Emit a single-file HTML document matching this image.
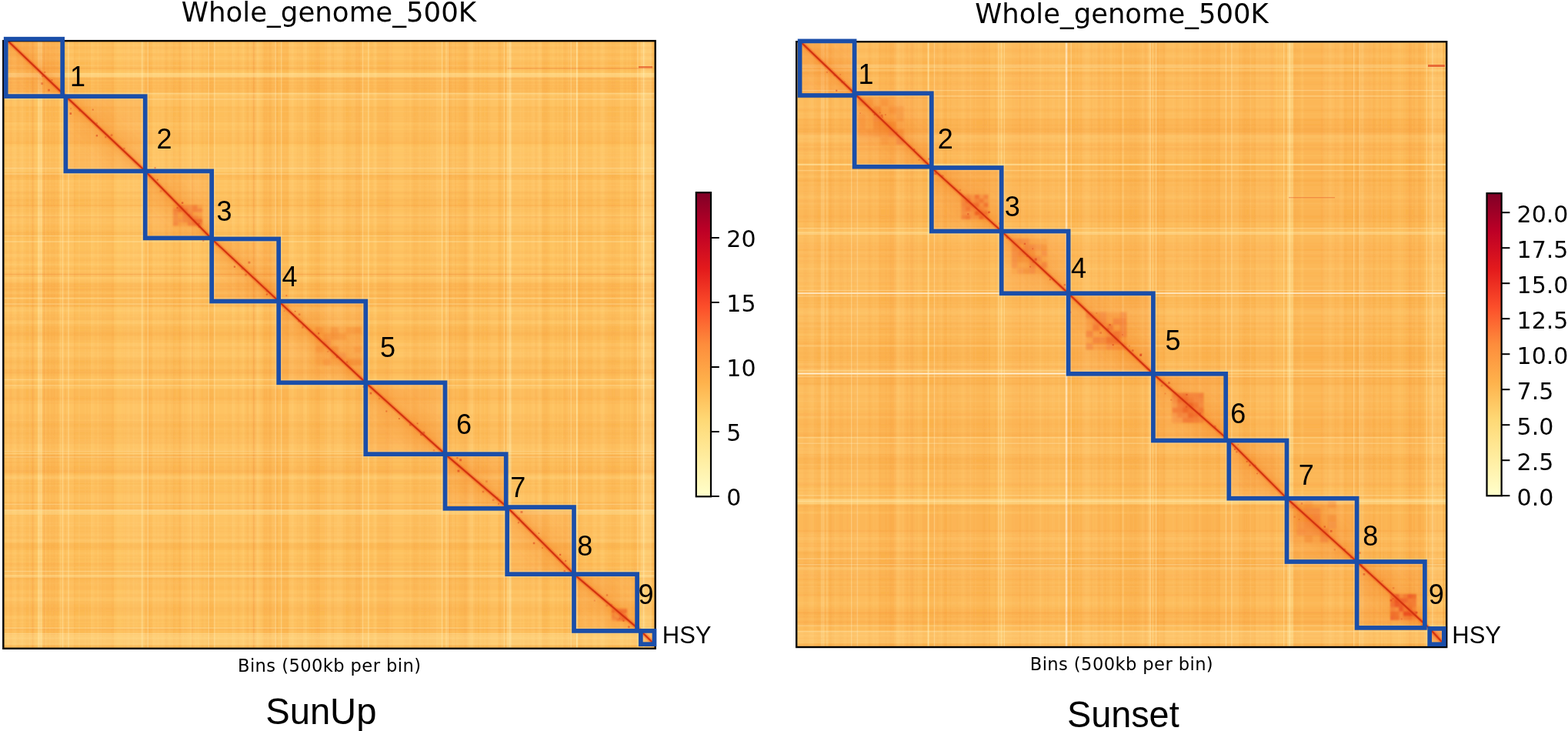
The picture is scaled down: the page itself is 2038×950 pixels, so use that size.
<!DOCTYPE html>
<html><head><meta charset="utf-8"><title>Whole genome Hi-C</title>
<style>
html,body{margin:0;padding:0;background:#fff;}
body{width:2038px;height:950px;overflow:hidden;position:relative;}
svg{position:absolute;left:0;top:0;display:block;}
.n{font-family:"Liberation Sans",Arial,sans-serif;font-size:36px;fill:#000;}
.h{font-family:"Liberation Sans",Arial,sans-serif;font-size:31px;fill:#000;}
.t{font-family:"DejaVu Sans",sans-serif;font-size:30px;fill:#000;}
.ti{font-family:"DejaVu Sans",sans-serif;font-size:37px;fill:#000;text-anchor:middle;}
.xl{font-family:"DejaVu Sans",sans-serif;font-size:22.6px;fill:#000;text-anchor:middle;}
.big{font-family:"Liberation Sans",Arial,sans-serif;font-size:49px;fill:#000;text-anchor:middle;}
</style></head>
<body>
<svg width="2038" height="950" viewBox="0 0 2038 950">
<defs><linearGradient id="ylorrd" x1="0" y1="1" x2="0" y2="0"><stop offset="0.000" stop-color="#ffffcc"/><stop offset="0.125" stop-color="#ffeda0"/><stop offset="0.250" stop-color="#fed976"/><stop offset="0.375" stop-color="#feb24c"/><stop offset="0.500" stop-color="#fd8d3c"/><stop offset="0.625" stop-color="#fc4e2a"/><stop offset="0.750" stop-color="#e31a1c"/><stop offset="0.875" stop-color="#bd0026"/><stop offset="1.000" stop-color="#800026"/></linearGradient><filter id="blur3" x="-50%" y="-50%" width="200%" height="200%"><feGaussianBlur stdDeviation="3"/></filter><filter id="soft" x="0" y="0" width="100%" height="100%"><feGaussianBlur stdDeviation="0.6"/></filter><filter id="blur1" x="-10%" y="-10%" width="120%" height="120%"><feGaussianBlur stdDeviation="1.3"/></filter><filter id="blur8" x="-20%" y="-20%" width="140%" height="140%"><feGaussianBlur stdDeviation="8"/></filter></defs>
<clipPath id="cL"><rect x="4.3" y="53.1" width="847.4" height="789.7"/></clipPath>
<clipPath id="kL"><rect x="7.7" y="50.7" width="73.5" height="74.4"/><rect x="85.4" y="125.2" width="103.3" height="97.2"/><rect x="188.7" y="222.4" width="86.5" height="87"/><rect x="275.2" y="310.5" width="87" height="81"/><rect x="362.2" y="391.5" width="113.1" height="105.8"/><rect x="475.3" y="497.3" width="103.2" height="92.9"/><rect x="578.5" y="590.2" width="79.2" height="70.6"/><rect x="659.2" y="659.1" width="86.8" height="87.1"/><rect x="746" y="746.2" width="82.1" height="73.7"/><rect x="832.8" y="819.9" width="17.7" height="17.3"/></clipPath>
<g clip-path="url(#cL)">
<rect x="4.3" y="53.1" width="847.4" height="789.7" fill="#febf5b"/>
<g filter="url(#soft)"><rect x="5.4" y="54.2" width="2" height="787.5" fill="#f08a30" fill-opacity="0.080"/><rect x="9.4" y="54.2" width="2" height="787.5" fill="#fff2b0" fill-opacity="0.046"/><rect x="11.4" y="54.2" width="2" height="787.5" fill="#f08a30" fill-opacity="0.033"/><rect x="13.4" y="54.2" width="2" height="787.5" fill="#f08a30" fill-opacity="0.082"/><rect x="17.5" y="54.2" width="2" height="787.5" fill="#fff2b0" fill-opacity="0.033"/><rect x="19.5" y="54.2" width="2" height="787.5" fill="#fff2b0" fill-opacity="0.044"/><rect x="21.5" y="54.2" width="2" height="787.5" fill="#f08a30" fill-opacity="0.071"/><rect x="23.5" y="54.2" width="2" height="787.5" fill="#f08a30" fill-opacity="0.080"/><rect x="27.5" y="54.2" width="2" height="787.5" fill="#fff2b0" fill-opacity="0.045"/><rect x="29.5" y="54.2" width="2" height="787.5" fill="#fff2b0" fill-opacity="0.087"/><rect x="31.6" y="54.2" width="2" height="787.5" fill="#fff2b0" fill-opacity="0.061"/><rect x="37.6" y="54.2" width="2" height="787.5" fill="#fff2b0" fill-opacity="0.116"/><rect x="41.6" y="54.2" width="2" height="787.5" fill="#f08a30" fill-opacity="0.062"/><rect x="43.6" y="54.2" width="2" height="787.5" fill="#f08a30" fill-opacity="0.073"/><rect x="55.7" y="54.2" width="2" height="787.5" fill="#fff2b0" fill-opacity="0.047"/><rect x="57.7" y="54.2" width="2" height="787.5" fill="#fff2b0" fill-opacity="0.061"/><rect x="61.7" y="54.2" width="2" height="787.5" fill="#f08a30" fill-opacity="0.090"/><rect x="65.8" y="54.2" width="2" height="787.5" fill="#f08a30" fill-opacity="0.074"/><rect x="67.8" y="54.2" width="2" height="787.5" fill="#f08a30" fill-opacity="0.045"/><rect x="69.8" y="54.2" width="2" height="787.5" fill="#f08a30" fill-opacity="0.086"/><rect x="73.8" y="54.2" width="2" height="787.5" fill="#f08a30" fill-opacity="0.042"/><rect x="75.8" y="54.2" width="2" height="787.5" fill="#fff2b0" fill-opacity="0.036"/><rect x="77.8" y="54.2" width="2" height="787.5" fill="#fff2b0" fill-opacity="0.158"/><rect x="79.9" y="54.2" width="2" height="787.5" fill="#fff2b0" fill-opacity="0.040"/><rect x="83.9" y="54.2" width="2" height="787.5" fill="#f08a30" fill-opacity="0.068"/><rect x="96" y="54.2" width="2" height="787.5" fill="#f08a30" fill-opacity="0.049"/><rect x="102" y="54.2" width="2" height="787.5" fill="#fff2b0" fill-opacity="0.075"/><rect x="110" y="54.2" width="2" height="787.5" fill="#fff2b0" fill-opacity="0.039"/><rect x="114.1" y="54.2" width="2" height="787.5" fill="#fff2b0" fill-opacity="0.040"/><rect x="118.1" y="54.2" width="2" height="787.5" fill="#fff2b0" fill-opacity="0.065"/><rect x="120.1" y="54.2" width="2" height="787.5" fill="#fff2b0" fill-opacity="0.044"/><rect x="124.1" y="54.2" width="2" height="787.5" fill="#f08a30" fill-opacity="0.033"/><rect x="126.1" y="54.2" width="2" height="787.5" fill="#fff2b0" fill-opacity="0.033"/><rect x="128.2" y="54.2" width="2" height="787.5" fill="#fff2b0" fill-opacity="0.047"/><rect x="130.2" y="54.2" width="2" height="787.5" fill="#fff2b0" fill-opacity="0.079"/><rect x="134.2" y="54.2" width="2" height="787.5" fill="#fff2b0" fill-opacity="0.028"/><rect x="136.2" y="54.2" width="2" height="787.5" fill="#fff2b0" fill-opacity="0.032"/><rect x="144.3" y="54.2" width="2" height="787.5" fill="#f08a30" fill-opacity="0.044"/><rect x="146.3" y="54.2" width="2" height="787.5" fill="#f08a30" fill-opacity="0.070"/><rect x="150.3" y="54.2" width="2" height="787.5" fill="#fff2b0" fill-opacity="0.039"/><rect x="152.3" y="54.2" width="2" height="787.5" fill="#fff2b0" fill-opacity="0.087"/><rect x="154.3" y="54.2" width="2" height="787.5" fill="#fff2b0" fill-opacity="0.072"/><rect x="156.3" y="54.2" width="2" height="787.5" fill="#fff2b0" fill-opacity="0.068"/><rect x="158.3" y="54.2" width="2" height="787.5" fill="#fff2b0" fill-opacity="0.054"/><rect x="160.4" y="54.2" width="2" height="787.5" fill="#fff2b0" fill-opacity="0.043"/><rect x="164.4" y="54.2" width="2" height="787.5" fill="#fff2b0" fill-opacity="0.056"/><rect x="166.4" y="54.2" width="2" height="787.5" fill="#fff2b0" fill-opacity="0.088"/><rect x="172.4" y="54.2" width="2" height="787.5" fill="#fff2b0" fill-opacity="0.088"/><rect x="174.4" y="54.2" width="2" height="787.5" fill="#fff2b0" fill-opacity="0.041"/><rect x="176.5" y="54.2" width="2" height="787.5" fill="#fff2b0" fill-opacity="0.057"/><rect x="178.5" y="54.2" width="2" height="787.5" fill="#fff2b0" fill-opacity="0.040"/><rect x="182.5" y="54.2" width="2" height="787.5" fill="#fff2b0" fill-opacity="0.121"/><rect x="184.5" y="54.2" width="2" height="787.5" fill="#fff2b0" fill-opacity="0.110"/><rect x="186.5" y="54.2" width="2" height="787.5" fill="#fff2b0" fill-opacity="0.034"/><rect x="188.5" y="54.2" width="2" height="787.5" fill="#fff2b0" fill-opacity="0.039"/><rect x="192.6" y="54.2" width="2" height="787.5" fill="#f08a30" fill-opacity="0.050"/><rect x="196.6" y="54.2" width="2" height="787.5" fill="#fff2b0" fill-opacity="0.028"/><rect x="198.6" y="54.2" width="2" height="787.5" fill="#fff2b0" fill-opacity="0.064"/><rect x="200.6" y="54.2" width="2" height="787.5" fill="#fff2b0" fill-opacity="0.045"/><rect x="204.6" y="54.2" width="2" height="787.5" fill="#fff2b0" fill-opacity="0.057"/><rect x="208.7" y="54.2" width="2" height="787.5" fill="#fff2b0" fill-opacity="0.041"/><rect x="210.7" y="54.2" width="2" height="787.5" fill="#fff2b0" fill-opacity="0.058"/><rect x="214.7" y="54.2" width="2" height="787.5" fill="#f08a30" fill-opacity="0.116"/><rect x="216.7" y="54.2" width="2" height="787.5" fill="#f08a30" fill-opacity="0.070"/><rect x="220.7" y="54.2" width="2" height="787.5" fill="#fff2b0" fill-opacity="0.043"/><rect x="222.7" y="54.2" width="2" height="787.5" fill="#fff2b0" fill-opacity="0.068"/><rect x="224.7" y="54.2" width="2" height="787.5" fill="#f08a30" fill-opacity="0.038"/><rect x="228.8" y="54.2" width="2" height="787.5" fill="#fff2b0" fill-opacity="0.029"/><rect x="232.8" y="54.2" width="2" height="787.5" fill="#f08a30" fill-opacity="0.126"/><rect x="234.8" y="54.2" width="2" height="787.5" fill="#fff2b0" fill-opacity="0.038"/><rect x="236.8" y="54.2" width="2" height="787.5" fill="#fff2b0" fill-opacity="0.128"/><rect x="238.8" y="54.2" width="2" height="787.5" fill="#fff2b0" fill-opacity="0.062"/><rect x="240.8" y="54.2" width="2" height="787.5" fill="#f08a30" fill-opacity="0.045"/><rect x="244.9" y="54.2" width="2" height="787.5" fill="#fff2b0" fill-opacity="0.032"/><rect x="246.9" y="54.2" width="2" height="787.5" fill="#fff2b0" fill-opacity="0.126"/><rect x="248.9" y="54.2" width="2" height="787.5" fill="#fff2b0" fill-opacity="0.056"/><rect x="252.9" y="54.2" width="2" height="787.5" fill="#fff2b0" fill-opacity="0.074"/><rect x="254.9" y="54.2" width="2" height="787.5" fill="#fff2b0" fill-opacity="0.031"/><rect x="256.9" y="54.2" width="2" height="787.5" fill="#fff2b0" fill-opacity="0.080"/><rect x="263" y="54.2" width="2" height="787.5" fill="#fff2b0" fill-opacity="0.044"/><rect x="265" y="54.2" width="2" height="787.5" fill="#fff2b0" fill-opacity="0.081"/><rect x="267" y="54.2" width="2" height="787.5" fill="#fff2b0" fill-opacity="0.048"/><rect x="271" y="54.2" width="2" height="787.5" fill="#f08a30" fill-opacity="0.108"/><rect x="273" y="54.2" width="2" height="787.5" fill="#f08a30" fill-opacity="0.070"/><rect x="275.1" y="54.2" width="2" height="787.5" fill="#f08a30" fill-opacity="0.050"/><rect x="283.1" y="54.2" width="2" height="787.5" fill="#fff2b0" fill-opacity="0.035"/><rect x="291.2" y="54.2" width="2" height="787.5" fill="#fff2b0" fill-opacity="0.030"/><rect x="293.2" y="54.2" width="2" height="787.5" fill="#fff2b0" fill-opacity="0.040"/><rect x="297.2" y="54.2" width="2" height="787.5" fill="#f08a30" fill-opacity="0.036"/><rect x="299.2" y="54.2" width="2" height="787.5" fill="#f08a30" fill-opacity="0.061"/><rect x="301.2" y="54.2" width="2" height="787.5" fill="#fff2b0" fill-opacity="0.077"/><rect x="303.2" y="54.2" width="2" height="787.5" fill="#fff2b0" fill-opacity="0.083"/><rect x="307.3" y="54.2" width="2" height="787.5" fill="#f08a30" fill-opacity="0.044"/><rect x="309.3" y="54.2" width="2" height="787.5" fill="#f08a30" fill-opacity="0.074"/><rect x="313.3" y="54.2" width="2" height="787.5" fill="#fff2b0" fill-opacity="0.034"/><rect x="315.3" y="54.2" width="2" height="787.5" fill="#fff2b0" fill-opacity="0.108"/><rect x="319.3" y="54.2" width="2" height="787.5" fill="#f08a30" fill-opacity="0.071"/><rect x="321.3" y="54.2" width="2" height="787.5" fill="#f08a30" fill-opacity="0.131"/><rect x="323.4" y="54.2" width="2" height="787.5" fill="#fff2b0" fill-opacity="0.044"/><rect x="327.4" y="54.2" width="2" height="787.5" fill="#f08a30" fill-opacity="0.087"/><rect x="331.4" y="54.2" width="2" height="787.5" fill="#f08a30" fill-opacity="0.047"/><rect x="333.4" y="54.2" width="2" height="787.5" fill="#fff2b0" fill-opacity="0.159"/><rect x="335.4" y="54.2" width="2" height="787.5" fill="#fff2b0" fill-opacity="0.094"/><rect x="337.4" y="54.2" width="2" height="787.5" fill="#fff2b0" fill-opacity="0.037"/><rect x="341.5" y="54.2" width="2" height="787.5" fill="#f08a30" fill-opacity="0.125"/><rect x="343.5" y="54.2" width="2" height="787.5" fill="#f08a30" fill-opacity="0.052"/><rect x="345.5" y="54.2" width="2" height="787.5" fill="#f08a30" fill-opacity="0.082"/><rect x="349.5" y="54.2" width="2" height="787.5" fill="#f08a30" fill-opacity="0.125"/><rect x="351.5" y="54.2" width="2" height="787.5" fill="#f08a30" fill-opacity="0.063"/><rect x="353.5" y="54.2" width="2" height="787.5" fill="#fff2b0" fill-opacity="0.065"/><rect x="355.6" y="54.2" width="2" height="787.5" fill="#fff2b0" fill-opacity="0.078"/><rect x="357.6" y="54.2" width="2" height="787.5" fill="#f08a30" fill-opacity="0.066"/><rect x="359.6" y="54.2" width="2" height="787.5" fill="#f08a30" fill-opacity="0.091"/><rect x="361.6" y="54.2" width="2" height="787.5" fill="#fff2b0" fill-opacity="0.035"/><rect x="363.6" y="54.2" width="2" height="787.5" fill="#fff2b0" fill-opacity="0.039"/><rect x="365.6" y="54.2" width="2" height="787.5" fill="#f08a30" fill-opacity="0.054"/><rect x="367.6" y="54.2" width="2" height="787.5" fill="#f08a30" fill-opacity="0.060"/><rect x="369.6" y="54.2" width="2" height="787.5" fill="#f08a30" fill-opacity="0.062"/><rect x="371.7" y="54.2" width="2" height="787.5" fill="#f08a30" fill-opacity="0.084"/><rect x="373.7" y="54.2" width="2" height="787.5" fill="#f08a30" fill-opacity="0.038"/><rect x="375.7" y="54.2" width="2" height="787.5" fill="#fff2b0" fill-opacity="0.059"/><rect x="377.7" y="54.2" width="2" height="787.5" fill="#fff2b0" fill-opacity="0.066"/><rect x="379.7" y="54.2" width="2" height="787.5" fill="#fff2b0" fill-opacity="0.103"/><rect x="385.7" y="54.2" width="2" height="787.5" fill="#f08a30" fill-opacity="0.059"/><rect x="387.8" y="54.2" width="2" height="787.5" fill="#f08a30" fill-opacity="0.035"/><rect x="389.8" y="54.2" width="2" height="787.5" fill="#f08a30" fill-opacity="0.098"/><rect x="391.8" y="54.2" width="2" height="787.5" fill="#f08a30" fill-opacity="0.108"/><rect x="393.8" y="54.2" width="2" height="787.5" fill="#fff2b0" fill-opacity="0.030"/><rect x="395.8" y="54.2" width="2" height="787.5" fill="#fff2b0" fill-opacity="0.084"/><rect x="397.8" y="54.2" width="2" height="787.5" fill="#fff2b0" fill-opacity="0.068"/><rect x="399.8" y="54.2" width="2" height="787.5" fill="#fff2b0" fill-opacity="0.074"/><rect x="403.9" y="54.2" width="2" height="787.5" fill="#f08a30" fill-opacity="0.037"/><rect x="407.9" y="54.2" width="2" height="787.5" fill="#f08a30" fill-opacity="0.034"/><rect x="409.9" y="54.2" width="2" height="787.5" fill="#f08a30" fill-opacity="0.088"/><rect x="411.9" y="54.2" width="2" height="787.5" fill="#f08a30" fill-opacity="0.127"/><rect x="413.9" y="54.2" width="2" height="787.5" fill="#f08a30" fill-opacity="0.105"/><rect x="422" y="54.2" width="2" height="787.5" fill="#fff2b0" fill-opacity="0.065"/><rect x="424" y="54.2" width="2" height="787.5" fill="#fff2b0" fill-opacity="0.029"/><rect x="426" y="54.2" width="2" height="787.5" fill="#fff2b0" fill-opacity="0.042"/><rect x="428" y="54.2" width="2" height="787.5" fill="#fff2b0" fill-opacity="0.055"/><rect x="430" y="54.2" width="2" height="787.5" fill="#f08a30" fill-opacity="0.056"/><rect x="432" y="54.2" width="2" height="787.5" fill="#f08a30" fill-opacity="0.113"/><rect x="438.1" y="54.2" width="2" height="787.5" fill="#fff2b0" fill-opacity="0.058"/><rect x="440.1" y="54.2" width="2" height="787.5" fill="#fff2b0" fill-opacity="0.039"/><rect x="442.1" y="54.2" width="2" height="787.5" fill="#fff2b0" fill-opacity="0.059"/><rect x="446.1" y="54.2" width="2" height="787.5" fill="#f08a30" fill-opacity="0.100"/><rect x="450.1" y="54.2" width="2" height="787.5" fill="#f08a30" fill-opacity="0.039"/><rect x="452.1" y="54.2" width="2" height="787.5" fill="#f08a30" fill-opacity="0.056"/><rect x="456.2" y="54.2" width="2" height="787.5" fill="#fff2b0" fill-opacity="0.041"/><rect x="458.2" y="54.2" width="2" height="787.5" fill="#fff2b0" fill-opacity="0.060"/><rect x="460.2" y="54.2" width="2" height="787.5" fill="#fff2b0" fill-opacity="0.040"/><rect x="462.2" y="54.2" width="2" height="787.5" fill="#f08a30" fill-opacity="0.089"/><rect x="464.2" y="54.2" width="2" height="787.5" fill="#f08a30" fill-opacity="0.083"/><rect x="466.2" y="54.2" width="2" height="787.5" fill="#f08a30" fill-opacity="0.143"/><rect x="472.3" y="54.2" width="2" height="787.5" fill="#f08a30" fill-opacity="0.033"/><rect x="478.3" y="54.2" width="2" height="787.5" fill="#fff2b0" fill-opacity="0.042"/><rect x="480.3" y="54.2" width="2" height="787.5" fill="#f08a30" fill-opacity="0.044"/><rect x="482.3" y="54.2" width="2" height="787.5" fill="#f08a30" fill-opacity="0.066"/><rect x="486.4" y="54.2" width="2" height="787.5" fill="#fff2b0" fill-opacity="0.086"/><rect x="488.4" y="54.2" width="2" height="787.5" fill="#fff2b0" fill-opacity="0.068"/><rect x="500.4" y="54.2" width="2" height="787.5" fill="#f08a30" fill-opacity="0.037"/><rect x="502.5" y="54.2" width="2" height="787.5" fill="#f08a30" fill-opacity="0.083"/><rect x="506.5" y="54.2" width="2" height="787.5" fill="#fff2b0" fill-opacity="0.077"/><rect x="508.5" y="54.2" width="2" height="787.5" fill="#fff2b0" fill-opacity="0.043"/><rect x="524.6" y="54.2" width="2" height="787.5" fill="#f08a30" fill-opacity="0.049"/><rect x="526.6" y="54.2" width="2" height="787.5" fill="#f08a30" fill-opacity="0.066"/><rect x="528.6" y="54.2" width="2" height="787.5" fill="#f08a30" fill-opacity="0.079"/><rect x="530.6" y="54.2" width="2" height="787.5" fill="#f08a30" fill-opacity="0.062"/><rect x="534.7" y="54.2" width="2" height="787.5" fill="#f08a30" fill-opacity="0.126"/><rect x="536.7" y="54.2" width="2" height="787.5" fill="#f08a30" fill-opacity="0.051"/><rect x="538.7" y="54.2" width="2" height="787.5" fill="#f08a30" fill-opacity="0.045"/><rect x="540.7" y="54.2" width="2" height="787.5" fill="#f08a30" fill-opacity="0.041"/><rect x="544.7" y="54.2" width="2" height="787.5" fill="#fff2b0" fill-opacity="0.055"/><rect x="550.8" y="54.2" width="2" height="787.5" fill="#f08a30" fill-opacity="0.038"/><rect x="554.8" y="54.2" width="2" height="787.5" fill="#fff2b0" fill-opacity="0.038"/><rect x="558.8" y="54.2" width="2" height="787.5" fill="#f08a30" fill-opacity="0.085"/><rect x="560.8" y="54.2" width="2" height="787.5" fill="#f08a30" fill-opacity="0.099"/><rect x="562.8" y="54.2" width="2" height="787.5" fill="#f08a30" fill-opacity="0.095"/><rect x="564.8" y="54.2" width="2" height="787.5" fill="#f08a30" fill-opacity="0.079"/><rect x="566.9" y="54.2" width="2" height="787.5" fill="#fff2b0" fill-opacity="0.041"/><rect x="572.9" y="54.2" width="2" height="787.5" fill="#fff2b0" fill-opacity="0.060"/><rect x="576.9" y="54.2" width="2" height="787.5" fill="#fff2b0" fill-opacity="0.037"/><rect x="578.9" y="54.2" width="2" height="787.5" fill="#fff2b0" fill-opacity="0.030"/><rect x="580.9" y="54.2" width="2" height="787.5" fill="#f08a30" fill-opacity="0.097"/><rect x="583" y="54.2" width="2" height="787.5" fill="#f08a30" fill-opacity="0.118"/><rect x="585" y="54.2" width="2" height="787.5" fill="#f08a30" fill-opacity="0.060"/><rect x="587" y="54.2" width="2" height="787.5" fill="#fff2b0" fill-opacity="0.047"/><rect x="589" y="54.2" width="2" height="787.5" fill="#fff2b0" fill-opacity="0.058"/><rect x="591" y="54.2" width="2" height="787.5" fill="#f08a30" fill-opacity="0.041"/><rect x="593" y="54.2" width="2" height="787.5" fill="#fff2b0" fill-opacity="0.033"/><rect x="597" y="54.2" width="2" height="787.5" fill="#f08a30" fill-opacity="0.034"/><rect x="599.1" y="54.2" width="2" height="787.5" fill="#f08a30" fill-opacity="0.040"/><rect x="601.1" y="54.2" width="2" height="787.5" fill="#f08a30" fill-opacity="0.047"/><rect x="603.1" y="54.2" width="2" height="787.5" fill="#f08a30" fill-opacity="0.119"/><rect x="605.1" y="54.2" width="2" height="787.5" fill="#f08a30" fill-opacity="0.094"/><rect x="607.1" y="54.2" width="2" height="787.5" fill="#f08a30" fill-opacity="0.076"/><rect x="609.1" y="54.2" width="2" height="787.5" fill="#fff2b0" fill-opacity="0.032"/><rect x="611.1" y="54.2" width="2" height="787.5" fill="#fff2b0" fill-opacity="0.131"/><rect x="613.1" y="54.2" width="2" height="787.5" fill="#fff2b0" fill-opacity="0.147"/><rect x="617.2" y="54.2" width="2" height="787.5" fill="#f08a30" fill-opacity="0.107"/><rect x="619.2" y="54.2" width="2" height="787.5" fill="#f08a30" fill-opacity="0.055"/><rect x="621.2" y="54.2" width="2" height="787.5" fill="#f08a30" fill-opacity="0.034"/><rect x="623.2" y="54.2" width="2" height="787.5" fill="#fff2b0" fill-opacity="0.090"/><rect x="625.2" y="54.2" width="2" height="787.5" fill="#fff2b0" fill-opacity="0.040"/><rect x="629.2" y="54.2" width="2" height="787.5" fill="#fff2b0" fill-opacity="0.042"/><rect x="633.3" y="54.2" width="2" height="787.5" fill="#f08a30" fill-opacity="0.092"/><rect x="635.3" y="54.2" width="2" height="787.5" fill="#f08a30" fill-opacity="0.053"/><rect x="647.3" y="54.2" width="2" height="787.5" fill="#f08a30" fill-opacity="0.042"/><rect x="649.4" y="54.2" width="2" height="787.5" fill="#f08a30" fill-opacity="0.040"/><rect x="651.4" y="54.2" width="2" height="787.5" fill="#fff2b0" fill-opacity="0.066"/><rect x="653.4" y="54.2" width="2" height="787.5" fill="#fff2b0" fill-opacity="0.037"/><rect x="657.4" y="54.2" width="2" height="787.5" fill="#f08a30" fill-opacity="0.087"/><rect x="663.4" y="54.2" width="2" height="787.5" fill="#f08a30" fill-opacity="0.050"/><rect x="665.5" y="54.2" width="2" height="787.5" fill="#fff2b0" fill-opacity="0.035"/><rect x="675.5" y="54.2" width="2" height="787.5" fill="#fff2b0" fill-opacity="0.055"/><rect x="679.5" y="54.2" width="2" height="787.5" fill="#fff2b0" fill-opacity="0.062"/><rect x="681.6" y="54.2" width="2" height="787.5" fill="#f08a30" fill-opacity="0.037"/><rect x="683.6" y="54.2" width="2" height="787.5" fill="#f08a30" fill-opacity="0.054"/><rect x="687.6" y="54.2" width="2" height="787.5" fill="#f08a30" fill-opacity="0.056"/><rect x="691.6" y="54.2" width="2" height="787.5" fill="#fff2b0" fill-opacity="0.051"/><rect x="693.6" y="54.2" width="2" height="787.5" fill="#fff2b0" fill-opacity="0.048"/><rect x="695.6" y="54.2" width="2" height="787.5" fill="#f08a30" fill-opacity="0.080"/><rect x="699.7" y="54.2" width="2" height="787.5" fill="#fff2b0" fill-opacity="0.106"/><rect x="701.7" y="54.2" width="2" height="787.5" fill="#fff2b0" fill-opacity="0.073"/><rect x="705.7" y="54.2" width="2" height="787.5" fill="#f08a30" fill-opacity="0.041"/><rect x="707.7" y="54.2" width="2" height="787.5" fill="#f08a30" fill-opacity="0.038"/><rect x="709.7" y="54.2" width="2" height="787.5" fill="#f08a30" fill-opacity="0.072"/><rect x="717.8" y="54.2" width="2" height="787.5" fill="#fff2b0" fill-opacity="0.052"/><rect x="721.8" y="54.2" width="2" height="787.5" fill="#f08a30" fill-opacity="0.073"/><rect x="725.8" y="54.2" width="2" height="787.5" fill="#f08a30" fill-opacity="0.053"/><rect x="727.8" y="54.2" width="2" height="787.5" fill="#f08a30" fill-opacity="0.040"/><rect x="731.9" y="54.2" width="2" height="787.5" fill="#f08a30" fill-opacity="0.033"/><rect x="733.9" y="54.2" width="2" height="787.5" fill="#f08a30" fill-opacity="0.064"/><rect x="737.9" y="54.2" width="2" height="787.5" fill="#fff2b0" fill-opacity="0.095"/><rect x="743.9" y="54.2" width="2" height="787.5" fill="#fff2b0" fill-opacity="0.059"/><rect x="746" y="54.2" width="2" height="787.5" fill="#fff2b0" fill-opacity="0.054"/><rect x="748" y="54.2" width="2" height="787.5" fill="#fff2b0" fill-opacity="0.052"/><rect x="750" y="54.2" width="2" height="787.5" fill="#fff2b0" fill-opacity="0.029"/><rect x="752" y="54.2" width="2" height="787.5" fill="#f08a30" fill-opacity="0.112"/><rect x="754" y="54.2" width="2" height="787.5" fill="#f08a30" fill-opacity="0.071"/><rect x="758" y="54.2" width="2" height="787.5" fill="#fff2b0" fill-opacity="0.038"/><rect x="760" y="54.2" width="2" height="787.5" fill="#fff2b0" fill-opacity="0.071"/><rect x="762.1" y="54.2" width="2" height="787.5" fill="#fff2b0" fill-opacity="0.033"/><rect x="772.1" y="54.2" width="2" height="787.5" fill="#fff2b0" fill-opacity="0.031"/><rect x="776.1" y="54.2" width="2" height="787.5" fill="#f08a30" fill-opacity="0.061"/><rect x="778.2" y="54.2" width="2" height="787.5" fill="#f08a30" fill-opacity="0.045"/><rect x="780.2" y="54.2" width="2" height="787.5" fill="#fff2b0" fill-opacity="0.056"/><rect x="782.2" y="54.2" width="2" height="787.5" fill="#fff2b0" fill-opacity="0.082"/><rect x="784.2" y="54.2" width="2" height="787.5" fill="#fff2b0" fill-opacity="0.069"/><rect x="786.2" y="54.2" width="2" height="787.5" fill="#fff2b0" fill-opacity="0.059"/><rect x="788.2" y="54.2" width="2" height="787.5" fill="#fff2b0" fill-opacity="0.048"/><rect x="794.3" y="54.2" width="2" height="787.5" fill="#f08a30" fill-opacity="0.054"/><rect x="796.3" y="54.2" width="2" height="787.5" fill="#f08a30" fill-opacity="0.033"/><rect x="798.3" y="54.2" width="2" height="787.5" fill="#f08a30" fill-opacity="0.035"/><rect x="806.3" y="54.2" width="2" height="787.5" fill="#fff2b0" fill-opacity="0.032"/><rect x="808.3" y="54.2" width="2" height="787.5" fill="#fff2b0" fill-opacity="0.060"/><rect x="810.4" y="54.2" width="2" height="787.5" fill="#f08a30" fill-opacity="0.040"/><rect x="812.4" y="54.2" width="2" height="787.5" fill="#f08a30" fill-opacity="0.053"/><rect x="816.4" y="54.2" width="2" height="787.5" fill="#f08a30" fill-opacity="0.047"/><rect x="822.4" y="54.2" width="2" height="787.5" fill="#f08a30" fill-opacity="0.035"/><rect x="824.4" y="54.2" width="2" height="787.5" fill="#f08a30" fill-opacity="0.096"/><rect x="832.5" y="54.2" width="2" height="787.5" fill="#fff2b0" fill-opacity="0.096"/><rect x="834.5" y="54.2" width="2" height="787.5" fill="#fff2b0" fill-opacity="0.090"/><rect x="836.5" y="54.2" width="2" height="787.5" fill="#fff2b0" fill-opacity="0.177"/><rect x="838.5" y="54.2" width="2" height="787.5" fill="#fff2b0" fill-opacity="0.051"/><rect x="844.6" y="54.2" width="2" height="787.5" fill="#fff2b0" fill-opacity="0.077"/><rect x="5.4" y="54.2" width="24.8" height="787.5" fill="#fff2b8" fill-opacity="0.043"/><rect x="30.2" y="54.2" width="11.4" height="787.5" fill="#f2872c" fill-opacity="0.053"/><rect x="41.6" y="54.2" width="9.3" height="787.5" fill="#fff2b8" fill-opacity="0.036"/><rect x="50.9" y="54.2" width="26.3" height="787.5" fill="#f2872c" fill-opacity="0.074"/><rect x="77.3" y="54.2" width="18.6" height="787.5" fill="#fff2b8" fill-opacity="0.053"/><rect x="95.9" y="54.2" width="22" height="787.5" fill="#f2872c" fill-opacity="0.045"/><rect x="117.9" y="54.2" width="11" height="787.5" fill="#fff2b8" fill-opacity="0.031"/><rect x="128.9" y="54.2" width="18.8" height="787.5" fill="#f2872c" fill-opacity="0.059"/><rect x="147.7" y="54.2" width="12.5" height="787.5" fill="#fff2b8" fill-opacity="0.036"/><rect x="160.2" y="54.2" width="27.8" height="787.5" fill="#fff2b8" fill-opacity="0.058"/><rect x="188" y="54.2" width="10.2" height="787.5" fill="#f2872c" fill-opacity="0.073"/><rect x="198.2" y="54.2" width="23.5" height="787.5" fill="#fff2b8" fill-opacity="0.040"/><rect x="221.7" y="54.2" width="18.8" height="787.5" fill="#f2872c" fill-opacity="0.054"/><rect x="240.5" y="54.2" width="9.3" height="787.5" fill="#fff2b8" fill-opacity="0.051"/><rect x="249.8" y="54.2" width="12.4" height="787.5" fill="#fff2b8" fill-opacity="0.044"/><rect x="262.2" y="54.2" width="16.7" height="787.5" fill="#f2872c" fill-opacity="0.045"/><rect x="278.9" y="54.2" width="18.7" height="787.5" fill="#fff2b8" fill-opacity="0.030"/><rect x="297.6" y="54.2" width="24.2" height="787.5" fill="#fff2b8" fill-opacity="0.051"/><rect x="321.9" y="54.2" width="21" height="787.5" fill="#fff2b8" fill-opacity="0.042"/><rect x="342.8" y="54.2" width="18.6" height="787.5" fill="#f2872c" fill-opacity="0.074"/><rect x="361.4" y="54.2" width="13.9" height="787.5" fill="#f2872c" fill-opacity="0.072"/><rect x="375.3" y="54.2" width="23.8" height="787.5" fill="#fff2b8" fill-opacity="0.054"/><rect x="399.1" y="54.2" width="26" height="787.5" fill="#f2872c" fill-opacity="0.070"/><rect x="425.1" y="54.2" width="23.6" height="787.5" fill="#fff2b8" fill-opacity="0.053"/><rect x="448.7" y="54.2" width="22.7" height="787.5" fill="#f2872c" fill-opacity="0.040"/><rect x="471.5" y="54.2" width="17.9" height="787.5" fill="#fff2b8" fill-opacity="0.030"/><rect x="489.4" y="54.2" width="21.1" height="787.5" fill="#f2872c" fill-opacity="0.061"/><rect x="510.5" y="54.2" width="26.9" height="787.5" fill="#fff2b8" fill-opacity="0.050"/><rect x="537.4" y="54.2" width="21.5" height="787.5" fill="#f2872c" fill-opacity="0.059"/><rect x="559" y="54.2" width="16.4" height="787.5" fill="#fff2b8" fill-opacity="0.060"/><rect x="575.4" y="54.2" width="22.3" height="787.5" fill="#f2872c" fill-opacity="0.066"/><rect x="597.7" y="54.2" width="9.4" height="787.5" fill="#f2872c" fill-opacity="0.061"/><rect x="607.1" y="54.2" width="13.9" height="787.5" fill="#fff2b8" fill-opacity="0.042"/><rect x="621" y="54.2" width="12.7" height="787.5" fill="#f2872c" fill-opacity="0.052"/><rect x="633.7" y="54.2" width="13.8" height="787.5" fill="#fff2b8" fill-opacity="0.057"/><rect x="647.5" y="54.2" width="18.6" height="787.5" fill="#f2872c" fill-opacity="0.074"/><rect x="666.1" y="54.2" width="27.9" height="787.5" fill="#fff2b8" fill-opacity="0.049"/><rect x="694.1" y="54.2" width="10.4" height="787.5" fill="#fff2b8" fill-opacity="0.048"/><rect x="704.5" y="54.2" width="9.9" height="787.5" fill="#f2872c" fill-opacity="0.072"/><rect x="714.4" y="54.2" width="18" height="787.5" fill="#fff2b8" fill-opacity="0.035"/><rect x="732.3" y="54.2" width="20.6" height="787.5" fill="#f2872c" fill-opacity="0.040"/><rect x="752.9" y="54.2" width="17" height="787.5" fill="#f2872c" fill-opacity="0.057"/><rect x="769.9" y="54.2" width="15.9" height="787.5" fill="#fff2b8" fill-opacity="0.039"/><rect x="785.9" y="54.2" width="19.7" height="787.5" fill="#f2872c" fill-opacity="0.048"/><rect x="805.5" y="54.2" width="14.6" height="787.5" fill="#fff2b8" fill-opacity="0.030"/><rect x="820.1" y="54.2" width="9.8" height="787.5" fill="#f2872c" fill-opacity="0.043"/><rect x="830" y="54.2" width="16.4" height="787.5" fill="#fff2b8" fill-opacity="0.057"/><rect x="846.4" y="54.2" width="4.2" height="787.5" fill="#f2872c" fill-opacity="0.075"/><rect x="49" y="54.2" width="6" height="787.5" fill="#fff0b0" fill-opacity="0.420"/><rect x="41.9" y="54.2" width="1.5" height="787.5" fill="#e8702a" fill-opacity="0.180"/><rect x="329.2" y="54.2" width="1.5" height="787.5" fill="#e8702a" fill-opacity="0.264"/><rect x="249.4" y="54.2" width="1.2" height="787.5" fill="#e8702a" fill-opacity="0.180"/><rect x="56.9" y="54.2" width="1.2" height="787.5" fill="#e8702a" fill-opacity="0.180"/><rect x="658.5" y="54.2" width="7" height="787.5" fill="#fff0b0" fill-opacity="0.360"/><rect x="749" y="54.2" width="2" height="787.5" fill="#fff0b0" fill-opacity="0.360"/><rect x="579" y="54.2" width="2" height="787.5" fill="#fff0b0" fill-opacity="0.300"/><rect x="832.5" y="54.2" width="15" height="787.5" fill="#fff0b0" fill-opacity="0.180"/><rect x="5.4" y="54.2" width="845.2" height="1.9" fill="#f08a30" fill-opacity="0.080"/><rect x="5.4" y="58" width="845.2" height="1.9" fill="#fff2b0" fill-opacity="0.046"/><rect x="5.4" y="59.8" width="845.2" height="1.9" fill="#f08a30" fill-opacity="0.033"/><rect x="5.4" y="61.7" width="845.2" height="1.9" fill="#f08a30" fill-opacity="0.082"/><rect x="5.4" y="65.5" width="845.2" height="1.9" fill="#fff2b0" fill-opacity="0.033"/><rect x="5.4" y="67.3" width="845.2" height="1.9" fill="#fff2b0" fill-opacity="0.044"/><rect x="5.4" y="69.2" width="845.2" height="1.9" fill="#f08a30" fill-opacity="0.071"/><rect x="5.4" y="71.1" width="845.2" height="1.9" fill="#f08a30" fill-opacity="0.080"/><rect x="5.4" y="74.8" width="845.2" height="1.9" fill="#fff2b0" fill-opacity="0.045"/><rect x="5.4" y="76.7" width="845.2" height="1.9" fill="#fff2b0" fill-opacity="0.087"/><rect x="5.4" y="78.6" width="845.2" height="1.9" fill="#fff2b0" fill-opacity="0.061"/><rect x="5.4" y="84.2" width="845.2" height="1.9" fill="#fff2b0" fill-opacity="0.116"/><rect x="5.4" y="87.9" width="845.2" height="1.9" fill="#f08a30" fill-opacity="0.062"/><rect x="5.4" y="89.8" width="845.2" height="1.9" fill="#f08a30" fill-opacity="0.073"/><rect x="5.4" y="101.1" width="845.2" height="1.9" fill="#fff2b0" fill-opacity="0.047"/><rect x="5.4" y="102.9" width="845.2" height="1.9" fill="#fff2b0" fill-opacity="0.061"/><rect x="5.4" y="106.7" width="845.2" height="1.9" fill="#f08a30" fill-opacity="0.090"/><rect x="5.4" y="110.4" width="845.2" height="1.9" fill="#f08a30" fill-opacity="0.074"/><rect x="5.4" y="112.3" width="845.2" height="1.9" fill="#f08a30" fill-opacity="0.045"/><rect x="5.4" y="114.2" width="845.2" height="1.9" fill="#f08a30" fill-opacity="0.086"/><rect x="5.4" y="117.9" width="845.2" height="1.9" fill="#f08a30" fill-opacity="0.042"/><rect x="5.4" y="119.8" width="845.2" height="1.9" fill="#fff2b0" fill-opacity="0.036"/><rect x="5.4" y="121.7" width="845.2" height="1.9" fill="#fff2b0" fill-opacity="0.158"/><rect x="5.4" y="123.6" width="845.2" height="1.9" fill="#fff2b0" fill-opacity="0.040"/><rect x="5.4" y="127.3" width="845.2" height="1.9" fill="#f08a30" fill-opacity="0.068"/><rect x="5.4" y="138.6" width="845.2" height="1.9" fill="#f08a30" fill-opacity="0.049"/><rect x="5.4" y="144.2" width="845.2" height="1.9" fill="#fff2b0" fill-opacity="0.075"/><rect x="5.4" y="151.7" width="845.2" height="1.9" fill="#fff2b0" fill-opacity="0.039"/><rect x="5.4" y="155.4" width="845.2" height="1.9" fill="#fff2b0" fill-opacity="0.040"/><rect x="5.4" y="159.2" width="845.2" height="1.9" fill="#fff2b0" fill-opacity="0.065"/><rect x="5.4" y="161.1" width="845.2" height="1.9" fill="#fff2b0" fill-opacity="0.044"/><rect x="5.4" y="164.8" width="845.2" height="1.9" fill="#f08a30" fill-opacity="0.033"/><rect x="5.4" y="166.7" width="845.2" height="1.9" fill="#fff2b0" fill-opacity="0.033"/><rect x="5.4" y="168.6" width="845.2" height="1.9" fill="#fff2b0" fill-opacity="0.047"/><rect x="5.4" y="170.4" width="845.2" height="1.9" fill="#fff2b0" fill-opacity="0.079"/><rect x="5.4" y="174.2" width="845.2" height="1.9" fill="#fff2b0" fill-opacity="0.028"/><rect x="5.4" y="176.1" width="845.2" height="1.9" fill="#fff2b0" fill-opacity="0.032"/><rect x="5.4" y="183.6" width="845.2" height="1.9" fill="#f08a30" fill-opacity="0.044"/><rect x="5.4" y="185.4" width="845.2" height="1.9" fill="#f08a30" fill-opacity="0.070"/><rect x="5.4" y="189.2" width="845.2" height="1.9" fill="#fff2b0" fill-opacity="0.039"/><rect x="5.4" y="191.1" width="845.2" height="1.9" fill="#fff2b0" fill-opacity="0.087"/><rect x="5.4" y="192.9" width="845.2" height="1.9" fill="#fff2b0" fill-opacity="0.072"/><rect x="5.4" y="194.8" width="845.2" height="1.9" fill="#fff2b0" fill-opacity="0.068"/><rect x="5.4" y="196.7" width="845.2" height="1.9" fill="#fff2b0" fill-opacity="0.054"/><rect x="5.4" y="198.6" width="845.2" height="1.9" fill="#fff2b0" fill-opacity="0.043"/><rect x="5.4" y="202.3" width="845.2" height="1.9" fill="#fff2b0" fill-opacity="0.056"/><rect x="5.4" y="204.2" width="845.2" height="1.9" fill="#fff2b0" fill-opacity="0.088"/><rect x="5.4" y="209.8" width="845.2" height="1.9" fill="#fff2b0" fill-opacity="0.088"/><rect x="5.4" y="211.7" width="845.2" height="1.9" fill="#fff2b0" fill-opacity="0.041"/><rect x="5.4" y="213.6" width="845.2" height="1.9" fill="#fff2b0" fill-opacity="0.057"/><rect x="5.4" y="215.4" width="845.2" height="1.9" fill="#fff2b0" fill-opacity="0.040"/><rect x="5.4" y="219.2" width="845.2" height="1.9" fill="#fff2b0" fill-opacity="0.121"/><rect x="5.4" y="221.1" width="845.2" height="1.9" fill="#fff2b0" fill-opacity="0.110"/><rect x="5.4" y="222.9" width="845.2" height="1.9" fill="#fff2b0" fill-opacity="0.034"/><rect x="5.4" y="224.8" width="845.2" height="1.9" fill="#fff2b0" fill-opacity="0.039"/><rect x="5.4" y="228.6" width="845.2" height="1.9" fill="#f08a30" fill-opacity="0.050"/><rect x="5.4" y="232.3" width="845.2" height="1.9" fill="#fff2b0" fill-opacity="0.028"/><rect x="5.4" y="234.2" width="845.2" height="1.9" fill="#fff2b0" fill-opacity="0.064"/><rect x="5.4" y="236.1" width="845.2" height="1.9" fill="#fff2b0" fill-opacity="0.045"/><rect x="5.4" y="239.8" width="845.2" height="1.9" fill="#fff2b0" fill-opacity="0.057"/><rect x="5.4" y="243.6" width="845.2" height="1.9" fill="#fff2b0" fill-opacity="0.041"/><rect x="5.4" y="245.4" width="845.2" height="1.9" fill="#fff2b0" fill-opacity="0.058"/><rect x="5.4" y="249.2" width="845.2" height="1.9" fill="#f08a30" fill-opacity="0.116"/><rect x="5.4" y="251.1" width="845.2" height="1.9" fill="#f08a30" fill-opacity="0.070"/><rect x="5.4" y="254.8" width="845.2" height="1.9" fill="#fff2b0" fill-opacity="0.043"/><rect x="5.4" y="256.7" width="845.2" height="1.9" fill="#fff2b0" fill-opacity="0.068"/><rect x="5.4" y="258.6" width="845.2" height="1.9" fill="#f08a30" fill-opacity="0.038"/><rect x="5.4" y="262.3" width="845.2" height="1.9" fill="#fff2b0" fill-opacity="0.029"/><rect x="5.4" y="266.1" width="845.2" height="1.9" fill="#f08a30" fill-opacity="0.126"/><rect x="5.4" y="267.9" width="845.2" height="1.9" fill="#fff2b0" fill-opacity="0.038"/><rect x="5.4" y="269.8" width="845.2" height="1.9" fill="#fff2b0" fill-opacity="0.128"/><rect x="5.4" y="271.7" width="845.2" height="1.9" fill="#fff2b0" fill-opacity="0.062"/><rect x="5.4" y="273.6" width="845.2" height="1.9" fill="#f08a30" fill-opacity="0.045"/><rect x="5.4" y="277.3" width="845.2" height="1.9" fill="#fff2b0" fill-opacity="0.032"/><rect x="5.4" y="279.2" width="845.2" height="1.9" fill="#fff2b0" fill-opacity="0.126"/><rect x="5.4" y="281.1" width="845.2" height="1.9" fill="#fff2b0" fill-opacity="0.056"/><rect x="5.4" y="284.8" width="845.2" height="1.9" fill="#fff2b0" fill-opacity="0.074"/><rect x="5.4" y="286.7" width="845.2" height="1.9" fill="#fff2b0" fill-opacity="0.031"/><rect x="5.4" y="288.6" width="845.2" height="1.9" fill="#fff2b0" fill-opacity="0.080"/><rect x="5.4" y="294.2" width="845.2" height="1.9" fill="#fff2b0" fill-opacity="0.044"/><rect x="5.4" y="296.1" width="845.2" height="1.9" fill="#fff2b0" fill-opacity="0.081"/><rect x="5.4" y="297.9" width="845.2" height="1.9" fill="#fff2b0" fill-opacity="0.048"/><rect x="5.4" y="301.7" width="845.2" height="1.9" fill="#f08a30" fill-opacity="0.108"/><rect x="5.4" y="303.6" width="845.2" height="1.9" fill="#f08a30" fill-opacity="0.070"/><rect x="5.4" y="305.4" width="845.2" height="1.9" fill="#f08a30" fill-opacity="0.050"/><rect x="5.4" y="312.9" width="845.2" height="1.9" fill="#fff2b0" fill-opacity="0.035"/><rect x="5.4" y="320.4" width="845.2" height="1.9" fill="#fff2b0" fill-opacity="0.030"/><rect x="5.4" y="322.3" width="845.2" height="1.9" fill="#fff2b0" fill-opacity="0.040"/><rect x="5.4" y="326.1" width="845.2" height="1.9" fill="#f08a30" fill-opacity="0.036"/><rect x="5.4" y="327.9" width="845.2" height="1.9" fill="#f08a30" fill-opacity="0.061"/><rect x="5.4" y="329.8" width="845.2" height="1.9" fill="#fff2b0" fill-opacity="0.077"/><rect x="5.4" y="331.7" width="845.2" height="1.9" fill="#fff2b0" fill-opacity="0.083"/><rect x="5.4" y="335.4" width="845.2" height="1.9" fill="#f08a30" fill-opacity="0.044"/><rect x="5.4" y="337.3" width="845.2" height="1.9" fill="#f08a30" fill-opacity="0.074"/><rect x="5.4" y="341.1" width="845.2" height="1.9" fill="#fff2b0" fill-opacity="0.034"/><rect x="5.4" y="342.9" width="845.2" height="1.9" fill="#fff2b0" fill-opacity="0.108"/><rect x="5.4" y="346.7" width="845.2" height="1.9" fill="#f08a30" fill-opacity="0.071"/><rect x="5.4" y="348.6" width="845.2" height="1.9" fill="#f08a30" fill-opacity="0.131"/><rect x="5.4" y="350.4" width="845.2" height="1.9" fill="#fff2b0" fill-opacity="0.044"/><rect x="5.4" y="354.2" width="845.2" height="1.9" fill="#f08a30" fill-opacity="0.087"/><rect x="5.4" y="357.9" width="845.2" height="1.9" fill="#f08a30" fill-opacity="0.047"/><rect x="5.4" y="359.8" width="845.2" height="1.9" fill="#fff2b0" fill-opacity="0.159"/><rect x="5.4" y="361.7" width="845.2" height="1.9" fill="#fff2b0" fill-opacity="0.094"/><rect x="5.4" y="363.6" width="845.2" height="1.9" fill="#fff2b0" fill-opacity="0.037"/><rect x="5.4" y="367.3" width="845.2" height="1.9" fill="#f08a30" fill-opacity="0.125"/><rect x="5.4" y="369.2" width="845.2" height="1.9" fill="#f08a30" fill-opacity="0.052"/><rect x="5.4" y="371.1" width="845.2" height="1.9" fill="#f08a30" fill-opacity="0.082"/><rect x="5.4" y="374.8" width="845.2" height="1.9" fill="#f08a30" fill-opacity="0.125"/><rect x="5.4" y="376.7" width="845.2" height="1.9" fill="#f08a30" fill-opacity="0.063"/><rect x="5.4" y="378.6" width="845.2" height="1.9" fill="#fff2b0" fill-opacity="0.065"/><rect x="5.4" y="380.4" width="845.2" height="1.9" fill="#fff2b0" fill-opacity="0.078"/><rect x="5.4" y="382.3" width="845.2" height="1.9" fill="#f08a30" fill-opacity="0.066"/><rect x="5.4" y="384.2" width="845.2" height="1.9" fill="#f08a30" fill-opacity="0.091"/><rect x="5.4" y="386.1" width="845.2" height="1.9" fill="#fff2b0" fill-opacity="0.035"/><rect x="5.4" y="387.9" width="845.2" height="1.9" fill="#fff2b0" fill-opacity="0.039"/><rect x="5.4" y="389.8" width="845.2" height="1.9" fill="#f08a30" fill-opacity="0.054"/><rect x="5.4" y="391.7" width="845.2" height="1.9" fill="#f08a30" fill-opacity="0.060"/><rect x="5.4" y="393.6" width="845.2" height="1.9" fill="#f08a30" fill-opacity="0.062"/><rect x="5.4" y="395.4" width="845.2" height="1.9" fill="#f08a30" fill-opacity="0.084"/><rect x="5.4" y="397.3" width="845.2" height="1.9" fill="#f08a30" fill-opacity="0.038"/><rect x="5.4" y="399.2" width="845.2" height="1.9" fill="#fff2b0" fill-opacity="0.059"/><rect x="5.4" y="401.1" width="845.2" height="1.9" fill="#fff2b0" fill-opacity="0.066"/><rect x="5.4" y="402.9" width="845.2" height="1.9" fill="#fff2b0" fill-opacity="0.103"/><rect x="5.4" y="408.6" width="845.2" height="1.9" fill="#f08a30" fill-opacity="0.059"/><rect x="5.4" y="410.4" width="845.2" height="1.9" fill="#f08a30" fill-opacity="0.035"/><rect x="5.4" y="412.3" width="845.2" height="1.9" fill="#f08a30" fill-opacity="0.098"/><rect x="5.4" y="414.2" width="845.2" height="1.9" fill="#f08a30" fill-opacity="0.108"/><rect x="5.4" y="416.1" width="845.2" height="1.9" fill="#fff2b0" fill-opacity="0.030"/><rect x="5.4" y="417.9" width="845.2" height="1.9" fill="#fff2b0" fill-opacity="0.084"/><rect x="5.4" y="419.8" width="845.2" height="1.9" fill="#fff2b0" fill-opacity="0.068"/><rect x="5.4" y="421.7" width="845.2" height="1.9" fill="#fff2b0" fill-opacity="0.074"/><rect x="5.4" y="425.4" width="845.2" height="1.9" fill="#f08a30" fill-opacity="0.037"/><rect x="5.4" y="429.2" width="845.2" height="1.9" fill="#f08a30" fill-opacity="0.034"/><rect x="5.4" y="431.1" width="845.2" height="1.9" fill="#f08a30" fill-opacity="0.088"/><rect x="5.4" y="432.9" width="845.2" height="1.9" fill="#f08a30" fill-opacity="0.127"/><rect x="5.4" y="434.8" width="845.2" height="1.9" fill="#f08a30" fill-opacity="0.105"/><rect x="5.4" y="442.3" width="845.2" height="1.9" fill="#fff2b0" fill-opacity="0.065"/><rect x="5.4" y="444.2" width="845.2" height="1.9" fill="#fff2b0" fill-opacity="0.029"/><rect x="5.4" y="446.1" width="845.2" height="1.9" fill="#fff2b0" fill-opacity="0.042"/><rect x="5.4" y="447.9" width="845.2" height="1.9" fill="#fff2b0" fill-opacity="0.055"/><rect x="5.4" y="449.8" width="845.2" height="1.9" fill="#f08a30" fill-opacity="0.056"/><rect x="5.4" y="451.7" width="845.2" height="1.9" fill="#f08a30" fill-opacity="0.113"/><rect x="5.4" y="457.3" width="845.2" height="1.9" fill="#fff2b0" fill-opacity="0.058"/><rect x="5.4" y="459.2" width="845.2" height="1.9" fill="#fff2b0" fill-opacity="0.039"/><rect x="5.4" y="461.1" width="845.2" height="1.9" fill="#fff2b0" fill-opacity="0.059"/><rect x="5.4" y="464.8" width="845.2" height="1.9" fill="#f08a30" fill-opacity="0.100"/><rect x="5.4" y="468.6" width="845.2" height="1.9" fill="#f08a30" fill-opacity="0.039"/><rect x="5.4" y="470.4" width="845.2" height="1.9" fill="#f08a30" fill-opacity="0.056"/><rect x="5.4" y="474.2" width="845.2" height="1.9" fill="#fff2b0" fill-opacity="0.041"/><rect x="5.4" y="476.1" width="845.2" height="1.9" fill="#fff2b0" fill-opacity="0.060"/><rect x="5.4" y="477.9" width="845.2" height="1.9" fill="#fff2b0" fill-opacity="0.040"/><rect x="5.4" y="479.8" width="845.2" height="1.9" fill="#f08a30" fill-opacity="0.089"/><rect x="5.4" y="481.7" width="845.2" height="1.9" fill="#f08a30" fill-opacity="0.083"/><rect x="5.4" y="483.6" width="845.2" height="1.9" fill="#f08a30" fill-opacity="0.143"/><rect x="5.4" y="489.2" width="845.2" height="1.9" fill="#f08a30" fill-opacity="0.033"/><rect x="5.4" y="494.8" width="845.2" height="1.9" fill="#fff2b0" fill-opacity="0.042"/><rect x="5.4" y="496.7" width="845.2" height="1.9" fill="#f08a30" fill-opacity="0.044"/><rect x="5.4" y="498.6" width="845.2" height="1.9" fill="#f08a30" fill-opacity="0.066"/><rect x="5.4" y="502.3" width="845.2" height="1.9" fill="#fff2b0" fill-opacity="0.086"/><rect x="5.4" y="504.2" width="845.2" height="1.9" fill="#fff2b0" fill-opacity="0.068"/><rect x="5.4" y="515.4" width="845.2" height="1.9" fill="#f08a30" fill-opacity="0.037"/><rect x="5.4" y="517.3" width="845.2" height="1.9" fill="#f08a30" fill-opacity="0.083"/><rect x="5.4" y="521.1" width="845.2" height="1.9" fill="#fff2b0" fill-opacity="0.077"/><rect x="5.4" y="522.9" width="845.2" height="1.9" fill="#fff2b0" fill-opacity="0.043"/><rect x="5.4" y="537.9" width="845.2" height="1.9" fill="#f08a30" fill-opacity="0.049"/><rect x="5.4" y="539.8" width="845.2" height="1.9" fill="#f08a30" fill-opacity="0.066"/><rect x="5.4" y="541.7" width="845.2" height="1.9" fill="#f08a30" fill-opacity="0.079"/><rect x="5.4" y="543.6" width="845.2" height="1.9" fill="#f08a30" fill-opacity="0.062"/><rect x="5.4" y="547.3" width="845.2" height="1.9" fill="#f08a30" fill-opacity="0.126"/><rect x="5.4" y="549.2" width="845.2" height="1.9" fill="#f08a30" fill-opacity="0.051"/><rect x="5.4" y="551.1" width="845.2" height="1.9" fill="#f08a30" fill-opacity="0.045"/><rect x="5.4" y="552.9" width="845.2" height="1.9" fill="#f08a30" fill-opacity="0.041"/><rect x="5.4" y="556.7" width="845.2" height="1.9" fill="#fff2b0" fill-opacity="0.055"/><rect x="5.4" y="562.3" width="845.2" height="1.9" fill="#f08a30" fill-opacity="0.038"/><rect x="5.4" y="566.1" width="845.2" height="1.9" fill="#fff2b0" fill-opacity="0.038"/><rect x="5.4" y="569.8" width="845.2" height="1.9" fill="#f08a30" fill-opacity="0.085"/><rect x="5.4" y="571.7" width="845.2" height="1.9" fill="#f08a30" fill-opacity="0.099"/><rect x="5.4" y="573.6" width="845.2" height="1.9" fill="#f08a30" fill-opacity="0.095"/><rect x="5.4" y="575.4" width="845.2" height="1.9" fill="#f08a30" fill-opacity="0.079"/><rect x="5.4" y="577.3" width="845.2" height="1.9" fill="#fff2b0" fill-opacity="0.041"/><rect x="5.4" y="582.9" width="845.2" height="1.9" fill="#fff2b0" fill-opacity="0.060"/><rect x="5.4" y="586.7" width="845.2" height="1.9" fill="#fff2b0" fill-opacity="0.037"/><rect x="5.4" y="588.6" width="845.2" height="1.9" fill="#fff2b0" fill-opacity="0.030"/><rect x="5.4" y="590.4" width="845.2" height="1.9" fill="#f08a30" fill-opacity="0.097"/><rect x="5.4" y="592.3" width="845.2" height="1.9" fill="#f08a30" fill-opacity="0.118"/><rect x="5.4" y="594.2" width="845.2" height="1.9" fill="#f08a30" fill-opacity="0.060"/><rect x="5.4" y="596.1" width="845.2" height="1.9" fill="#fff2b0" fill-opacity="0.047"/><rect x="5.4" y="597.9" width="845.2" height="1.9" fill="#fff2b0" fill-opacity="0.058"/><rect x="5.4" y="599.8" width="845.2" height="1.9" fill="#f08a30" fill-opacity="0.041"/><rect x="5.4" y="601.7" width="845.2" height="1.9" fill="#fff2b0" fill-opacity="0.033"/><rect x="5.4" y="605.4" width="845.2" height="1.9" fill="#f08a30" fill-opacity="0.034"/><rect x="5.4" y="607.3" width="845.2" height="1.9" fill="#f08a30" fill-opacity="0.040"/><rect x="5.4" y="609.2" width="845.2" height="1.9" fill="#f08a30" fill-opacity="0.047"/><rect x="5.4" y="611.1" width="845.2" height="1.9" fill="#f08a30" fill-opacity="0.119"/><rect x="5.4" y="612.9" width="845.2" height="1.9" fill="#f08a30" fill-opacity="0.094"/><rect x="5.4" y="614.8" width="845.2" height="1.9" fill="#f08a30" fill-opacity="0.076"/><rect x="5.4" y="616.7" width="845.2" height="1.9" fill="#fff2b0" fill-opacity="0.032"/><rect x="5.4" y="618.6" width="845.2" height="1.9" fill="#fff2b0" fill-opacity="0.131"/><rect x="5.4" y="620.4" width="845.2" height="1.9" fill="#fff2b0" fill-opacity="0.147"/><rect x="5.4" y="624.2" width="845.2" height="1.9" fill="#f08a30" fill-opacity="0.107"/><rect x="5.4" y="626.1" width="845.2" height="1.9" fill="#f08a30" fill-opacity="0.055"/><rect x="5.4" y="627.9" width="845.2" height="1.9" fill="#f08a30" fill-opacity="0.034"/><rect x="5.4" y="629.8" width="845.2" height="1.9" fill="#fff2b0" fill-opacity="0.090"/><rect x="5.4" y="631.7" width="845.2" height="1.9" fill="#fff2b0" fill-opacity="0.040"/><rect x="5.4" y="635.4" width="845.2" height="1.9" fill="#fff2b0" fill-opacity="0.042"/><rect x="5.4" y="639.2" width="845.2" height="1.9" fill="#f08a30" fill-opacity="0.092"/><rect x="5.4" y="641.1" width="845.2" height="1.9" fill="#f08a30" fill-opacity="0.053"/><rect x="5.4" y="652.3" width="845.2" height="1.9" fill="#f08a30" fill-opacity="0.042"/><rect x="5.4" y="654.2" width="845.2" height="1.9" fill="#f08a30" fill-opacity="0.040"/><rect x="5.4" y="656.1" width="845.2" height="1.9" fill="#fff2b0" fill-opacity="0.066"/><rect x="5.4" y="657.9" width="845.2" height="1.9" fill="#fff2b0" fill-opacity="0.037"/><rect x="5.4" y="661.7" width="845.2" height="1.9" fill="#f08a30" fill-opacity="0.087"/><rect x="5.4" y="667.3" width="845.2" height="1.9" fill="#f08a30" fill-opacity="0.050"/><rect x="5.4" y="669.2" width="845.2" height="1.9" fill="#fff2b0" fill-opacity="0.035"/><rect x="5.4" y="678.6" width="845.2" height="1.9" fill="#fff2b0" fill-opacity="0.055"/><rect x="5.4" y="682.3" width="845.2" height="1.9" fill="#fff2b0" fill-opacity="0.062"/><rect x="5.4" y="684.2" width="845.2" height="1.9" fill="#f08a30" fill-opacity="0.037"/><rect x="5.4" y="686.1" width="845.2" height="1.9" fill="#f08a30" fill-opacity="0.054"/><rect x="5.4" y="689.8" width="845.2" height="1.9" fill="#f08a30" fill-opacity="0.056"/><rect x="5.4" y="693.6" width="845.2" height="1.9" fill="#fff2b0" fill-opacity="0.051"/><rect x="5.4" y="695.4" width="845.2" height="1.9" fill="#fff2b0" fill-opacity="0.048"/><rect x="5.4" y="697.3" width="845.2" height="1.9" fill="#f08a30" fill-opacity="0.080"/><rect x="5.4" y="701.1" width="845.2" height="1.9" fill="#fff2b0" fill-opacity="0.106"/><rect x="5.4" y="702.9" width="845.2" height="1.9" fill="#fff2b0" fill-opacity="0.073"/><rect x="5.4" y="706.7" width="845.2" height="1.9" fill="#f08a30" fill-opacity="0.041"/><rect x="5.4" y="708.6" width="845.2" height="1.9" fill="#f08a30" fill-opacity="0.038"/><rect x="5.4" y="710.4" width="845.2" height="1.9" fill="#f08a30" fill-opacity="0.072"/><rect x="5.4" y="717.9" width="845.2" height="1.9" fill="#fff2b0" fill-opacity="0.052"/><rect x="5.4" y="721.7" width="845.2" height="1.9" fill="#f08a30" fill-opacity="0.073"/><rect x="5.4" y="725.4" width="845.2" height="1.9" fill="#f08a30" fill-opacity="0.053"/><rect x="5.4" y="727.3" width="845.2" height="1.9" fill="#f08a30" fill-opacity="0.040"/><rect x="5.4" y="731.1" width="845.2" height="1.9" fill="#f08a30" fill-opacity="0.033"/><rect x="5.4" y="732.9" width="845.2" height="1.9" fill="#f08a30" fill-opacity="0.064"/><rect x="5.4" y="736.7" width="845.2" height="1.9" fill="#fff2b0" fill-opacity="0.095"/><rect x="5.4" y="742.3" width="845.2" height="1.9" fill="#fff2b0" fill-opacity="0.059"/><rect x="5.4" y="744.2" width="845.2" height="1.9" fill="#fff2b0" fill-opacity="0.054"/><rect x="5.4" y="746.1" width="845.2" height="1.9" fill="#fff2b0" fill-opacity="0.052"/><rect x="5.4" y="747.9" width="845.2" height="1.9" fill="#fff2b0" fill-opacity="0.029"/><rect x="5.4" y="749.8" width="845.2" height="1.9" fill="#f08a30" fill-opacity="0.112"/><rect x="5.4" y="751.7" width="845.2" height="1.9" fill="#f08a30" fill-opacity="0.071"/><rect x="5.4" y="755.4" width="845.2" height="1.9" fill="#fff2b0" fill-opacity="0.038"/><rect x="5.4" y="757.3" width="845.2" height="1.9" fill="#fff2b0" fill-opacity="0.071"/><rect x="5.4" y="759.2" width="845.2" height="1.9" fill="#fff2b0" fill-opacity="0.033"/><rect x="5.4" y="768.6" width="845.2" height="1.9" fill="#fff2b0" fill-opacity="0.031"/><rect x="5.4" y="772.3" width="845.2" height="1.9" fill="#f08a30" fill-opacity="0.061"/><rect x="5.4" y="774.2" width="845.2" height="1.9" fill="#f08a30" fill-opacity="0.045"/><rect x="5.4" y="776.1" width="845.2" height="1.9" fill="#fff2b0" fill-opacity="0.056"/><rect x="5.4" y="777.9" width="845.2" height="1.9" fill="#fff2b0" fill-opacity="0.082"/><rect x="5.4" y="779.8" width="845.2" height="1.9" fill="#fff2b0" fill-opacity="0.069"/><rect x="5.4" y="781.7" width="845.2" height="1.9" fill="#fff2b0" fill-opacity="0.059"/><rect x="5.4" y="783.6" width="845.2" height="1.9" fill="#fff2b0" fill-opacity="0.048"/><rect x="5.4" y="789.2" width="845.2" height="1.9" fill="#f08a30" fill-opacity="0.054"/><rect x="5.4" y="791.1" width="845.2" height="1.9" fill="#f08a30" fill-opacity="0.033"/><rect x="5.4" y="792.9" width="845.2" height="1.9" fill="#f08a30" fill-opacity="0.035"/><rect x="5.4" y="800.4" width="845.2" height="1.9" fill="#fff2b0" fill-opacity="0.032"/><rect x="5.4" y="802.3" width="845.2" height="1.9" fill="#fff2b0" fill-opacity="0.060"/><rect x="5.4" y="804.2" width="845.2" height="1.9" fill="#f08a30" fill-opacity="0.040"/><rect x="5.4" y="806.1" width="845.2" height="1.9" fill="#f08a30" fill-opacity="0.053"/><rect x="5.4" y="809.8" width="845.2" height="1.9" fill="#f08a30" fill-opacity="0.047"/><rect x="5.4" y="815.4" width="845.2" height="1.9" fill="#f08a30" fill-opacity="0.035"/><rect x="5.4" y="817.3" width="845.2" height="1.9" fill="#f08a30" fill-opacity="0.096"/><rect x="5.4" y="824.8" width="845.2" height="1.9" fill="#fff2b0" fill-opacity="0.096"/><rect x="5.4" y="826.7" width="845.2" height="1.9" fill="#fff2b0" fill-opacity="0.090"/><rect x="5.4" y="828.6" width="845.2" height="1.9" fill="#fff2b0" fill-opacity="0.177"/><rect x="5.4" y="830.4" width="845.2" height="1.9" fill="#fff2b0" fill-opacity="0.051"/><rect x="5.4" y="836.1" width="845.2" height="1.9" fill="#fff2b0" fill-opacity="0.077"/><rect x="5.4" y="54.2" width="845.2" height="23.1" fill="#fff2b8" fill-opacity="0.043"/><rect x="5.4" y="77.3" width="845.2" height="10.6" fill="#f2872c" fill-opacity="0.053"/><rect x="5.4" y="87.9" width="845.2" height="8.7" fill="#fff2b8" fill-opacity="0.036"/><rect x="5.4" y="96.6" width="845.2" height="24.5" fill="#f2872c" fill-opacity="0.074"/><rect x="5.4" y="121.2" width="845.2" height="17.3" fill="#fff2b8" fill-opacity="0.053"/><rect x="5.4" y="138.5" width="845.2" height="20.5" fill="#f2872c" fill-opacity="0.045"/><rect x="5.4" y="159" width="845.2" height="10.3" fill="#fff2b8" fill-opacity="0.031"/><rect x="5.4" y="169.3" width="845.2" height="17.5" fill="#f2872c" fill-opacity="0.059"/><rect x="5.4" y="186.8" width="845.2" height="11.7" fill="#fff2b8" fill-opacity="0.036"/><rect x="5.4" y="198.4" width="845.2" height="25.9" fill="#fff2b8" fill-opacity="0.058"/><rect x="5.4" y="224.3" width="845.2" height="9.5" fill="#f2872c" fill-opacity="0.073"/><rect x="5.4" y="233.8" width="845.2" height="21.9" fill="#fff2b8" fill-opacity="0.040"/><rect x="5.4" y="255.8" width="845.2" height="17.5" fill="#f2872c" fill-opacity="0.054"/><rect x="5.4" y="273.3" width="845.2" height="8.6" fill="#fff2b8" fill-opacity="0.051"/><rect x="5.4" y="281.9" width="845.2" height="11.6" fill="#fff2b8" fill-opacity="0.044"/><rect x="5.4" y="293.5" width="845.2" height="15.6" fill="#f2872c" fill-opacity="0.045"/><rect x="5.4" y="309" width="845.2" height="17.5" fill="#fff2b8" fill-opacity="0.030"/><rect x="5.4" y="326.5" width="845.2" height="22.6" fill="#fff2b8" fill-opacity="0.051"/><rect x="5.4" y="349.1" width="845.2" height="19.5" fill="#fff2b8" fill-opacity="0.042"/><rect x="5.4" y="368.6" width="845.2" height="17.3" fill="#f2872c" fill-opacity="0.074"/><rect x="5.4" y="385.9" width="845.2" height="13" fill="#f2872c" fill-opacity="0.072"/><rect x="5.4" y="398.9" width="845.2" height="22.2" fill="#fff2b8" fill-opacity="0.054"/><rect x="5.4" y="421" width="845.2" height="24.3" fill="#f2872c" fill-opacity="0.070"/><rect x="5.4" y="445.3" width="845.2" height="22" fill="#fff2b8" fill-opacity="0.053"/><rect x="5.4" y="467.3" width="845.2" height="21.2" fill="#f2872c" fill-opacity="0.040"/><rect x="5.4" y="488.4" width="845.2" height="16.7" fill="#fff2b8" fill-opacity="0.030"/><rect x="5.4" y="505.1" width="845.2" height="19.7" fill="#f2872c" fill-opacity="0.061"/><rect x="5.4" y="524.8" width="845.2" height="25.1" fill="#fff2b8" fill-opacity="0.050"/><rect x="5.4" y="549.9" width="845.2" height="20.1" fill="#f2872c" fill-opacity="0.059"/><rect x="5.4" y="570" width="845.2" height="15.3" fill="#fff2b8" fill-opacity="0.060"/><rect x="5.4" y="585.3" width="845.2" height="20.8" fill="#f2872c" fill-opacity="0.066"/><rect x="5.4" y="606.1" width="845.2" height="8.8" fill="#f2872c" fill-opacity="0.061"/><rect x="5.4" y="614.9" width="845.2" height="12.9" fill="#fff2b8" fill-opacity="0.042"/><rect x="5.4" y="627.8" width="845.2" height="11.8" fill="#f2872c" fill-opacity="0.052"/><rect x="5.4" y="639.6" width="845.2" height="12.8" fill="#fff2b8" fill-opacity="0.057"/><rect x="5.4" y="652.5" width="845.2" height="17.4" fill="#f2872c" fill-opacity="0.074"/><rect x="5.4" y="669.8" width="845.2" height="26" fill="#fff2b8" fill-opacity="0.049"/><rect x="5.4" y="695.8" width="845.2" height="9.7" fill="#fff2b8" fill-opacity="0.048"/><rect x="5.4" y="705.6" width="845.2" height="9.2" fill="#f2872c" fill-opacity="0.072"/><rect x="5.4" y="714.8" width="845.2" height="16.7" fill="#fff2b8" fill-opacity="0.035"/><rect x="5.4" y="731.5" width="845.2" height="19.2" fill="#f2872c" fill-opacity="0.040"/><rect x="5.4" y="750.7" width="845.2" height="15.8" fill="#f2872c" fill-opacity="0.057"/><rect x="5.4" y="766.5" width="845.2" height="14.9" fill="#fff2b8" fill-opacity="0.039"/><rect x="5.4" y="781.4" width="845.2" height="18.3" fill="#f2872c" fill-opacity="0.048"/><rect x="5.4" y="799.7" width="845.2" height="13.6" fill="#fff2b8" fill-opacity="0.030"/><rect x="5.4" y="813.3" width="845.2" height="9.1" fill="#f2872c" fill-opacity="0.043"/><rect x="5.4" y="822.5" width="845.2" height="15.3" fill="#fff2b8" fill-opacity="0.057"/><rect x="5.4" y="837.8" width="845.2" height="3.9" fill="#f2872c" fill-opacity="0.075"/><rect x="5.4" y="94.8" width="845.2" height="5.6" fill="#fff0b0" fill-opacity="0.420"/><rect x="5.4" y="88.2" width="845.2" height="1.4" fill="#e8702a" fill-opacity="0.180"/><rect x="5.4" y="355.9" width="845.2" height="1.4" fill="#e8702a" fill-opacity="0.264"/><rect x="5.4" y="281.5" width="845.2" height="1.1" fill="#e8702a" fill-opacity="0.180"/><rect x="5.4" y="102.2" width="845.2" height="1.1" fill="#e8702a" fill-opacity="0.180"/><rect x="5.4" y="662.7" width="845.2" height="6.5" fill="#fff0b0" fill-opacity="0.360"/><rect x="5.4" y="747" width="845.2" height="1.9" fill="#fff0b0" fill-opacity="0.360"/><rect x="5.4" y="588.6" width="845.2" height="1.9" fill="#fff0b0" fill-opacity="0.300"/><rect x="5.4" y="824.8" width="845.2" height="14" fill="#fff0b0" fill-opacity="0.180"/></g>
<rect x="80.9" y="54.2" width="1.4" height="787.5" fill="#fff3c4" fill-opacity="0.33"/>
<rect x="5.4" y="120.7" width="845.2" height="1.4" fill="#fff3c4" fill-opacity="0.33"/>
<rect x="88.4" y="54.2" width="1.4" height="787.5" fill="#fff3c4" fill-opacity="0.33"/>
<rect x="5.4" y="128.2" width="845.2" height="1.4" fill="#fff3c4" fill-opacity="0.33"/>
<rect x="184.1" y="54.2" width="1.4" height="787.5" fill="#fff3c4" fill-opacity="0.33"/>
<rect x="5.4" y="217.8" width="845.2" height="1.4" fill="#fff3c4" fill-opacity="0.33"/>
<rect x="191.6" y="54.2" width="1.4" height="787.5" fill="#fff3c4" fill-opacity="0.33"/>
<rect x="5.4" y="225.3" width="845.2" height="1.4" fill="#fff3c4" fill-opacity="0.33"/>
<rect x="270.6" y="54.2" width="1.4" height="787.5" fill="#fff3c4" fill-opacity="0.33"/>
<rect x="5.4" y="305.9" width="845.2" height="1.4" fill="#fff3c4" fill-opacity="0.33"/>
<rect x="278.1" y="54.2" width="1.4" height="787.5" fill="#fff3c4" fill-opacity="0.33"/>
<rect x="5.4" y="313.4" width="845.2" height="1.4" fill="#fff3c4" fill-opacity="0.33"/>
<rect x="357.6" y="54.2" width="1.4" height="787.5" fill="#fff3c4" fill-opacity="0.33"/>
<rect x="5.4" y="386.9" width="845.2" height="1.4" fill="#fff3c4" fill-opacity="0.33"/>
<rect x="365.1" y="54.2" width="1.4" height="787.5" fill="#fff3c4" fill-opacity="0.33"/>
<rect x="5.4" y="394.4" width="845.2" height="1.4" fill="#fff3c4" fill-opacity="0.33"/>
<rect x="470.8" y="54.2" width="1.4" height="787.5" fill="#fff3c4" fill-opacity="0.33"/>
<rect x="5.4" y="492.8" width="845.2" height="1.4" fill="#fff3c4" fill-opacity="0.33"/>
<rect x="478.2" y="54.2" width="1.4" height="787.5" fill="#fff3c4" fill-opacity="0.33"/>
<rect x="5.4" y="500.2" width="845.2" height="1.4" fill="#fff3c4" fill-opacity="0.33"/>
<rect x="574" y="54.2" width="1.4" height="787.5" fill="#fff3c4" fill-opacity="0.33"/>
<rect x="5.4" y="585.7" width="845.2" height="1.4" fill="#fff3c4" fill-opacity="0.33"/>
<rect x="581.5" y="54.2" width="1.4" height="787.5" fill="#fff3c4" fill-opacity="0.33"/>
<rect x="5.4" y="593.2" width="845.2" height="1.4" fill="#fff3c4" fill-opacity="0.33"/>
<rect x="654.7" y="54.2" width="1.4" height="787.5" fill="#fff3c4" fill-opacity="0.33"/>
<rect x="5.4" y="654.6" width="845.2" height="1.4" fill="#fff3c4" fill-opacity="0.33"/>
<rect x="662.2" y="54.2" width="1.4" height="787.5" fill="#fff3c4" fill-opacity="0.33"/>
<rect x="5.4" y="662.1" width="845.2" height="1.4" fill="#fff3c4" fill-opacity="0.33"/>
<rect x="741.5" y="54.2" width="1.4" height="787.5" fill="#fff3c4" fill-opacity="0.33"/>
<rect x="5.4" y="741.7" width="845.2" height="1.4" fill="#fff3c4" fill-opacity="0.33"/>
<rect x="749" y="54.2" width="1.4" height="787.5" fill="#fff3c4" fill-opacity="0.33"/>
<rect x="5.4" y="749.2" width="845.2" height="1.4" fill="#fff3c4" fill-opacity="0.33"/>
<rect x="828.2" y="54.2" width="1.4" height="787.5" fill="#fff3c4" fill-opacity="0.33"/>
<rect x="5.4" y="815.4" width="845.2" height="1.4" fill="#fff3c4" fill-opacity="0.33"/>
<rect x="835.8" y="54.2" width="1.4" height="787.5" fill="#fff3c4" fill-opacity="0.33"/>
<rect x="5.4" y="822.9" width="845.2" height="1.4" fill="#fff3c4" fill-opacity="0.33"/>
<g clip-path="url(#kL)">
<rect x="7.7" y="50.7" width="73.5" height="74.4" fill="#f56e24" fill-opacity="0.10"/>
<rect x="85.4" y="125.2" width="103.3" height="97.2" fill="#f56e24" fill-opacity="0.10"/>
<rect x="188.7" y="222.4" width="86.5" height="87" fill="#f56e24" fill-opacity="0.10"/>
<rect x="275.2" y="310.5" width="87" height="81" fill="#f56e24" fill-opacity="0.10"/>
<rect x="362.2" y="391.5" width="113.1" height="105.8" fill="#f56e24" fill-opacity="0.10"/>
<rect x="475.3" y="497.3" width="103.2" height="92.9" fill="#f56e24" fill-opacity="0.10"/>
<rect x="578.5" y="590.2" width="79.2" height="70.6" fill="#f56e24" fill-opacity="0.10"/>
<rect x="659.2" y="659.1" width="86.8" height="87.1" fill="#f56e24" fill-opacity="0.10"/>
<rect x="746" y="746.2" width="82.1" height="73.7" fill="#f56e24" fill-opacity="0.10"/>
<rect x="832.8" y="819.9" width="17.7" height="17.3" fill="#f56e24" fill-opacity="0.10"/>
<path d="M7.7 50.7 L85.4 125.2 L188.7 222.4 L275.2 310.5 L362.2 391.5 L475.3 497.3 L578.5 590.2 L659.2 659.1 L746 746.2 L832.8 819.9 L850.5 837.2" stroke="#f0601f" stroke-opacity="0.10" stroke-width="44" fill="none" filter="url(#blur8)"/>
<path d="M7.7 50.7 L85.4 125.2 L188.7 222.4 L275.2 310.5 L362.2 391.5 L475.3 497.3 L578.5 590.2 L659.2 659.1 L746 746.2 L832.8 819.9 L850.5 837.2" stroke="#f0601f" stroke-opacity="0.14" stroke-width="14" fill="none" filter="url(#blur3)"/>
<g filter="url(#blur1)"><rect x="225" y="266.5" width="38" height="27" fill="#ee4a1c" fill-opacity="0.158"/><rect x="231.3" y="266.5" width="6.3" height="4.5" fill="#e8401a" fill-opacity="0.428"/><rect x="237.7" y="266.5" width="6.3" height="4.5" fill="#e8401a" fill-opacity="0.135"/><rect x="244" y="266.5" width="6.3" height="4.5" fill="#e8401a" fill-opacity="0.150"/><rect x="250.3" y="266.5" width="6.3" height="4.5" fill="#e8401a" fill-opacity="0.307"/><rect x="225" y="271" width="6.3" height="4.5" fill="#e8401a" fill-opacity="0.247"/><rect x="231.3" y="271" width="6.3" height="4.5" fill="#e8401a" fill-opacity="0.443"/><rect x="237.7" y="271" width="6.3" height="4.5" fill="#e8401a" fill-opacity="0.341"/><rect x="244" y="271" width="6.3" height="4.5" fill="#e8401a" fill-opacity="0.148"/><rect x="250.3" y="271" width="6.3" height="4.5" fill="#e8401a" fill-opacity="0.308"/><rect x="256.7" y="271" width="6.3" height="4.5" fill="#e8401a" fill-opacity="0.257"/><rect x="225" y="275.5" width="6.3" height="4.5" fill="#e8401a" fill-opacity="0.190"/><rect x="237.7" y="275.5" width="6.3" height="4.5" fill="#e8401a" fill-opacity="0.295"/><rect x="244" y="275.5" width="6.3" height="4.5" fill="#e8401a" fill-opacity="0.215"/><rect x="225" y="280" width="6.3" height="4.5" fill="#e8401a" fill-opacity="0.166"/><rect x="237.7" y="280" width="6.3" height="4.5" fill="#e8401a" fill-opacity="0.209"/><rect x="244" y="280" width="6.3" height="4.5" fill="#e8401a" fill-opacity="0.316"/><rect x="250.3" y="280" width="6.3" height="4.5" fill="#e8401a" fill-opacity="0.215"/><rect x="256.7" y="280" width="6.3" height="4.5" fill="#e8401a" fill-opacity="0.083"/><rect x="225" y="284.5" width="6.3" height="4.5" fill="#e8401a" fill-opacity="0.183"/><rect x="231.3" y="284.5" width="6.3" height="4.5" fill="#e8401a" fill-opacity="0.132"/><rect x="237.7" y="284.5" width="6.3" height="4.5" fill="#e8401a" fill-opacity="0.245"/><rect x="244" y="284.5" width="6.3" height="4.5" fill="#e8401a" fill-opacity="0.251"/><rect x="250.3" y="284.5" width="6.3" height="4.5" fill="#e8401a" fill-opacity="0.471"/><rect x="256.7" y="284.5" width="6.3" height="4.5" fill="#e8401a" fill-opacity="0.450"/><rect x="225" y="289" width="6.3" height="4.5" fill="#e8401a" fill-opacity="0.231"/><rect x="244" y="289" width="6.3" height="4.5" fill="#e8401a" fill-opacity="0.281"/><rect x="250.3" y="289" width="6.3" height="4.5" fill="#e8401a" fill-opacity="0.371"/><rect x="256.7" y="289" width="6.3" height="4.5" fill="#e8401a" fill-opacity="0.295"/><rect x="795" y="791" width="20" height="16" fill="#ee4a1c" fill-opacity="0.225"/><rect x="795" y="791" width="3.3" height="2.7" fill="#e8401a" fill-opacity="0.242"/><rect x="798.3" y="791" width="3.3" height="2.7" fill="#e8401a" fill-opacity="0.183"/><rect x="801.7" y="791" width="3.3" height="2.7" fill="#e8401a" fill-opacity="0.308"/><rect x="805" y="791" width="3.3" height="2.7" fill="#e8401a" fill-opacity="0.254"/><rect x="808.3" y="791" width="3.3" height="2.7" fill="#e8401a" fill-opacity="0.266"/><rect x="811.7" y="791" width="3.3" height="2.7" fill="#e8401a" fill-opacity="0.285"/><rect x="795" y="793.7" width="3.3" height="2.7" fill="#e8401a" fill-opacity="0.509"/><rect x="798.3" y="793.7" width="3.3" height="2.7" fill="#e8401a" fill-opacity="0.128"/><rect x="801.7" y="793.7" width="3.3" height="2.7" fill="#e8401a" fill-opacity="0.168"/><rect x="805" y="793.7" width="3.3" height="2.7" fill="#e8401a" fill-opacity="0.441"/><rect x="808.3" y="793.7" width="3.3" height="2.7" fill="#e8401a" fill-opacity="0.412"/><rect x="811.7" y="793.7" width="3.3" height="2.7" fill="#e8401a" fill-opacity="0.395"/><rect x="801.7" y="796.3" width="3.3" height="2.7" fill="#e8401a" fill-opacity="0.183"/><rect x="805" y="796.3" width="3.3" height="2.7" fill="#e8401a" fill-opacity="0.287"/><rect x="808.3" y="796.3" width="3.3" height="2.7" fill="#e8401a" fill-opacity="0.281"/><rect x="795" y="799" width="3.3" height="2.7" fill="#e8401a" fill-opacity="0.244"/><rect x="805" y="799" width="3.3" height="2.7" fill="#e8401a" fill-opacity="0.456"/><rect x="808.3" y="799" width="3.3" height="2.7" fill="#e8401a" fill-opacity="0.372"/><rect x="811.7" y="799" width="3.3" height="2.7" fill="#e8401a" fill-opacity="0.284"/><rect x="795" y="801.7" width="3.3" height="2.7" fill="#e8401a" fill-opacity="0.168"/><rect x="798.3" y="801.7" width="3.3" height="2.7" fill="#e8401a" fill-opacity="0.215"/><rect x="801.7" y="801.7" width="3.3" height="2.7" fill="#e8401a" fill-opacity="0.095"/><rect x="805" y="801.7" width="3.3" height="2.7" fill="#e8401a" fill-opacity="0.232"/><rect x="808.3" y="801.7" width="3.3" height="2.7" fill="#e8401a" fill-opacity="0.503"/><rect x="811.7" y="801.7" width="3.3" height="2.7" fill="#e8401a" fill-opacity="0.566"/><rect x="801.7" y="804.3" width="3.3" height="2.7" fill="#e8401a" fill-opacity="0.364"/><rect x="805" y="804.3" width="3.3" height="2.7" fill="#e8401a" fill-opacity="0.281"/><rect x="808.3" y="804.3" width="3.3" height="2.7" fill="#e8401a" fill-opacity="0.519"/><rect x="811.7" y="804.3" width="3.3" height="2.7" fill="#e8401a" fill-opacity="0.144"/><rect x="410" y="425" width="60" height="50" fill="#ee4a1c" fill-opacity="0.068"/><rect x="410" y="425" width="10" height="8.3" fill="#e8401a" fill-opacity="0.086"/><rect x="430" y="425" width="10" height="8.3" fill="#e8401a" fill-opacity="0.109"/><rect x="450" y="425" width="10" height="8.3" fill="#e8401a" fill-opacity="0.088"/><rect x="460" y="425" width="10" height="8.3" fill="#e8401a" fill-opacity="0.134"/><rect x="420" y="433.3" width="10" height="8.3" fill="#e8401a" fill-opacity="0.111"/><rect x="430" y="433.3" width="10" height="8.3" fill="#e8401a" fill-opacity="0.151"/><rect x="440" y="433.3" width="10" height="8.3" fill="#e8401a" fill-opacity="0.124"/><rect x="420" y="441.7" width="10" height="8.3" fill="#e8401a" fill-opacity="0.177"/><rect x="410" y="450" width="10" height="8.3" fill="#e8401a" fill-opacity="0.093"/><rect x="430" y="450" width="10" height="8.3" fill="#e8401a" fill-opacity="0.157"/><rect x="460" y="450" width="10" height="8.3" fill="#e8401a" fill-opacity="0.089"/><rect x="430" y="458.3" width="10" height="8.3" fill="#e8401a" fill-opacity="0.098"/><rect x="440" y="458.3" width="10" height="8.3" fill="#e8401a" fill-opacity="0.141"/><rect x="420" y="466.7" width="10" height="8.3" fill="#e8401a" fill-opacity="0.098"/><rect x="450" y="466.7" width="10" height="8.3" fill="#e8401a" fill-opacity="0.144"/><rect x="460" y="466.7" width="10" height="8.3" fill="#e8401a" fill-opacity="0.115"/><rect x="25" y="75" width="40" height="40" fill="#ee4a1c" fill-opacity="0.000"/></g>
</g>
<rect x="830" y="86" width="18" height="2.5" fill="#e0401a" fill-opacity="0.6"/>
<rect x="660" y="88" width="170" height="1.5" fill="#e0401a" fill-opacity="0.15"/>
<path d="M7.7 50.7 L85.4 125.2 L188.7 222.4 L275.2 310.5 L362.2 391.5 L475.3 497.3 L578.5 590.2 L659.2 659.1 L746 746.2 L832.8 819.9 L850.5 837.2" stroke="#f25a24" stroke-opacity="0.40" stroke-width="5.5" fill="none"/>
<g><rect x="19.6" y="48.3" width="2.8" height="2.8" fill="#d8381a" fill-opacity="0.28"/><rect x="57.5" y="93" width="1.7" height="1.7" fill="#d8381a" fill-opacity="0.51"/><rect x="54.2" y="97.6" width="2.6" height="2.6" fill="#d8381a" fill-opacity="0.43"/><rect x="66.4" y="103" width="2.1" height="2.1" fill="#d8381a" fill-opacity="0.37"/><rect x="75" y="124.4" width="2.3" height="2.3" fill="#d8381a" fill-opacity="0.50"/><rect x="53.2" y="107.2" width="2.9" height="2.9" fill="#d8381a" fill-opacity="0.39"/><rect x="62.2" y="115.8" width="2.7" height="2.7" fill="#d8381a" fill-opacity="0.54"/><rect x="63.1" y="123.9" width="2.9" height="2.9" fill="#d8381a" fill-opacity="0.47"/><rect x="136.2" y="177.2" width="2.1" height="2.1" fill="#d8381a" fill-opacity="0.40"/><rect x="90.5" y="146.3" width="2.6" height="2.6" fill="#d8381a" fill-opacity="0.60"/><rect x="124.8" y="159.1" width="2.1" height="2.1" fill="#d8381a" fill-opacity="0.35"/><rect x="187.7" y="215.9" width="1.6" height="1.6" fill="#d8381a" fill-opacity="0.36"/><rect x="91.2" y="140.3" width="1.8" height="1.8" fill="#d8381a" fill-opacity="0.27"/><rect x="124.7" y="175.1" width="2.4" height="2.4" fill="#d8381a" fill-opacity="0.57"/><rect x="90.7" y="125.5" width="1.8" height="1.8" fill="#d8381a" fill-opacity="0.33"/><rect x="160.3" y="191.8" width="2.4" height="2.4" fill="#d8381a" fill-opacity="0.33"/><rect x="102.6" y="142.4" width="2.6" height="2.6" fill="#d8381a" fill-opacity="0.36"/><rect x="143.7" y="174.3" width="2.7" height="2.7" fill="#d8381a" fill-opacity="0.42"/><rect x="119.7" y="141.6" width="2" height="2" fill="#d8381a" fill-opacity="0.44"/><rect x="263.2" y="311.8" width="2.2" height="2.2" fill="#d8381a" fill-opacity="0.33"/><rect x="200.5" y="217.1" width="2.1" height="2.1" fill="#d8381a" fill-opacity="0.43"/><rect x="229.5" y="269.2" width="1.9" height="1.9" fill="#d8381a" fill-opacity="0.60"/><rect x="244.5" y="278.4" width="2.2" height="2.2" fill="#d8381a" fill-opacity="0.38"/><rect x="257.1" y="289.7" width="2.6" height="2.6" fill="#d8381a" fill-opacity="0.46"/><rect x="203.8" y="232.7" width="1.9" height="1.9" fill="#d8381a" fill-opacity="0.55"/><rect x="235.8" y="262.4" width="2.5" height="2.5" fill="#d8381a" fill-opacity="0.60"/><rect x="207.6" y="247.1" width="2.7" height="2.7" fill="#d8381a" fill-opacity="0.25"/><rect x="257.8" y="293.1" width="2.8" height="2.8" fill="#d8381a" fill-opacity="0.54"/><rect x="280.6" y="317.3" width="1.6" height="1.6" fill="#d8381a" fill-opacity="0.42"/><rect x="322.4" y="339.7" width="2.9" height="2.9" fill="#d8381a" fill-opacity="0.46"/><rect x="345.8" y="381.6" width="2.1" height="2.1" fill="#d8381a" fill-opacity="0.57"/><rect x="290.1" y="308.7" width="2.7" height="2.7" fill="#d8381a" fill-opacity="0.32"/><rect x="318.2" y="355.8" width="2.7" height="2.7" fill="#d8381a" fill-opacity="0.36"/><rect x="301" y="335.3" width="1.6" height="1.6" fill="#d8381a" fill-opacity="0.36"/><rect x="313.6" y="348" width="2.5" height="2.5" fill="#d8381a" fill-opacity="0.29"/><rect x="303.8" y="345.6" width="2.2" height="2.2" fill="#d8381a" fill-opacity="0.59"/><rect x="345.9" y="377.1" width="2.1" height="2.1" fill="#d8381a" fill-opacity="0.50"/><rect x="387.2" y="416.1" width="2.3" height="2.3" fill="#d8381a" fill-opacity="0.41"/><rect x="371.4" y="383.3" width="1.8" height="1.8" fill="#d8381a" fill-opacity="0.47"/><rect x="393.5" y="421.6" width="2.1" height="2.1" fill="#d8381a" fill-opacity="0.44"/><rect x="392.1" y="424.2" width="2.5" height="2.5" fill="#d8381a" fill-opacity="0.34"/><rect x="387.8" y="407.4" width="2.6" height="2.6" fill="#d8381a" fill-opacity="0.37"/><rect x="460.7" y="497.4" width="2" height="2" fill="#d8381a" fill-opacity="0.54"/><rect x="368.7" y="403.3" width="1.7" height="1.7" fill="#d8381a" fill-opacity="0.28"/><rect x="437" y="462.9" width="2.1" height="2.1" fill="#d8381a" fill-opacity="0.54"/><rect x="425.4" y="456.2" width="1.6" height="1.6" fill="#d8381a" fill-opacity="0.33"/><rect x="382.8" y="403.9" width="1.6" height="1.6" fill="#d8381a" fill-opacity="0.57"/><rect x="413" y="432.2" width="2.3" height="2.3" fill="#d8381a" fill-opacity="0.48"/><rect x="450.1" y="469.6" width="2" height="2" fill="#d8381a" fill-opacity="0.39"/><rect x="471.4" y="501.7" width="2.1" height="2.1" fill="#d8381a" fill-opacity="0.49"/><rect x="577.2" y="585.7" width="2.4" height="2.4" fill="#d8381a" fill-opacity="0.26"/><rect x="501.3" y="533.5" width="2" height="2" fill="#d8381a" fill-opacity="0.48"/><rect x="480.6" y="509.7" width="2.7" height="2.7" fill="#d8381a" fill-opacity="0.54"/><rect x="541.7" y="549.5" width="1.7" height="1.7" fill="#d8381a" fill-opacity="0.52"/><rect x="562.9" y="584.1" width="2.3" height="2.3" fill="#d8381a" fill-opacity="0.30"/><rect x="546" y="563.3" width="3" height="3" fill="#d8381a" fill-opacity="0.43"/><rect x="549.4" y="560.8" width="2.9" height="2.9" fill="#d8381a" fill-opacity="0.47"/><rect x="492.1" y="517.4" width="1.6" height="1.6" fill="#d8381a" fill-opacity="0.34"/><rect x="531.9" y="550.7" width="2.9" height="2.9" fill="#d8381a" fill-opacity="0.38"/><rect x="518" y="543.3" width="1.7" height="1.7" fill="#d8381a" fill-opacity="0.59"/><rect x="593.2" y="594" width="2.3" height="2.3" fill="#d8381a" fill-opacity="0.45"/><rect x="594.5" y="610.6" width="2.9" height="2.9" fill="#d8381a" fill-opacity="0.60"/><rect x="639.8" y="648.4" width="2.7" height="2.7" fill="#d8381a" fill-opacity="0.35"/><rect x="647.1" y="654" width="1.9" height="1.9" fill="#d8381a" fill-opacity="0.45"/><rect x="646" y="645.8" width="1.6" height="1.6" fill="#d8381a" fill-opacity="0.26"/><rect x="597.1" y="596.3" width="3" height="3" fill="#d8381a" fill-opacity="0.58"/><rect x="626.7" y="637.7" width="2.6" height="2.6" fill="#d8381a" fill-opacity="0.38"/><rect x="631" y="624.4" width="2.7" height="2.7" fill="#d8381a" fill-opacity="0.26"/><rect x="672.8" y="678.2" width="2.1" height="2.1" fill="#d8381a" fill-opacity="0.45"/><rect x="673.7" y="672.5" width="2.3" height="2.3" fill="#d8381a" fill-opacity="0.34"/><rect x="704.2" y="711.3" width="1.6" height="1.6" fill="#d8381a" fill-opacity="0.48"/><rect x="676.5" y="664" width="2.9" height="2.9" fill="#d8381a" fill-opacity="0.46"/><rect x="692.8" y="704.7" width="2.5" height="2.5" fill="#d8381a" fill-opacity="0.52"/><rect x="727" y="719.8" width="2.2" height="2.2" fill="#d8381a" fill-opacity="0.60"/><rect x="734" y="727.9" width="2.2" height="2.2" fill="#d8381a" fill-opacity="0.45"/><rect x="732.6" y="740.9" width="2.3" height="2.3" fill="#d8381a" fill-opacity="0.43"/><rect x="699.6" y="692.3" width="1.6" height="1.6" fill="#d8381a" fill-opacity="0.50"/><rect x="816.1" y="813.5" width="2.6" height="2.6" fill="#d8381a" fill-opacity="0.46"/><rect x="804.7" y="802.8" width="1.6" height="1.6" fill="#d8381a" fill-opacity="0.29"/><rect x="787.9" y="772.3" width="2.3" height="2.3" fill="#d8381a" fill-opacity="0.39"/><rect x="747.3" y="751" width="1.9" height="1.9" fill="#d8381a" fill-opacity="0.36"/><rect x="771.8" y="779.6" width="1.9" height="1.9" fill="#d8381a" fill-opacity="0.27"/><rect x="826.7" y="805.5" width="2.8" height="2.8" fill="#d8381a" fill-opacity="0.40"/><rect x="809.6" y="806" width="1.8" height="1.8" fill="#d8381a" fill-opacity="0.51"/><rect x="793.1" y="784.9" width="2.7" height="2.7" fill="#d8381a" fill-opacity="0.29"/><rect x="787.4" y="785.5" width="2.9" height="2.9" fill="#d8381a" fill-opacity="0.25"/></g>
<path d="M7.7 50.7 L85.4 125.2 L188.7 222.4 L275.2 310.5 L362.2 391.5 L475.3 497.3 L578.5 590.2 L659.2 659.1 L746 746.2 L832.8 819.9 L850.5 837.2" stroke="#d3340f" stroke-width="2.3" fill="none"/>
</g>
<rect x="4.3" y="53.1" width="847.4" height="789.7" fill="none" stroke="#000" stroke-width="2.4"/>
<rect x="7.7" y="50.7" width="73.5" height="74.4" fill="none" stroke="#1a4ea9" stroke-width="5.7"/>
<rect x="85.4" y="125.2" width="103.3" height="97.2" fill="none" stroke="#1a4ea9" stroke-width="5.7"/>
<rect x="188.7" y="222.4" width="86.5" height="87" fill="none" stroke="#1a4ea9" stroke-width="5.7"/>
<rect x="275.2" y="310.5" width="87" height="81" fill="none" stroke="#1a4ea9" stroke-width="5.7"/>
<rect x="362.2" y="391.5" width="113.1" height="105.8" fill="none" stroke="#1a4ea9" stroke-width="5.7"/>
<rect x="475.3" y="497.3" width="103.2" height="92.9" fill="none" stroke="#1a4ea9" stroke-width="5.7"/>
<rect x="578.5" y="590.2" width="79.2" height="70.6" fill="none" stroke="#1a4ea9" stroke-width="5.7"/>
<rect x="659.2" y="659.1" width="86.8" height="87.1" fill="none" stroke="#1a4ea9" stroke-width="5.7"/>
<rect x="746" y="746.2" width="82.1" height="73.7" fill="none" stroke="#1a4ea9" stroke-width="5.7"/>
<rect x="832.8" y="819.9" width="17.7" height="17.3" fill="none" stroke="#1a4ea9" stroke-width="5.7"/>
<clipPath id="cR"><rect x="1035.2" y="54.2" width="845" height="786.8"/></clipPath>
<clipPath id="kR"><rect x="1039.6" y="53.4" width="71" height="70.6"/><rect x="1110.6" y="121.3" width="100.2" height="95.4"/><rect x="1210.8" y="218" width="90.9" height="82.5"/><rect x="1301.7" y="300.5" width="86.9" height="80.8"/><rect x="1388.6" y="381.3" width="110.3" height="104.5"/><rect x="1498.9" y="485.8" width="94.3" height="86.7"/><rect x="1597.3" y="572.5" width="75.2" height="75.2"/><rect x="1672.5" y="647.7" width="91.1" height="82.3"/><rect x="1763.6" y="730" width="88.3" height="85.9"/><rect x="1858.2" y="816.9" width="18.6" height="20.4"/></clipPath>
<g clip-path="url(#cR)">
<rect x="1035.2" y="54.2" width="845" height="786.8" fill="#fdb855"/>
<g filter="url(#soft)"><rect x="1036.3" y="55.3" width="2" height="784.6" fill="#fff2b0" fill-opacity="0.113"/><rect x="1044.3" y="55.3" width="2" height="784.6" fill="#f08a30" fill-opacity="0.060"/><rect x="1046.3" y="55.3" width="2" height="784.6" fill="#f08a30" fill-opacity="0.050"/><rect x="1048.3" y="55.3" width="2" height="784.6" fill="#f08a30" fill-opacity="0.038"/><rect x="1052.4" y="55.3" width="2" height="784.6" fill="#fff2b0" fill-opacity="0.028"/><rect x="1054.4" y="55.3" width="2" height="784.6" fill="#fff2b0" fill-opacity="0.054"/><rect x="1056.4" y="55.3" width="2" height="784.6" fill="#fff2b0" fill-opacity="0.031"/><rect x="1058.4" y="55.3" width="2" height="784.6" fill="#fff2b0" fill-opacity="0.057"/><rect x="1060.4" y="55.3" width="2" height="784.6" fill="#fff2b0" fill-opacity="0.031"/><rect x="1066.4" y="55.3" width="2" height="784.6" fill="#f08a30" fill-opacity="0.080"/><rect x="1068.4" y="55.3" width="2" height="784.6" fill="#f08a30" fill-opacity="0.106"/><rect x="1078.4" y="55.3" width="2" height="784.6" fill="#f08a30" fill-opacity="0.080"/><rect x="1080.4" y="55.3" width="2" height="784.6" fill="#f08a30" fill-opacity="0.073"/><rect x="1082.5" y="55.3" width="2" height="784.6" fill="#f08a30" fill-opacity="0.064"/><rect x="1084.5" y="55.3" width="2" height="784.6" fill="#fff2b0" fill-opacity="0.031"/><rect x="1090.5" y="55.3" width="2" height="784.6" fill="#f08a30" fill-opacity="0.070"/><rect x="1092.5" y="55.3" width="2" height="784.6" fill="#f08a30" fill-opacity="0.094"/><rect x="1094.5" y="55.3" width="2" height="784.6" fill="#f08a30" fill-opacity="0.055"/><rect x="1100.5" y="55.3" width="2" height="784.6" fill="#f08a30" fill-opacity="0.081"/><rect x="1104.5" y="55.3" width="2" height="784.6" fill="#f08a30" fill-opacity="0.056"/><rect x="1106.5" y="55.3" width="2" height="784.6" fill="#f08a30" fill-opacity="0.049"/><rect x="1108.5" y="55.3" width="2" height="784.6" fill="#f08a30" fill-opacity="0.036"/><rect x="1114.6" y="55.3" width="2" height="784.6" fill="#fff2b0" fill-opacity="0.044"/><rect x="1124.6" y="55.3" width="2" height="784.6" fill="#fff2b0" fill-opacity="0.042"/><rect x="1128.6" y="55.3" width="2" height="784.6" fill="#f08a30" fill-opacity="0.102"/><rect x="1130.6" y="55.3" width="2" height="784.6" fill="#f08a30" fill-opacity="0.072"/><rect x="1134.6" y="55.3" width="2" height="784.6" fill="#fff2b0" fill-opacity="0.033"/><rect x="1138.6" y="55.3" width="2" height="784.6" fill="#fff2b0" fill-opacity="0.039"/><rect x="1142.7" y="55.3" width="2" height="784.6" fill="#f08a30" fill-opacity="0.068"/><rect x="1150.7" y="55.3" width="2" height="784.6" fill="#f08a30" fill-opacity="0.079"/><rect x="1154.7" y="55.3" width="2" height="784.6" fill="#f08a30" fill-opacity="0.059"/><rect x="1156.7" y="55.3" width="2" height="784.6" fill="#f08a30" fill-opacity="0.137"/><rect x="1158.7" y="55.3" width="2" height="784.6" fill="#f08a30" fill-opacity="0.086"/><rect x="1160.7" y="55.3" width="2" height="784.6" fill="#f08a30" fill-opacity="0.138"/><rect x="1162.7" y="55.3" width="2" height="784.6" fill="#f08a30" fill-opacity="0.083"/><rect x="1164.7" y="55.3" width="2" height="784.6" fill="#fff2b0" fill-opacity="0.074"/><rect x="1166.7" y="55.3" width="2" height="784.6" fill="#fff2b0" fill-opacity="0.135"/><rect x="1168.7" y="55.3" width="2" height="784.6" fill="#fff2b0" fill-opacity="0.074"/><rect x="1170.7" y="55.3" width="2" height="784.6" fill="#fff2b0" fill-opacity="0.045"/><rect x="1172.8" y="55.3" width="2" height="784.6" fill="#fff2b0" fill-opacity="0.091"/><rect x="1176.8" y="55.3" width="2" height="784.6" fill="#f08a30" fill-opacity="0.086"/><rect x="1178.8" y="55.3" width="2" height="784.6" fill="#f08a30" fill-opacity="0.144"/><rect x="1182.8" y="55.3" width="2" height="784.6" fill="#f08a30" fill-opacity="0.155"/><rect x="1184.8" y="55.3" width="2" height="784.6" fill="#f08a30" fill-opacity="0.201"/><rect x="1186.8" y="55.3" width="2" height="784.6" fill="#f08a30" fill-opacity="0.076"/><rect x="1190.8" y="55.3" width="2" height="784.6" fill="#f08a30" fill-opacity="0.041"/><rect x="1192.8" y="55.3" width="2" height="784.6" fill="#fff2b0" fill-opacity="0.034"/><rect x="1204.9" y="55.3" width="2" height="784.6" fill="#fff2b0" fill-opacity="0.097"/><rect x="1214.9" y="55.3" width="2" height="784.6" fill="#f08a30" fill-opacity="0.035"/><rect x="1216.9" y="55.3" width="2" height="784.6" fill="#f08a30" fill-opacity="0.107"/><rect x="1218.9" y="55.3" width="2" height="784.6" fill="#f08a30" fill-opacity="0.050"/><rect x="1222.9" y="55.3" width="2" height="784.6" fill="#fff2b0" fill-opacity="0.058"/><rect x="1224.9" y="55.3" width="2" height="784.6" fill="#fff2b0" fill-opacity="0.046"/><rect x="1226.9" y="55.3" width="2" height="784.6" fill="#f08a30" fill-opacity="0.039"/><rect x="1228.9" y="55.3" width="2" height="784.6" fill="#f08a30" fill-opacity="0.052"/><rect x="1230.9" y="55.3" width="2" height="784.6" fill="#fff2b0" fill-opacity="0.080"/><rect x="1233" y="55.3" width="2" height="784.6" fill="#fff2b0" fill-opacity="0.037"/><rect x="1235" y="55.3" width="2" height="784.6" fill="#f08a30" fill-opacity="0.106"/><rect x="1237" y="55.3" width="2" height="784.6" fill="#f08a30" fill-opacity="0.058"/><rect x="1239" y="55.3" width="2" height="784.6" fill="#f08a30" fill-opacity="0.067"/><rect x="1241" y="55.3" width="2" height="784.6" fill="#f08a30" fill-opacity="0.070"/><rect x="1243" y="55.3" width="2" height="784.6" fill="#f08a30" fill-opacity="0.114"/><rect x="1245" y="55.3" width="2" height="784.6" fill="#f08a30" fill-opacity="0.055"/><rect x="1247" y="55.3" width="2" height="784.6" fill="#f08a30" fill-opacity="0.041"/><rect x="1251" y="55.3" width="2" height="784.6" fill="#fff2b0" fill-opacity="0.045"/><rect x="1255" y="55.3" width="2" height="784.6" fill="#f08a30" fill-opacity="0.091"/><rect x="1257" y="55.3" width="2" height="784.6" fill="#f08a30" fill-opacity="0.123"/><rect x="1259" y="55.3" width="2" height="784.6" fill="#f08a30" fill-opacity="0.041"/><rect x="1261" y="55.3" width="2" height="784.6" fill="#fff2b0" fill-opacity="0.055"/><rect x="1263.1" y="55.3" width="2" height="784.6" fill="#fff2b0" fill-opacity="0.047"/><rect x="1267.1" y="55.3" width="2" height="784.6" fill="#fff2b0" fill-opacity="0.050"/><rect x="1277.1" y="55.3" width="2" height="784.6" fill="#f08a30" fill-opacity="0.073"/><rect x="1279.1" y="55.3" width="2" height="784.6" fill="#f08a30" fill-opacity="0.039"/><rect x="1283.1" y="55.3" width="2" height="784.6" fill="#fff2b0" fill-opacity="0.051"/><rect x="1285.1" y="55.3" width="2" height="784.6" fill="#f08a30" fill-opacity="0.043"/><rect x="1293.2" y="55.3" width="2" height="784.6" fill="#f08a30" fill-opacity="0.058"/><rect x="1295.2" y="55.3" width="2" height="784.6" fill="#fff2b0" fill-opacity="0.058"/><rect x="1297.2" y="55.3" width="2" height="784.6" fill="#fff2b0" fill-opacity="0.088"/><rect x="1299.2" y="55.3" width="2" height="784.6" fill="#fff2b0" fill-opacity="0.091"/><rect x="1301.2" y="55.3" width="2" height="784.6" fill="#fff2b0" fill-opacity="0.051"/><rect x="1303.2" y="55.3" width="2" height="784.6" fill="#fff2b0" fill-opacity="0.078"/><rect x="1305.2" y="55.3" width="2" height="784.6" fill="#fff2b0" fill-opacity="0.048"/><rect x="1307.2" y="55.3" width="2" height="784.6" fill="#fff2b0" fill-opacity="0.047"/><rect x="1315.2" y="55.3" width="2" height="784.6" fill="#f08a30" fill-opacity="0.072"/><rect x="1317.2" y="55.3" width="2" height="784.6" fill="#f08a30" fill-opacity="0.054"/><rect x="1319.2" y="55.3" width="2" height="784.6" fill="#f08a30" fill-opacity="0.085"/><rect x="1321.2" y="55.3" width="2" height="784.6" fill="#f08a30" fill-opacity="0.084"/><rect x="1323.3" y="55.3" width="2" height="784.6" fill="#f08a30" fill-opacity="0.045"/><rect x="1327.3" y="55.3" width="2" height="784.6" fill="#fff2b0" fill-opacity="0.108"/><rect x="1329.3" y="55.3" width="2" height="784.6" fill="#fff2b0" fill-opacity="0.114"/><rect x="1331.3" y="55.3" width="2" height="784.6" fill="#fff2b0" fill-opacity="0.075"/><rect x="1333.3" y="55.3" width="2" height="784.6" fill="#fff2b0" fill-opacity="0.038"/><rect x="1335.3" y="55.3" width="2" height="784.6" fill="#f08a30" fill-opacity="0.038"/><rect x="1339.3" y="55.3" width="2" height="784.6" fill="#f08a30" fill-opacity="0.089"/><rect x="1341.3" y="55.3" width="2" height="784.6" fill="#f08a30" fill-opacity="0.061"/><rect x="1343.3" y="55.3" width="2" height="784.6" fill="#f08a30" fill-opacity="0.042"/><rect x="1351.3" y="55.3" width="2" height="784.6" fill="#fff2b0" fill-opacity="0.100"/><rect x="1357.4" y="55.3" width="2" height="784.6" fill="#f08a30" fill-opacity="0.070"/><rect x="1361.4" y="55.3" width="2" height="784.6" fill="#f08a30" fill-opacity="0.058"/><rect x="1367.4" y="55.3" width="2" height="784.6" fill="#fff2b0" fill-opacity="0.044"/><rect x="1369.4" y="55.3" width="2" height="784.6" fill="#fff2b0" fill-opacity="0.040"/><rect x="1375.4" y="55.3" width="2" height="784.6" fill="#fff2b0" fill-opacity="0.085"/><rect x="1385.5" y="55.3" width="2" height="784.6" fill="#f08a30" fill-opacity="0.060"/><rect x="1397.5" y="55.3" width="2" height="784.6" fill="#fff2b0" fill-opacity="0.059"/><rect x="1401.5" y="55.3" width="2" height="784.6" fill="#fff2b0" fill-opacity="0.086"/><rect x="1403.5" y="55.3" width="2" height="784.6" fill="#fff2b0" fill-opacity="0.039"/><rect x="1407.5" y="55.3" width="2" height="784.6" fill="#fff2b0" fill-opacity="0.054"/><rect x="1409.5" y="55.3" width="2" height="784.6" fill="#fff2b0" fill-opacity="0.079"/><rect x="1411.5" y="55.3" width="2" height="784.6" fill="#fff2b0" fill-opacity="0.097"/><rect x="1413.6" y="55.3" width="2" height="784.6" fill="#fff2b0" fill-opacity="0.090"/><rect x="1415.6" y="55.3" width="2" height="784.6" fill="#fff2b0" fill-opacity="0.043"/><rect x="1417.6" y="55.3" width="2" height="784.6" fill="#f08a30" fill-opacity="0.046"/><rect x="1419.6" y="55.3" width="2" height="784.6" fill="#fff2b0" fill-opacity="0.030"/><rect x="1423.6" y="55.3" width="2" height="784.6" fill="#fff2b0" fill-opacity="0.030"/><rect x="1425.6" y="55.3" width="2" height="784.6" fill="#fff2b0" fill-opacity="0.056"/><rect x="1429.6" y="55.3" width="2" height="784.6" fill="#fff2b0" fill-opacity="0.079"/><rect x="1431.6" y="55.3" width="2" height="784.6" fill="#fff2b0" fill-opacity="0.132"/><rect x="1433.6" y="55.3" width="2" height="784.6" fill="#fff2b0" fill-opacity="0.046"/><rect x="1437.6" y="55.3" width="2" height="784.6" fill="#fff2b0" fill-opacity="0.063"/><rect x="1439.6" y="55.3" width="2" height="784.6" fill="#fff2b0" fill-opacity="0.032"/><rect x="1441.6" y="55.3" width="2" height="784.6" fill="#fff2b0" fill-opacity="0.063"/><rect x="1443.7" y="55.3" width="2" height="784.6" fill="#fff2b0" fill-opacity="0.054"/><rect x="1445.7" y="55.3" width="2" height="784.6" fill="#f08a30" fill-opacity="0.069"/><rect x="1449.7" y="55.3" width="2" height="784.6" fill="#f08a30" fill-opacity="0.093"/><rect x="1451.7" y="55.3" width="2" height="784.6" fill="#f08a30" fill-opacity="0.053"/><rect x="1455.7" y="55.3" width="2" height="784.6" fill="#f08a30" fill-opacity="0.071"/><rect x="1457.7" y="55.3" width="2" height="784.6" fill="#f08a30" fill-opacity="0.063"/><rect x="1467.7" y="55.3" width="2" height="784.6" fill="#f08a30" fill-opacity="0.035"/><rect x="1469.7" y="55.3" width="2" height="784.6" fill="#f08a30" fill-opacity="0.046"/><rect x="1473.8" y="55.3" width="2" height="784.6" fill="#f08a30" fill-opacity="0.057"/><rect x="1475.8" y="55.3" width="2" height="784.6" fill="#f08a30" fill-opacity="0.051"/><rect x="1479.8" y="55.3" width="2" height="784.6" fill="#f08a30" fill-opacity="0.050"/><rect x="1481.8" y="55.3" width="2" height="784.6" fill="#f08a30" fill-opacity="0.050"/><rect x="1483.8" y="55.3" width="2" height="784.6" fill="#fff2b0" fill-opacity="0.042"/><rect x="1487.8" y="55.3" width="2" height="784.6" fill="#f08a30" fill-opacity="0.140"/><rect x="1489.8" y="55.3" width="2" height="784.6" fill="#f08a30" fill-opacity="0.049"/><rect x="1491.8" y="55.3" width="2" height="784.6" fill="#fff2b0" fill-opacity="0.112"/><rect x="1493.8" y="55.3" width="2" height="784.6" fill="#fff2b0" fill-opacity="0.150"/><rect x="1497.8" y="55.3" width="2" height="784.6" fill="#fff2b0" fill-opacity="0.036"/><rect x="1499.8" y="55.3" width="2" height="784.6" fill="#fff2b0" fill-opacity="0.043"/><rect x="1503.9" y="55.3" width="2" height="784.6" fill="#f08a30" fill-opacity="0.090"/><rect x="1505.9" y="55.3" width="2" height="784.6" fill="#fff2b0" fill-opacity="0.030"/><rect x="1511.9" y="55.3" width="2" height="784.6" fill="#f08a30" fill-opacity="0.106"/><rect x="1513.9" y="55.3" width="2" height="784.6" fill="#f08a30" fill-opacity="0.060"/><rect x="1523.9" y="55.3" width="2" height="784.6" fill="#fff2b0" fill-opacity="0.047"/><rect x="1527.9" y="55.3" width="2" height="784.6" fill="#f08a30" fill-opacity="0.069"/><rect x="1529.9" y="55.3" width="2" height="784.6" fill="#f08a30" fill-opacity="0.046"/><rect x="1536" y="55.3" width="2" height="784.6" fill="#fff2b0" fill-opacity="0.053"/><rect x="1544" y="55.3" width="2" height="784.6" fill="#f08a30" fill-opacity="0.045"/><rect x="1546" y="55.3" width="2" height="784.6" fill="#fff2b0" fill-opacity="0.043"/><rect x="1550" y="55.3" width="2" height="784.6" fill="#f08a30" fill-opacity="0.055"/><rect x="1552" y="55.3" width="2" height="784.6" fill="#f08a30" fill-opacity="0.072"/><rect x="1554" y="55.3" width="2" height="784.6" fill="#f08a30" fill-opacity="0.125"/><rect x="1556" y="55.3" width="2" height="784.6" fill="#f08a30" fill-opacity="0.083"/><rect x="1558" y="55.3" width="2" height="784.6" fill="#fff2b0" fill-opacity="0.053"/><rect x="1568.1" y="55.3" width="2" height="784.6" fill="#f08a30" fill-opacity="0.044"/><rect x="1574.1" y="55.3" width="2" height="784.6" fill="#fff2b0" fill-opacity="0.050"/><rect x="1576.1" y="55.3" width="2" height="784.6" fill="#fff2b0" fill-opacity="0.036"/><rect x="1578.1" y="55.3" width="2" height="784.6" fill="#fff2b0" fill-opacity="0.076"/><rect x="1582.1" y="55.3" width="2" height="784.6" fill="#f08a30" fill-opacity="0.042"/><rect x="1584.1" y="55.3" width="2" height="784.6" fill="#f08a30" fill-opacity="0.087"/><rect x="1594.2" y="55.3" width="2" height="784.6" fill="#f08a30" fill-opacity="0.068"/><rect x="1596.2" y="55.3" width="2" height="784.6" fill="#f08a30" fill-opacity="0.054"/><rect x="1598.2" y="55.3" width="2" height="784.6" fill="#f08a30" fill-opacity="0.037"/><rect x="1602.2" y="55.3" width="2" height="784.6" fill="#fff2b0" fill-opacity="0.052"/><rect x="1604.2" y="55.3" width="2" height="784.6" fill="#fff2b0" fill-opacity="0.041"/><rect x="1606.2" y="55.3" width="2" height="784.6" fill="#fff2b0" fill-opacity="0.057"/><rect x="1608.2" y="55.3" width="2" height="784.6" fill="#fff2b0" fill-opacity="0.057"/><rect x="1612.2" y="55.3" width="2" height="784.6" fill="#fff2b0" fill-opacity="0.056"/><rect x="1616.2" y="55.3" width="2" height="784.6" fill="#f08a30" fill-opacity="0.085"/><rect x="1618.2" y="55.3" width="2" height="784.6" fill="#f08a30" fill-opacity="0.055"/><rect x="1620.2" y="55.3" width="2" height="784.6" fill="#f08a30" fill-opacity="0.035"/><rect x="1622.2" y="55.3" width="2" height="784.6" fill="#f08a30" fill-opacity="0.064"/><rect x="1624.3" y="55.3" width="2" height="784.6" fill="#fff2b0" fill-opacity="0.090"/><rect x="1630.3" y="55.3" width="2" height="784.6" fill="#f08a30" fill-opacity="0.061"/><rect x="1636.3" y="55.3" width="2" height="784.6" fill="#f08a30" fill-opacity="0.041"/><rect x="1644.3" y="55.3" width="2" height="784.6" fill="#f08a30" fill-opacity="0.062"/><rect x="1650.3" y="55.3" width="2" height="784.6" fill="#f08a30" fill-opacity="0.083"/><rect x="1652.3" y="55.3" width="2" height="784.6" fill="#f08a30" fill-opacity="0.142"/><rect x="1654.4" y="55.3" width="2" height="784.6" fill="#f08a30" fill-opacity="0.046"/><rect x="1658.4" y="55.3" width="2" height="784.6" fill="#fff2b0" fill-opacity="0.093"/><rect x="1662.4" y="55.3" width="2" height="784.6" fill="#fff2b0" fill-opacity="0.067"/><rect x="1664.4" y="55.3" width="2" height="784.6" fill="#fff2b0" fill-opacity="0.075"/><rect x="1666.4" y="55.3" width="2" height="784.6" fill="#fff2b0" fill-opacity="0.031"/><rect x="1672.4" y="55.3" width="2" height="784.6" fill="#f08a30" fill-opacity="0.065"/><rect x="1674.4" y="55.3" width="2" height="784.6" fill="#fff2b0" fill-opacity="0.045"/><rect x="1678.4" y="55.3" width="2" height="784.6" fill="#f08a30" fill-opacity="0.050"/><rect x="1680.4" y="55.3" width="2" height="784.6" fill="#f08a30" fill-opacity="0.047"/><rect x="1682.4" y="55.3" width="2" height="784.6" fill="#f08a30" fill-opacity="0.177"/><rect x="1684.5" y="55.3" width="2" height="784.6" fill="#f08a30" fill-opacity="0.127"/><rect x="1686.5" y="55.3" width="2" height="784.6" fill="#f08a30" fill-opacity="0.107"/><rect x="1688.5" y="55.3" width="2" height="784.6" fill="#f08a30" fill-opacity="0.101"/><rect x="1692.5" y="55.3" width="2" height="784.6" fill="#fff2b0" fill-opacity="0.078"/><rect x="1716.6" y="55.3" width="2" height="784.6" fill="#f08a30" fill-opacity="0.096"/><rect x="1718.6" y="55.3" width="2" height="784.6" fill="#f08a30" fill-opacity="0.093"/><rect x="1720.6" y="55.3" width="2" height="784.6" fill="#f08a30" fill-opacity="0.040"/><rect x="1724.6" y="55.3" width="2" height="784.6" fill="#f08a30" fill-opacity="0.058"/><rect x="1726.6" y="55.3" width="2" height="784.6" fill="#fff2b0" fill-opacity="0.054"/><rect x="1728.6" y="55.3" width="2" height="784.6" fill="#fff2b0" fill-opacity="0.068"/><rect x="1734.6" y="55.3" width="2" height="784.6" fill="#f08a30" fill-opacity="0.112"/><rect x="1736.6" y="55.3" width="2" height="784.6" fill="#f08a30" fill-opacity="0.056"/><rect x="1738.6" y="55.3" width="2" height="784.6" fill="#f08a30" fill-opacity="0.085"/><rect x="1740.6" y="55.3" width="2" height="784.6" fill="#fff2b0" fill-opacity="0.038"/><rect x="1742.6" y="55.3" width="2" height="784.6" fill="#fff2b0" fill-opacity="0.051"/><rect x="1746.7" y="55.3" width="2" height="784.6" fill="#f08a30" fill-opacity="0.047"/><rect x="1748.7" y="55.3" width="2" height="784.6" fill="#f08a30" fill-opacity="0.072"/><rect x="1756.7" y="55.3" width="2" height="784.6" fill="#f08a30" fill-opacity="0.084"/><rect x="1762.7" y="55.3" width="2" height="784.6" fill="#f08a30" fill-opacity="0.145"/><rect x="1764.7" y="55.3" width="2" height="784.6" fill="#f08a30" fill-opacity="0.116"/><rect x="1766.7" y="55.3" width="2" height="784.6" fill="#f08a30" fill-opacity="0.070"/><rect x="1768.7" y="55.3" width="2" height="784.6" fill="#f08a30" fill-opacity="0.071"/><rect x="1770.7" y="55.3" width="2" height="784.6" fill="#f08a30" fill-opacity="0.113"/><rect x="1772.7" y="55.3" width="2" height="784.6" fill="#f08a30" fill-opacity="0.041"/><rect x="1774.8" y="55.3" width="2" height="784.6" fill="#f08a30" fill-opacity="0.073"/><rect x="1776.8" y="55.3" width="2" height="784.6" fill="#f08a30" fill-opacity="0.048"/><rect x="1778.8" y="55.3" width="2" height="784.6" fill="#f08a30" fill-opacity="0.127"/><rect x="1780.8" y="55.3" width="2" height="784.6" fill="#f08a30" fill-opacity="0.089"/><rect x="1784.8" y="55.3" width="2" height="784.6" fill="#f08a30" fill-opacity="0.097"/><rect x="1788.8" y="55.3" width="2" height="784.6" fill="#fff2b0" fill-opacity="0.069"/><rect x="1790.8" y="55.3" width="2" height="784.6" fill="#fff2b0" fill-opacity="0.033"/><rect x="1792.8" y="55.3" width="2" height="784.6" fill="#f08a30" fill-opacity="0.047"/><rect x="1794.8" y="55.3" width="2" height="784.6" fill="#fff2b0" fill-opacity="0.079"/><rect x="1798.8" y="55.3" width="2" height="784.6" fill="#fff2b0" fill-opacity="0.041"/><rect x="1800.8" y="55.3" width="2" height="784.6" fill="#fff2b0" fill-opacity="0.045"/><rect x="1806.9" y="55.3" width="2" height="784.6" fill="#f08a30" fill-opacity="0.156"/><rect x="1808.9" y="55.3" width="2" height="784.6" fill="#f08a30" fill-opacity="0.035"/><rect x="1816.9" y="55.3" width="2" height="784.6" fill="#fff2b0" fill-opacity="0.054"/><rect x="1818.9" y="55.3" width="2" height="784.6" fill="#fff2b0" fill-opacity="0.042"/><rect x="1822.9" y="55.3" width="2" height="784.6" fill="#fff2b0" fill-opacity="0.036"/><rect x="1824.9" y="55.3" width="2" height="784.6" fill="#fff2b0" fill-opacity="0.057"/><rect x="1830.9" y="55.3" width="2" height="784.6" fill="#f08a30" fill-opacity="0.162"/><rect x="1832.9" y="55.3" width="2" height="784.6" fill="#f08a30" fill-opacity="0.123"/><rect x="1837" y="55.3" width="2" height="784.6" fill="#f08a30" fill-opacity="0.079"/><rect x="1839" y="55.3" width="2" height="784.6" fill="#fff2b0" fill-opacity="0.029"/><rect x="1841" y="55.3" width="2" height="784.6" fill="#fff2b0" fill-opacity="0.046"/><rect x="1843" y="55.3" width="2" height="784.6" fill="#f08a30" fill-opacity="0.065"/><rect x="1845" y="55.3" width="2" height="784.6" fill="#f08a30" fill-opacity="0.090"/><rect x="1851" y="55.3" width="2" height="784.6" fill="#fff2b0" fill-opacity="0.031"/><rect x="1857" y="55.3" width="2" height="784.6" fill="#f08a30" fill-opacity="0.062"/><rect x="1861" y="55.3" width="2" height="784.6" fill="#f08a30" fill-opacity="0.038"/><rect x="1863" y="55.3" width="2" height="784.6" fill="#fff2b0" fill-opacity="0.039"/><rect x="1867.1" y="55.3" width="2" height="784.6" fill="#f08a30" fill-opacity="0.090"/><rect x="1871.1" y="55.3" width="2" height="784.6" fill="#f08a30" fill-opacity="0.056"/><rect x="1875.1" y="55.3" width="2" height="784.6" fill="#f08a30" fill-opacity="0.042"/><rect x="1877.1" y="55.3" width="2" height="784.6" fill="#fff2b0" fill-opacity="0.054"/><rect x="1036.3" y="55.3" width="12.3" height="784.6" fill="#fff2b8" fill-opacity="0.056"/><rect x="1048.6" y="55.3" width="9.5" height="784.6" fill="#fff2b8" fill-opacity="0.056"/><rect x="1058.1" y="55.3" width="22.2" height="784.6" fill="#f2872c" fill-opacity="0.041"/><rect x="1080.2" y="55.3" width="23.7" height="784.6" fill="#fff2b8" fill-opacity="0.049"/><rect x="1103.9" y="55.3" width="27" height="784.6" fill="#fff2b8" fill-opacity="0.049"/><rect x="1130.9" y="55.3" width="11.7" height="784.6" fill="#fff2b8" fill-opacity="0.039"/><rect x="1142.6" y="55.3" width="18.9" height="784.6" fill="#f2872c" fill-opacity="0.073"/><rect x="1161.5" y="55.3" width="20.8" height="784.6" fill="#fff2b8" fill-opacity="0.049"/><rect x="1182.3" y="55.3" width="16.6" height="784.6" fill="#fff2b8" fill-opacity="0.052"/><rect x="1199" y="55.3" width="16.6" height="784.6" fill="#f2872c" fill-opacity="0.050"/><rect x="1215.6" y="55.3" width="9.2" height="784.6" fill="#fff2b8" fill-opacity="0.040"/><rect x="1224.8" y="55.3" width="10.5" height="784.6" fill="#f2872c" fill-opacity="0.056"/><rect x="1235.4" y="55.3" width="26.6" height="784.6" fill="#fff2b8" fill-opacity="0.053"/><rect x="1261.9" y="55.3" width="25.1" height="784.6" fill="#f2872c" fill-opacity="0.048"/><rect x="1287" y="55.3" width="20.6" height="784.6" fill="#fff2b8" fill-opacity="0.037"/><rect x="1307.6" y="55.3" width="17.1" height="784.6" fill="#fff2b8" fill-opacity="0.057"/><rect x="1324.7" y="55.3" width="10.8" height="784.6" fill="#f2872c" fill-opacity="0.061"/><rect x="1335.5" y="55.3" width="13.9" height="784.6" fill="#fff2b8" fill-opacity="0.058"/><rect x="1349.3" y="55.3" width="22.1" height="784.6" fill="#fff2b8" fill-opacity="0.059"/><rect x="1371.4" y="55.3" width="11.8" height="784.6" fill="#fff2b8" fill-opacity="0.052"/><rect x="1383.2" y="55.3" width="22.9" height="784.6" fill="#f2872c" fill-opacity="0.050"/><rect x="1406.1" y="55.3" width="20.2" height="784.6" fill="#fff2b8" fill-opacity="0.055"/><rect x="1426.3" y="55.3" width="16.1" height="784.6" fill="#f2872c" fill-opacity="0.049"/><rect x="1442.4" y="55.3" width="11.2" height="784.6" fill="#fff2b8" fill-opacity="0.032"/><rect x="1453.6" y="55.3" width="11.2" height="784.6" fill="#f2872c" fill-opacity="0.054"/><rect x="1464.8" y="55.3" width="15.7" height="784.6" fill="#f2872c" fill-opacity="0.041"/><rect x="1480.6" y="55.3" width="15.3" height="784.6" fill="#fff2b8" fill-opacity="0.047"/><rect x="1495.9" y="55.3" width="17.7" height="784.6" fill="#f2872c" fill-opacity="0.065"/><rect x="1513.6" y="55.3" width="25.2" height="784.6" fill="#fff2b8" fill-opacity="0.053"/><rect x="1538.8" y="55.3" width="23.2" height="784.6" fill="#fff2b8" fill-opacity="0.038"/><rect x="1561.9" y="55.3" width="23.7" height="784.6" fill="#f2872c" fill-opacity="0.067"/><rect x="1585.6" y="55.3" width="25" height="784.6" fill="#fff2b8" fill-opacity="0.055"/><rect x="1610.6" y="55.3" width="21.2" height="784.6" fill="#f2872c" fill-opacity="0.039"/><rect x="1631.8" y="55.3" width="22.8" height="784.6" fill="#fff2b8" fill-opacity="0.057"/><rect x="1654.6" y="55.3" width="17.3" height="784.6" fill="#fff2b8" fill-opacity="0.037"/><rect x="1672" y="55.3" width="21.5" height="784.6" fill="#fff2b8" fill-opacity="0.036"/><rect x="1693.4" y="55.3" width="25.7" height="784.6" fill="#f2872c" fill-opacity="0.059"/><rect x="1719.1" y="55.3" width="27.8" height="784.6" fill="#fff2b8" fill-opacity="0.048"/><rect x="1746.9" y="55.3" width="24.3" height="784.6" fill="#f2872c" fill-opacity="0.047"/><rect x="1771.3" y="55.3" width="12.3" height="784.6" fill="#fff2b8" fill-opacity="0.048"/><rect x="1783.5" y="55.3" width="24" height="784.6" fill="#f2872c" fill-opacity="0.042"/><rect x="1807.5" y="55.3" width="16.4" height="784.6" fill="#fff2b8" fill-opacity="0.030"/><rect x="1823.9" y="55.3" width="27.3" height="784.6" fill="#f2872c" fill-opacity="0.070"/><rect x="1851.2" y="55.3" width="24.8" height="784.6" fill="#fff2b8" fill-opacity="0.037"/><rect x="1876" y="55.3" width="3.1" height="784.6" fill="#f2872c" fill-opacity="0.049"/><rect x="1385.3" y="55.3" width="2" height="784.6" fill="#fff8e6" fill-opacity="0.720"/><rect x="1497.4" y="55.3" width="2" height="784.6" fill="#fff0b0" fill-opacity="0.300"/><rect x="1300.6" y="55.3" width="2" height="784.6" fill="#fff0b0" fill-opacity="0.420"/><rect x="1205.5" y="55.3" width="2" height="784.6" fill="#fff0b0" fill-opacity="0.360"/><rect x="1673" y="55.3" width="8" height="784.6" fill="#fff0b0" fill-opacity="0.360"/><rect x="1073.5" y="55.3" width="3" height="784.6" fill="#fff0b0" fill-opacity="0.240"/><rect x="1113" y="55.3" width="1.5" height="784.6" fill="#e8702a" fill-opacity="0.120"/><rect x="1458" y="55.3" width="3" height="784.6" fill="#fff0b0" fill-opacity="0.240"/><rect x="1768.5" y="55.3" width="4" height="784.6" fill="#fff0b0" fill-opacity="0.240"/><rect x="1857" y="55.3" width="18" height="784.6" fill="#fff0b0" fill-opacity="0.180"/><rect x="1066.7" y="55.3" width="5" height="784.6" fill="#fff0b0" fill-opacity="0.300"/><rect x="1036.3" y="55.3" width="842.8" height="1.9" fill="#fff2b0" fill-opacity="0.113"/><rect x="1036.3" y="62.8" width="842.8" height="1.9" fill="#f08a30" fill-opacity="0.060"/><rect x="1036.3" y="64.6" width="842.8" height="1.9" fill="#f08a30" fill-opacity="0.050"/><rect x="1036.3" y="66.5" width="842.8" height="1.9" fill="#f08a30" fill-opacity="0.038"/><rect x="1036.3" y="70.2" width="842.8" height="1.9" fill="#fff2b0" fill-opacity="0.028"/><rect x="1036.3" y="72.1" width="842.8" height="1.9" fill="#fff2b0" fill-opacity="0.054"/><rect x="1036.3" y="74" width="842.8" height="1.9" fill="#fff2b0" fill-opacity="0.031"/><rect x="1036.3" y="75.8" width="842.8" height="1.9" fill="#fff2b0" fill-opacity="0.057"/><rect x="1036.3" y="77.7" width="842.8" height="1.9" fill="#fff2b0" fill-opacity="0.031"/><rect x="1036.3" y="83.3" width="842.8" height="1.9" fill="#f08a30" fill-opacity="0.080"/><rect x="1036.3" y="85.2" width="842.8" height="1.9" fill="#f08a30" fill-opacity="0.106"/><rect x="1036.3" y="94.5" width="842.8" height="1.9" fill="#f08a30" fill-opacity="0.080"/><rect x="1036.3" y="96.4" width="842.8" height="1.9" fill="#f08a30" fill-opacity="0.073"/><rect x="1036.3" y="98.3" width="842.8" height="1.9" fill="#f08a30" fill-opacity="0.064"/><rect x="1036.3" y="100.1" width="842.8" height="1.9" fill="#fff2b0" fill-opacity="0.031"/><rect x="1036.3" y="105.7" width="842.8" height="1.9" fill="#f08a30" fill-opacity="0.070"/><rect x="1036.3" y="107.6" width="842.8" height="1.9" fill="#f08a30" fill-opacity="0.094"/><rect x="1036.3" y="109.5" width="842.8" height="1.9" fill="#f08a30" fill-opacity="0.055"/><rect x="1036.3" y="115.1" width="842.8" height="1.9" fill="#f08a30" fill-opacity="0.081"/><rect x="1036.3" y="118.8" width="842.8" height="1.9" fill="#f08a30" fill-opacity="0.056"/><rect x="1036.3" y="120.7" width="842.8" height="1.9" fill="#f08a30" fill-opacity="0.049"/><rect x="1036.3" y="122.6" width="842.8" height="1.9" fill="#f08a30" fill-opacity="0.036"/><rect x="1036.3" y="128.2" width="842.8" height="1.9" fill="#fff2b0" fill-opacity="0.044"/><rect x="1036.3" y="137.5" width="842.8" height="1.9" fill="#fff2b0" fill-opacity="0.042"/><rect x="1036.3" y="141.2" width="842.8" height="1.9" fill="#f08a30" fill-opacity="0.102"/><rect x="1036.3" y="143.1" width="842.8" height="1.9" fill="#f08a30" fill-opacity="0.072"/><rect x="1036.3" y="146.8" width="842.8" height="1.9" fill="#fff2b0" fill-opacity="0.033"/><rect x="1036.3" y="150.6" width="842.8" height="1.9" fill="#fff2b0" fill-opacity="0.039"/><rect x="1036.3" y="154.3" width="842.8" height="1.9" fill="#f08a30" fill-opacity="0.068"/><rect x="1036.3" y="161.8" width="842.8" height="1.9" fill="#f08a30" fill-opacity="0.079"/><rect x="1036.3" y="165.5" width="842.8" height="1.9" fill="#f08a30" fill-opacity="0.059"/><rect x="1036.3" y="167.4" width="842.8" height="1.9" fill="#f08a30" fill-opacity="0.137"/><rect x="1036.3" y="169.3" width="842.8" height="1.9" fill="#f08a30" fill-opacity="0.086"/><rect x="1036.3" y="171.1" width="842.8" height="1.9" fill="#f08a30" fill-opacity="0.138"/><rect x="1036.3" y="173" width="842.8" height="1.9" fill="#f08a30" fill-opacity="0.083"/><rect x="1036.3" y="174.9" width="842.8" height="1.9" fill="#fff2b0" fill-opacity="0.074"/><rect x="1036.3" y="176.7" width="842.8" height="1.9" fill="#fff2b0" fill-opacity="0.135"/><rect x="1036.3" y="178.6" width="842.8" height="1.9" fill="#fff2b0" fill-opacity="0.074"/><rect x="1036.3" y="180.5" width="842.8" height="1.9" fill="#fff2b0" fill-opacity="0.045"/><rect x="1036.3" y="182.3" width="842.8" height="1.9" fill="#fff2b0" fill-opacity="0.091"/><rect x="1036.3" y="186.1" width="842.8" height="1.9" fill="#f08a30" fill-opacity="0.086"/><rect x="1036.3" y="187.9" width="842.8" height="1.9" fill="#f08a30" fill-opacity="0.144"/><rect x="1036.3" y="191.7" width="842.8" height="1.9" fill="#f08a30" fill-opacity="0.155"/><rect x="1036.3" y="193.5" width="842.8" height="1.9" fill="#f08a30" fill-opacity="0.201"/><rect x="1036.3" y="195.4" width="842.8" height="1.9" fill="#f08a30" fill-opacity="0.076"/><rect x="1036.3" y="199.1" width="842.8" height="1.9" fill="#f08a30" fill-opacity="0.041"/><rect x="1036.3" y="201" width="842.8" height="1.9" fill="#fff2b0" fill-opacity="0.034"/><rect x="1036.3" y="212.2" width="842.8" height="1.9" fill="#fff2b0" fill-opacity="0.097"/><rect x="1036.3" y="221.6" width="842.8" height="1.9" fill="#f08a30" fill-opacity="0.035"/><rect x="1036.3" y="223.4" width="842.8" height="1.9" fill="#f08a30" fill-opacity="0.107"/><rect x="1036.3" y="225.3" width="842.8" height="1.9" fill="#f08a30" fill-opacity="0.050"/><rect x="1036.3" y="229" width="842.8" height="1.9" fill="#fff2b0" fill-opacity="0.058"/><rect x="1036.3" y="230.9" width="842.8" height="1.9" fill="#fff2b0" fill-opacity="0.046"/><rect x="1036.3" y="232.8" width="842.8" height="1.9" fill="#f08a30" fill-opacity="0.039"/><rect x="1036.3" y="234.6" width="842.8" height="1.9" fill="#f08a30" fill-opacity="0.052"/><rect x="1036.3" y="236.5" width="842.8" height="1.9" fill="#fff2b0" fill-opacity="0.080"/><rect x="1036.3" y="238.4" width="842.8" height="1.9" fill="#fff2b0" fill-opacity="0.037"/><rect x="1036.3" y="240.2" width="842.8" height="1.9" fill="#f08a30" fill-opacity="0.106"/><rect x="1036.3" y="242.1" width="842.8" height="1.9" fill="#f08a30" fill-opacity="0.058"/><rect x="1036.3" y="244" width="842.8" height="1.9" fill="#f08a30" fill-opacity="0.067"/><rect x="1036.3" y="245.8" width="842.8" height="1.9" fill="#f08a30" fill-opacity="0.070"/><rect x="1036.3" y="247.7" width="842.8" height="1.9" fill="#f08a30" fill-opacity="0.114"/><rect x="1036.3" y="249.6" width="842.8" height="1.9" fill="#f08a30" fill-opacity="0.055"/><rect x="1036.3" y="251.5" width="842.8" height="1.9" fill="#f08a30" fill-opacity="0.041"/><rect x="1036.3" y="255.2" width="842.8" height="1.9" fill="#fff2b0" fill-opacity="0.045"/><rect x="1036.3" y="258.9" width="842.8" height="1.9" fill="#f08a30" fill-opacity="0.091"/><rect x="1036.3" y="260.8" width="842.8" height="1.9" fill="#f08a30" fill-opacity="0.123"/><rect x="1036.3" y="262.7" width="842.8" height="1.9" fill="#f08a30" fill-opacity="0.041"/><rect x="1036.3" y="264.5" width="842.8" height="1.9" fill="#fff2b0" fill-opacity="0.055"/><rect x="1036.3" y="266.4" width="842.8" height="1.9" fill="#fff2b0" fill-opacity="0.047"/><rect x="1036.3" y="270.1" width="842.8" height="1.9" fill="#fff2b0" fill-opacity="0.050"/><rect x="1036.3" y="279.5" width="842.8" height="1.9" fill="#f08a30" fill-opacity="0.073"/><rect x="1036.3" y="281.3" width="842.8" height="1.9" fill="#f08a30" fill-opacity="0.039"/><rect x="1036.3" y="285.1" width="842.8" height="1.9" fill="#fff2b0" fill-opacity="0.051"/><rect x="1036.3" y="286.9" width="842.8" height="1.9" fill="#f08a30" fill-opacity="0.043"/><rect x="1036.3" y="294.4" width="842.8" height="1.9" fill="#f08a30" fill-opacity="0.058"/><rect x="1036.3" y="296.3" width="842.8" height="1.9" fill="#fff2b0" fill-opacity="0.058"/><rect x="1036.3" y="298.2" width="842.8" height="1.9" fill="#fff2b0" fill-opacity="0.088"/><rect x="1036.3" y="300" width="842.8" height="1.9" fill="#fff2b0" fill-opacity="0.091"/><rect x="1036.3" y="301.9" width="842.8" height="1.9" fill="#fff2b0" fill-opacity="0.051"/><rect x="1036.3" y="303.8" width="842.8" height="1.9" fill="#fff2b0" fill-opacity="0.078"/><rect x="1036.3" y="305.6" width="842.8" height="1.9" fill="#fff2b0" fill-opacity="0.048"/><rect x="1036.3" y="307.5" width="842.8" height="1.9" fill="#fff2b0" fill-opacity="0.047"/><rect x="1036.3" y="315" width="842.8" height="1.9" fill="#f08a30" fill-opacity="0.072"/><rect x="1036.3" y="316.8" width="842.8" height="1.9" fill="#f08a30" fill-opacity="0.054"/><rect x="1036.3" y="318.7" width="842.8" height="1.9" fill="#f08a30" fill-opacity="0.085"/><rect x="1036.3" y="320.6" width="842.8" height="1.9" fill="#f08a30" fill-opacity="0.084"/><rect x="1036.3" y="322.4" width="842.8" height="1.9" fill="#f08a30" fill-opacity="0.045"/><rect x="1036.3" y="326.2" width="842.8" height="1.9" fill="#fff2b0" fill-opacity="0.108"/><rect x="1036.3" y="328" width="842.8" height="1.9" fill="#fff2b0" fill-opacity="0.114"/><rect x="1036.3" y="329.9" width="842.8" height="1.9" fill="#fff2b0" fill-opacity="0.075"/><rect x="1036.3" y="331.8" width="842.8" height="1.9" fill="#fff2b0" fill-opacity="0.038"/><rect x="1036.3" y="333.6" width="842.8" height="1.9" fill="#f08a30" fill-opacity="0.038"/><rect x="1036.3" y="337.4" width="842.8" height="1.9" fill="#f08a30" fill-opacity="0.089"/><rect x="1036.3" y="339.3" width="842.8" height="1.9" fill="#f08a30" fill-opacity="0.061"/><rect x="1036.3" y="341.1" width="842.8" height="1.9" fill="#f08a30" fill-opacity="0.042"/><rect x="1036.3" y="348.6" width="842.8" height="1.9" fill="#fff2b0" fill-opacity="0.100"/><rect x="1036.3" y="354.2" width="842.8" height="1.9" fill="#f08a30" fill-opacity="0.070"/><rect x="1036.3" y="357.9" width="842.8" height="1.9" fill="#f08a30" fill-opacity="0.058"/><rect x="1036.3" y="363.5" width="842.8" height="1.9" fill="#fff2b0" fill-opacity="0.044"/><rect x="1036.3" y="365.4" width="842.8" height="1.9" fill="#fff2b0" fill-opacity="0.040"/><rect x="1036.3" y="371" width="842.8" height="1.9" fill="#fff2b0" fill-opacity="0.085"/><rect x="1036.3" y="380.3" width="842.8" height="1.9" fill="#f08a30" fill-opacity="0.060"/><rect x="1036.3" y="391.6" width="842.8" height="1.9" fill="#fff2b0" fill-opacity="0.059"/><rect x="1036.3" y="395.3" width="842.8" height="1.9" fill="#fff2b0" fill-opacity="0.086"/><rect x="1036.3" y="397.2" width="842.8" height="1.9" fill="#fff2b0" fill-opacity="0.039"/><rect x="1036.3" y="400.9" width="842.8" height="1.9" fill="#fff2b0" fill-opacity="0.054"/><rect x="1036.3" y="402.8" width="842.8" height="1.9" fill="#fff2b0" fill-opacity="0.079"/><rect x="1036.3" y="404.6" width="842.8" height="1.9" fill="#fff2b0" fill-opacity="0.097"/><rect x="1036.3" y="406.5" width="842.8" height="1.9" fill="#fff2b0" fill-opacity="0.090"/><rect x="1036.3" y="408.4" width="842.8" height="1.9" fill="#fff2b0" fill-opacity="0.043"/><rect x="1036.3" y="410.2" width="842.8" height="1.9" fill="#f08a30" fill-opacity="0.046"/><rect x="1036.3" y="412.1" width="842.8" height="1.9" fill="#fff2b0" fill-opacity="0.030"/><rect x="1036.3" y="415.8" width="842.8" height="1.9" fill="#fff2b0" fill-opacity="0.030"/><rect x="1036.3" y="417.7" width="842.8" height="1.9" fill="#fff2b0" fill-opacity="0.056"/><rect x="1036.3" y="421.4" width="842.8" height="1.9" fill="#fff2b0" fill-opacity="0.079"/><rect x="1036.3" y="423.3" width="842.8" height="1.9" fill="#fff2b0" fill-opacity="0.132"/><rect x="1036.3" y="425.2" width="842.8" height="1.9" fill="#fff2b0" fill-opacity="0.046"/><rect x="1036.3" y="428.9" width="842.8" height="1.9" fill="#fff2b0" fill-opacity="0.063"/><rect x="1036.3" y="430.8" width="842.8" height="1.9" fill="#fff2b0" fill-opacity="0.032"/><rect x="1036.3" y="432.7" width="842.8" height="1.9" fill="#fff2b0" fill-opacity="0.063"/><rect x="1036.3" y="434.5" width="842.8" height="1.9" fill="#fff2b0" fill-opacity="0.054"/><rect x="1036.3" y="436.4" width="842.8" height="1.9" fill="#f08a30" fill-opacity="0.069"/><rect x="1036.3" y="440.1" width="842.8" height="1.9" fill="#f08a30" fill-opacity="0.093"/><rect x="1036.3" y="442" width="842.8" height="1.9" fill="#f08a30" fill-opacity="0.053"/><rect x="1036.3" y="445.7" width="842.8" height="1.9" fill="#f08a30" fill-opacity="0.071"/><rect x="1036.3" y="447.6" width="842.8" height="1.9" fill="#f08a30" fill-opacity="0.063"/><rect x="1036.3" y="456.9" width="842.8" height="1.9" fill="#f08a30" fill-opacity="0.035"/><rect x="1036.3" y="458.8" width="842.8" height="1.9" fill="#f08a30" fill-opacity="0.046"/><rect x="1036.3" y="462.5" width="842.8" height="1.9" fill="#f08a30" fill-opacity="0.057"/><rect x="1036.3" y="464.4" width="842.8" height="1.9" fill="#f08a30" fill-opacity="0.051"/><rect x="1036.3" y="468.1" width="842.8" height="1.9" fill="#f08a30" fill-opacity="0.050"/><rect x="1036.3" y="470" width="842.8" height="1.9" fill="#f08a30" fill-opacity="0.050"/><rect x="1036.3" y="471.9" width="842.8" height="1.9" fill="#fff2b0" fill-opacity="0.042"/><rect x="1036.3" y="475.6" width="842.8" height="1.9" fill="#f08a30" fill-opacity="0.140"/><rect x="1036.3" y="477.5" width="842.8" height="1.9" fill="#f08a30" fill-opacity="0.049"/><rect x="1036.3" y="479.4" width="842.8" height="1.9" fill="#fff2b0" fill-opacity="0.112"/><rect x="1036.3" y="481.2" width="842.8" height="1.9" fill="#fff2b0" fill-opacity="0.150"/><rect x="1036.3" y="485" width="842.8" height="1.9" fill="#fff2b0" fill-opacity="0.036"/><rect x="1036.3" y="486.8" width="842.8" height="1.9" fill="#fff2b0" fill-opacity="0.043"/><rect x="1036.3" y="490.6" width="842.8" height="1.9" fill="#f08a30" fill-opacity="0.090"/><rect x="1036.3" y="492.4" width="842.8" height="1.9" fill="#fff2b0" fill-opacity="0.030"/><rect x="1036.3" y="498" width="842.8" height="1.9" fill="#f08a30" fill-opacity="0.106"/><rect x="1036.3" y="499.9" width="842.8" height="1.9" fill="#f08a30" fill-opacity="0.060"/><rect x="1036.3" y="509.2" width="842.8" height="1.9" fill="#fff2b0" fill-opacity="0.047"/><rect x="1036.3" y="513" width="842.8" height="1.9" fill="#f08a30" fill-opacity="0.069"/><rect x="1036.3" y="514.9" width="842.8" height="1.9" fill="#f08a30" fill-opacity="0.046"/><rect x="1036.3" y="520.5" width="842.8" height="1.9" fill="#fff2b0" fill-opacity="0.053"/><rect x="1036.3" y="527.9" width="842.8" height="1.9" fill="#f08a30" fill-opacity="0.045"/><rect x="1036.3" y="529.8" width="842.8" height="1.9" fill="#fff2b0" fill-opacity="0.043"/><rect x="1036.3" y="533.5" width="842.8" height="1.9" fill="#f08a30" fill-opacity="0.055"/><rect x="1036.3" y="535.4" width="842.8" height="1.9" fill="#f08a30" fill-opacity="0.072"/><rect x="1036.3" y="537.3" width="842.8" height="1.9" fill="#f08a30" fill-opacity="0.125"/><rect x="1036.3" y="539.1" width="842.8" height="1.9" fill="#f08a30" fill-opacity="0.083"/><rect x="1036.3" y="541" width="842.8" height="1.9" fill="#fff2b0" fill-opacity="0.053"/><rect x="1036.3" y="550.3" width="842.8" height="1.9" fill="#f08a30" fill-opacity="0.044"/><rect x="1036.3" y="555.9" width="842.8" height="1.9" fill="#fff2b0" fill-opacity="0.050"/><rect x="1036.3" y="557.8" width="842.8" height="1.9" fill="#fff2b0" fill-opacity="0.036"/><rect x="1036.3" y="559.7" width="842.8" height="1.9" fill="#fff2b0" fill-opacity="0.076"/><rect x="1036.3" y="563.4" width="842.8" height="1.9" fill="#f08a30" fill-opacity="0.042"/><rect x="1036.3" y="565.3" width="842.8" height="1.9" fill="#f08a30" fill-opacity="0.087"/><rect x="1036.3" y="574.6" width="842.8" height="1.9" fill="#f08a30" fill-opacity="0.068"/><rect x="1036.3" y="576.5" width="842.8" height="1.9" fill="#f08a30" fill-opacity="0.054"/><rect x="1036.3" y="578.4" width="842.8" height="1.9" fill="#f08a30" fill-opacity="0.037"/><rect x="1036.3" y="582.1" width="842.8" height="1.9" fill="#fff2b0" fill-opacity="0.052"/><rect x="1036.3" y="584" width="842.8" height="1.9" fill="#fff2b0" fill-opacity="0.041"/><rect x="1036.3" y="585.8" width="842.8" height="1.9" fill="#fff2b0" fill-opacity="0.057"/><rect x="1036.3" y="587.7" width="842.8" height="1.9" fill="#fff2b0" fill-opacity="0.057"/><rect x="1036.3" y="591.4" width="842.8" height="1.9" fill="#fff2b0" fill-opacity="0.056"/><rect x="1036.3" y="595.2" width="842.8" height="1.9" fill="#f08a30" fill-opacity="0.085"/><rect x="1036.3" y="597" width="842.8" height="1.9" fill="#f08a30" fill-opacity="0.055"/><rect x="1036.3" y="598.9" width="842.8" height="1.9" fill="#f08a30" fill-opacity="0.035"/><rect x="1036.3" y="600.8" width="842.8" height="1.9" fill="#f08a30" fill-opacity="0.064"/><rect x="1036.3" y="602.7" width="842.8" height="1.9" fill="#fff2b0" fill-opacity="0.090"/><rect x="1036.3" y="608.3" width="842.8" height="1.9" fill="#f08a30" fill-opacity="0.061"/><rect x="1036.3" y="613.9" width="842.8" height="1.9" fill="#f08a30" fill-opacity="0.041"/><rect x="1036.3" y="621.3" width="842.8" height="1.9" fill="#f08a30" fill-opacity="0.062"/><rect x="1036.3" y="626.9" width="842.8" height="1.9" fill="#f08a30" fill-opacity="0.083"/><rect x="1036.3" y="628.8" width="842.8" height="1.9" fill="#f08a30" fill-opacity="0.142"/><rect x="1036.3" y="630.7" width="842.8" height="1.9" fill="#f08a30" fill-opacity="0.046"/><rect x="1036.3" y="634.4" width="842.8" height="1.9" fill="#fff2b0" fill-opacity="0.093"/><rect x="1036.3" y="638.1" width="842.8" height="1.9" fill="#fff2b0" fill-opacity="0.067"/><rect x="1036.3" y="640" width="842.8" height="1.9" fill="#fff2b0" fill-opacity="0.075"/><rect x="1036.3" y="641.9" width="842.8" height="1.9" fill="#fff2b0" fill-opacity="0.031"/><rect x="1036.3" y="647.5" width="842.8" height="1.9" fill="#f08a30" fill-opacity="0.065"/><rect x="1036.3" y="649.4" width="842.8" height="1.9" fill="#fff2b0" fill-opacity="0.045"/><rect x="1036.3" y="653.1" width="842.8" height="1.9" fill="#f08a30" fill-opacity="0.050"/><rect x="1036.3" y="655" width="842.8" height="1.9" fill="#f08a30" fill-opacity="0.047"/><rect x="1036.3" y="656.8" width="842.8" height="1.9" fill="#f08a30" fill-opacity="0.177"/><rect x="1036.3" y="658.7" width="842.8" height="1.9" fill="#f08a30" fill-opacity="0.127"/><rect x="1036.3" y="660.6" width="842.8" height="1.9" fill="#f08a30" fill-opacity="0.107"/><rect x="1036.3" y="662.4" width="842.8" height="1.9" fill="#f08a30" fill-opacity="0.101"/><rect x="1036.3" y="666.2" width="842.8" height="1.9" fill="#fff2b0" fill-opacity="0.078"/><rect x="1036.3" y="688.6" width="842.8" height="1.9" fill="#f08a30" fill-opacity="0.096"/><rect x="1036.3" y="690.5" width="842.8" height="1.9" fill="#f08a30" fill-opacity="0.093"/><rect x="1036.3" y="692.3" width="842.8" height="1.9" fill="#f08a30" fill-opacity="0.040"/><rect x="1036.3" y="696.1" width="842.8" height="1.9" fill="#f08a30" fill-opacity="0.058"/><rect x="1036.3" y="697.9" width="842.8" height="1.9" fill="#fff2b0" fill-opacity="0.054"/><rect x="1036.3" y="699.8" width="842.8" height="1.9" fill="#fff2b0" fill-opacity="0.068"/><rect x="1036.3" y="705.4" width="842.8" height="1.9" fill="#f08a30" fill-opacity="0.112"/><rect x="1036.3" y="707.3" width="842.8" height="1.9" fill="#f08a30" fill-opacity="0.056"/><rect x="1036.3" y="709.1" width="842.8" height="1.9" fill="#f08a30" fill-opacity="0.085"/><rect x="1036.3" y="711" width="842.8" height="1.9" fill="#fff2b0" fill-opacity="0.038"/><rect x="1036.3" y="712.9" width="842.8" height="1.9" fill="#fff2b0" fill-opacity="0.051"/><rect x="1036.3" y="716.6" width="842.8" height="1.9" fill="#f08a30" fill-opacity="0.047"/><rect x="1036.3" y="718.5" width="842.8" height="1.9" fill="#f08a30" fill-opacity="0.072"/><rect x="1036.3" y="725.9" width="842.8" height="1.9" fill="#f08a30" fill-opacity="0.084"/><rect x="1036.3" y="731.6" width="842.8" height="1.9" fill="#f08a30" fill-opacity="0.145"/><rect x="1036.3" y="733.4" width="842.8" height="1.9" fill="#f08a30" fill-opacity="0.116"/><rect x="1036.3" y="735.3" width="842.8" height="1.9" fill="#f08a30" fill-opacity="0.070"/><rect x="1036.3" y="737.2" width="842.8" height="1.9" fill="#f08a30" fill-opacity="0.071"/><rect x="1036.3" y="739" width="842.8" height="1.9" fill="#f08a30" fill-opacity="0.113"/><rect x="1036.3" y="740.9" width="842.8" height="1.9" fill="#f08a30" fill-opacity="0.041"/><rect x="1036.3" y="742.8" width="842.8" height="1.9" fill="#f08a30" fill-opacity="0.073"/><rect x="1036.3" y="744.6" width="842.8" height="1.9" fill="#f08a30" fill-opacity="0.048"/><rect x="1036.3" y="746.5" width="842.8" height="1.9" fill="#f08a30" fill-opacity="0.127"/><rect x="1036.3" y="748.4" width="842.8" height="1.9" fill="#f08a30" fill-opacity="0.089"/><rect x="1036.3" y="752.1" width="842.8" height="1.9" fill="#f08a30" fill-opacity="0.097"/><rect x="1036.3" y="755.8" width="842.8" height="1.9" fill="#fff2b0" fill-opacity="0.069"/><rect x="1036.3" y="757.7" width="842.8" height="1.9" fill="#fff2b0" fill-opacity="0.033"/><rect x="1036.3" y="759.6" width="842.8" height="1.9" fill="#f08a30" fill-opacity="0.047"/><rect x="1036.3" y="761.4" width="842.8" height="1.9" fill="#fff2b0" fill-opacity="0.079"/><rect x="1036.3" y="765.2" width="842.8" height="1.9" fill="#fff2b0" fill-opacity="0.041"/><rect x="1036.3" y="767" width="842.8" height="1.9" fill="#fff2b0" fill-opacity="0.045"/><rect x="1036.3" y="772.6" width="842.8" height="1.9" fill="#f08a30" fill-opacity="0.156"/><rect x="1036.3" y="774.5" width="842.8" height="1.9" fill="#f08a30" fill-opacity="0.035"/><rect x="1036.3" y="782" width="842.8" height="1.9" fill="#fff2b0" fill-opacity="0.054"/><rect x="1036.3" y="783.9" width="842.8" height="1.9" fill="#fff2b0" fill-opacity="0.042"/><rect x="1036.3" y="787.6" width="842.8" height="1.9" fill="#fff2b0" fill-opacity="0.036"/><rect x="1036.3" y="789.5" width="842.8" height="1.9" fill="#fff2b0" fill-opacity="0.057"/><rect x="1036.3" y="795.1" width="842.8" height="1.9" fill="#f08a30" fill-opacity="0.162"/><rect x="1036.3" y="796.9" width="842.8" height="1.9" fill="#f08a30" fill-opacity="0.123"/><rect x="1036.3" y="800.7" width="842.8" height="1.9" fill="#f08a30" fill-opacity="0.079"/><rect x="1036.3" y="802.5" width="842.8" height="1.9" fill="#fff2b0" fill-opacity="0.029"/><rect x="1036.3" y="804.4" width="842.8" height="1.9" fill="#fff2b0" fill-opacity="0.046"/><rect x="1036.3" y="806.3" width="842.8" height="1.9" fill="#f08a30" fill-opacity="0.065"/><rect x="1036.3" y="808.1" width="842.8" height="1.9" fill="#f08a30" fill-opacity="0.090"/><rect x="1036.3" y="813.7" width="842.8" height="1.9" fill="#fff2b0" fill-opacity="0.031"/><rect x="1036.3" y="819.4" width="842.8" height="1.9" fill="#f08a30" fill-opacity="0.062"/><rect x="1036.3" y="823.1" width="842.8" height="1.9" fill="#f08a30" fill-opacity="0.038"/><rect x="1036.3" y="825" width="842.8" height="1.9" fill="#fff2b0" fill-opacity="0.039"/><rect x="1036.3" y="828.7" width="842.8" height="1.9" fill="#f08a30" fill-opacity="0.090"/><rect x="1036.3" y="832.4" width="842.8" height="1.9" fill="#f08a30" fill-opacity="0.056"/><rect x="1036.3" y="836.2" width="842.8" height="1.9" fill="#f08a30" fill-opacity="0.042"/><rect x="1036.3" y="838" width="842.8" height="1.9" fill="#fff2b0" fill-opacity="0.054"/><rect x="1036.3" y="55.3" width="842.8" height="11.5" fill="#fff2b8" fill-opacity="0.056"/><rect x="1036.3" y="66.8" width="842.8" height="8.8" fill="#fff2b8" fill-opacity="0.056"/><rect x="1036.3" y="75.6" width="842.8" height="20.6" fill="#f2872c" fill-opacity="0.041"/><rect x="1036.3" y="96.2" width="842.8" height="22" fill="#fff2b8" fill-opacity="0.049"/><rect x="1036.3" y="118.2" width="842.8" height="25.1" fill="#fff2b8" fill-opacity="0.049"/><rect x="1036.3" y="143.4" width="842.8" height="10.9" fill="#fff2b8" fill-opacity="0.039"/><rect x="1036.3" y="154.3" width="842.8" height="17.6" fill="#f2872c" fill-opacity="0.073"/><rect x="1036.3" y="171.9" width="842.8" height="19.4" fill="#fff2b8" fill-opacity="0.049"/><rect x="1036.3" y="191.3" width="842.8" height="15.5" fill="#fff2b8" fill-opacity="0.052"/><rect x="1036.3" y="206.7" width="842.8" height="15.5" fill="#f2872c" fill-opacity="0.050"/><rect x="1036.3" y="222.2" width="842.8" height="8.6" fill="#fff2b8" fill-opacity="0.040"/><rect x="1036.3" y="230.8" width="842.8" height="9.8" fill="#f2872c" fill-opacity="0.056"/><rect x="1036.3" y="240.6" width="842.8" height="24.8" fill="#fff2b8" fill-opacity="0.053"/><rect x="1036.3" y="265.4" width="842.8" height="23.4" fill="#f2872c" fill-opacity="0.048"/><rect x="1036.3" y="288.7" width="842.8" height="19.2" fill="#fff2b8" fill-opacity="0.037"/><rect x="1036.3" y="307.9" width="842.8" height="15.9" fill="#fff2b8" fill-opacity="0.057"/><rect x="1036.3" y="323.8" width="842.8" height="10" fill="#f2872c" fill-opacity="0.061"/><rect x="1036.3" y="333.8" width="842.8" height="12.9" fill="#fff2b8" fill-opacity="0.058"/><rect x="1036.3" y="346.7" width="842.8" height="20.5" fill="#fff2b8" fill-opacity="0.059"/><rect x="1036.3" y="367.3" width="842.8" height="11" fill="#fff2b8" fill-opacity="0.052"/><rect x="1036.3" y="378.3" width="842.8" height="21.3" fill="#f2872c" fill-opacity="0.050"/><rect x="1036.3" y="399.6" width="842.8" height="18.8" fill="#fff2b8" fill-opacity="0.055"/><rect x="1036.3" y="418.4" width="842.8" height="15" fill="#f2872c" fill-opacity="0.049"/><rect x="1036.3" y="433.4" width="842.8" height="10.4" fill="#fff2b8" fill-opacity="0.032"/><rect x="1036.3" y="443.8" width="842.8" height="10.4" fill="#f2872c" fill-opacity="0.054"/><rect x="1036.3" y="454.3" width="842.8" height="14.7" fill="#f2872c" fill-opacity="0.041"/><rect x="1036.3" y="468.9" width="842.8" height="14.3" fill="#fff2b8" fill-opacity="0.047"/><rect x="1036.3" y="483.2" width="842.8" height="16.4" fill="#f2872c" fill-opacity="0.065"/><rect x="1036.3" y="499.6" width="842.8" height="23.4" fill="#fff2b8" fill-opacity="0.053"/><rect x="1036.3" y="523.1" width="842.8" height="21.6" fill="#fff2b8" fill-opacity="0.038"/><rect x="1036.3" y="544.6" width="842.8" height="22" fill="#f2872c" fill-opacity="0.067"/><rect x="1036.3" y="566.7" width="842.8" height="23.3" fill="#fff2b8" fill-opacity="0.055"/><rect x="1036.3" y="590" width="842.8" height="19.7" fill="#f2872c" fill-opacity="0.039"/><rect x="1036.3" y="609.7" width="842.8" height="21.2" fill="#fff2b8" fill-opacity="0.057"/><rect x="1036.3" y="630.9" width="842.8" height="16.1" fill="#fff2b8" fill-opacity="0.037"/><rect x="1036.3" y="647.1" width="842.8" height="20" fill="#fff2b8" fill-opacity="0.036"/><rect x="1036.3" y="667.1" width="842.8" height="23.9" fill="#f2872c" fill-opacity="0.059"/><rect x="1036.3" y="691" width="842.8" height="25.9" fill="#fff2b8" fill-opacity="0.048"/><rect x="1036.3" y="716.9" width="842.8" height="22.6" fill="#f2872c" fill-opacity="0.047"/><rect x="1036.3" y="739.5" width="842.8" height="11.4" fill="#fff2b8" fill-opacity="0.048"/><rect x="1036.3" y="750.9" width="842.8" height="22.4" fill="#f2872c" fill-opacity="0.042"/><rect x="1036.3" y="773.3" width="842.8" height="15.2" fill="#fff2b8" fill-opacity="0.030"/><rect x="1036.3" y="788.5" width="842.8" height="25.4" fill="#f2872c" fill-opacity="0.070"/><rect x="1036.3" y="813.9" width="842.8" height="23.1" fill="#fff2b8" fill-opacity="0.037"/><rect x="1036.3" y="837" width="842.8" height="2.9" fill="#f2872c" fill-opacity="0.049"/><rect x="1036.3" y="380.2" width="842.8" height="1.9" fill="#fff8e6" fill-opacity="0.720"/><rect x="1036.3" y="484.6" width="842.8" height="1.9" fill="#fff0b0" fill-opacity="0.300"/><rect x="1036.3" y="301.3" width="842.8" height="1.9" fill="#fff0b0" fill-opacity="0.420"/><rect x="1036.3" y="212.8" width="842.8" height="1.9" fill="#fff0b0" fill-opacity="0.360"/><rect x="1036.3" y="648" width="842.8" height="7.4" fill="#fff0b0" fill-opacity="0.360"/><rect x="1036.3" y="89.9" width="842.8" height="2.8" fill="#fff0b0" fill-opacity="0.240"/><rect x="1036.3" y="126.7" width="842.8" height="1.4" fill="#e8702a" fill-opacity="0.120"/><rect x="1036.3" y="447.9" width="842.8" height="2.8" fill="#fff0b0" fill-opacity="0.240"/><rect x="1036.3" y="736.9" width="842.8" height="3.7" fill="#fff0b0" fill-opacity="0.240"/><rect x="1036.3" y="819.3" width="842.8" height="16.8" fill="#fff0b0" fill-opacity="0.180"/><rect x="1036.3" y="83.6" width="842.8" height="4.7" fill="#fff0b0" fill-opacity="0.300"/></g>
<rect x="1037" y="484.6" width="350" height="1.8" fill="#fff8ea" fill-opacity="0.8"/>
<rect x="1106" y="55.3" width="1.4" height="784.6" fill="#fff3c4" fill-opacity="0.33"/>
<rect x="1036.3" y="116.8" width="842.8" height="1.4" fill="#fff3c4" fill-opacity="0.33"/>
<rect x="1113.5" y="55.3" width="1.4" height="784.6" fill="#fff3c4" fill-opacity="0.33"/>
<rect x="1036.3" y="124.2" width="842.8" height="1.4" fill="#fff3c4" fill-opacity="0.33"/>
<rect x="1206.2" y="55.3" width="1.4" height="784.6" fill="#fff3c4" fill-opacity="0.33"/>
<rect x="1036.3" y="213.4" width="842.8" height="1.4" fill="#fff3c4" fill-opacity="0.33"/>
<rect x="1213.8" y="55.3" width="1.4" height="784.6" fill="#fff3c4" fill-opacity="0.33"/>
<rect x="1036.3" y="220.9" width="842.8" height="1.4" fill="#fff3c4" fill-opacity="0.33"/>
<rect x="1297.2" y="55.3" width="1.4" height="784.6" fill="#fff3c4" fill-opacity="0.33"/>
<rect x="1036.3" y="295.9" width="842.8" height="1.4" fill="#fff3c4" fill-opacity="0.33"/>
<rect x="1304.7" y="55.3" width="1.4" height="784.6" fill="#fff3c4" fill-opacity="0.33"/>
<rect x="1036.3" y="303.4" width="842.8" height="1.4" fill="#fff3c4" fill-opacity="0.33"/>
<rect x="1384" y="55.3" width="1.4" height="784.6" fill="#fff3c4" fill-opacity="0.33"/>
<rect x="1036.3" y="376.8" width="842.8" height="1.4" fill="#fff3c4" fill-opacity="0.33"/>
<rect x="1391.5" y="55.3" width="1.4" height="784.6" fill="#fff3c4" fill-opacity="0.33"/>
<rect x="1036.3" y="384.2" width="842.8" height="1.4" fill="#fff3c4" fill-opacity="0.33"/>
<rect x="1494.4" y="55.3" width="1.4" height="784.6" fill="#fff3c4" fill-opacity="0.33"/>
<rect x="1036.3" y="481.2" width="842.8" height="1.4" fill="#fff3c4" fill-opacity="0.33"/>
<rect x="1501.9" y="55.3" width="1.4" height="784.6" fill="#fff3c4" fill-opacity="0.33"/>
<rect x="1036.3" y="488.8" width="842.8" height="1.4" fill="#fff3c4" fill-opacity="0.33"/>
<rect x="1592.8" y="55.3" width="1.4" height="784.6" fill="#fff3c4" fill-opacity="0.33"/>
<rect x="1036.3" y="568" width="842.8" height="1.4" fill="#fff3c4" fill-opacity="0.33"/>
<rect x="1600.2" y="55.3" width="1.4" height="784.6" fill="#fff3c4" fill-opacity="0.33"/>
<rect x="1036.3" y="575.5" width="842.8" height="1.4" fill="#fff3c4" fill-opacity="0.33"/>
<rect x="1668" y="55.3" width="1.4" height="784.6" fill="#fff3c4" fill-opacity="0.33"/>
<rect x="1036.3" y="643.2" width="842.8" height="1.4" fill="#fff3c4" fill-opacity="0.33"/>
<rect x="1675.5" y="55.3" width="1.4" height="784.6" fill="#fff3c4" fill-opacity="0.33"/>
<rect x="1036.3" y="650.7" width="842.8" height="1.4" fill="#fff3c4" fill-opacity="0.33"/>
<rect x="1759" y="55.3" width="1.4" height="784.6" fill="#fff3c4" fill-opacity="0.33"/>
<rect x="1036.3" y="725.5" width="842.8" height="1.4" fill="#fff3c4" fill-opacity="0.33"/>
<rect x="1766.5" y="55.3" width="1.4" height="784.6" fill="#fff3c4" fill-opacity="0.33"/>
<rect x="1036.3" y="733" width="842.8" height="1.4" fill="#fff3c4" fill-opacity="0.33"/>
<rect x="1853.7" y="55.3" width="1.4" height="784.6" fill="#fff3c4" fill-opacity="0.33"/>
<rect x="1036.3" y="812.4" width="842.8" height="1.4" fill="#fff3c4" fill-opacity="0.33"/>
<rect x="1861.2" y="55.3" width="1.4" height="784.6" fill="#fff3c4" fill-opacity="0.33"/>
<rect x="1036.3" y="819.9" width="842.8" height="1.4" fill="#fff3c4" fill-opacity="0.33"/>
<g clip-path="url(#kR)">
<rect x="1039.6" y="53.4" width="71" height="70.6" fill="#f56e24" fill-opacity="0.10"/>
<rect x="1110.6" y="121.3" width="100.2" height="95.4" fill="#f56e24" fill-opacity="0.10"/>
<rect x="1210.8" y="218" width="90.9" height="82.5" fill="#f56e24" fill-opacity="0.10"/>
<rect x="1301.7" y="300.5" width="86.9" height="80.8" fill="#f56e24" fill-opacity="0.10"/>
<rect x="1388.6" y="381.3" width="110.3" height="104.5" fill="#f56e24" fill-opacity="0.10"/>
<rect x="1498.9" y="485.8" width="94.3" height="86.7" fill="#f56e24" fill-opacity="0.10"/>
<rect x="1597.3" y="572.5" width="75.2" height="75.2" fill="#f56e24" fill-opacity="0.10"/>
<rect x="1672.5" y="647.7" width="91.1" height="82.3" fill="#f56e24" fill-opacity="0.10"/>
<rect x="1763.6" y="730" width="88.3" height="85.9" fill="#f56e24" fill-opacity="0.10"/>
<rect x="1858.2" y="816.9" width="18.6" height="20.4" fill="#f56e24" fill-opacity="0.10"/>
<path d="M1039.6 53.4 L1110.6 121.3 L1210.8 218 L1301.7 300.5 L1388.6 381.3 L1498.9 485.8 L1597.3 572.5 L1672.5 647.7 L1763.6 730 L1858.2 816.9 L1876.8 837.3" stroke="#f0601f" stroke-opacity="0.10" stroke-width="44" fill="none" filter="url(#blur8)"/>
<path d="M1039.6 53.4 L1110.6 121.3 L1210.8 218 L1301.7 300.5 L1388.6 381.3 L1498.9 485.8 L1597.3 572.5 L1672.5 647.7 L1763.6 730 L1858.2 816.9 L1876.8 837.3" stroke="#f0601f" stroke-opacity="0.14" stroke-width="14" fill="none" filter="url(#blur3)"/>
<g filter="url(#blur1)"><rect x="1249.5" y="253" width="35" height="32" fill="#ee4a1c" fill-opacity="0.203"/><rect x="1255.3" y="253" width="5.8" height="5.3" fill="#e8401a" fill-opacity="0.107"/><rect x="1267" y="253" width="5.8" height="5.3" fill="#e8401a" fill-opacity="0.369"/><rect x="1278.7" y="253" width="5.8" height="5.3" fill="#e8401a" fill-opacity="0.219"/><rect x="1249.5" y="258.3" width="5.8" height="5.3" fill="#e8401a" fill-opacity="0.129"/><rect x="1255.3" y="258.3" width="5.8" height="5.3" fill="#e8401a" fill-opacity="0.438"/><rect x="1267" y="258.3" width="5.8" height="5.3" fill="#e8401a" fill-opacity="0.150"/><rect x="1272.8" y="258.3" width="5.8" height="5.3" fill="#e8401a" fill-opacity="0.299"/><rect x="1249.5" y="263.7" width="5.8" height="5.3" fill="#e8401a" fill-opacity="0.167"/><rect x="1255.3" y="263.7" width="5.8" height="5.3" fill="#e8401a" fill-opacity="0.198"/><rect x="1261.2" y="263.7" width="5.8" height="5.3" fill="#e8401a" fill-opacity="0.294"/><rect x="1267" y="263.7" width="5.8" height="5.3" fill="#e8401a" fill-opacity="0.382"/><rect x="1278.7" y="263.7" width="5.8" height="5.3" fill="#e8401a" fill-opacity="0.351"/><rect x="1249.5" y="269" width="5.8" height="5.3" fill="#e8401a" fill-opacity="0.109"/><rect x="1255.3" y="269" width="5.8" height="5.3" fill="#e8401a" fill-opacity="0.313"/><rect x="1261.2" y="269" width="5.8" height="5.3" fill="#e8401a" fill-opacity="0.081"/><rect x="1272.8" y="269" width="5.8" height="5.3" fill="#e8401a" fill-opacity="0.118"/><rect x="1249.5" y="274.3" width="5.8" height="5.3" fill="#e8401a" fill-opacity="0.100"/><rect x="1267" y="274.3" width="5.8" height="5.3" fill="#e8401a" fill-opacity="0.518"/><rect x="1272.8" y="274.3" width="5.8" height="5.3" fill="#e8401a" fill-opacity="0.321"/><rect x="1278.7" y="274.3" width="5.8" height="5.3" fill="#e8401a" fill-opacity="0.302"/><rect x="1249.5" y="279.7" width="5.8" height="5.3" fill="#e8401a" fill-opacity="0.206"/><rect x="1255.3" y="279.7" width="5.8" height="5.3" fill="#e8401a" fill-opacity="0.328"/><rect x="1272.8" y="279.7" width="5.8" height="5.3" fill="#e8401a" fill-opacity="0.405"/><rect x="1315" y="310" width="46" height="46" fill="#ee4a1c" fill-opacity="0.090"/><rect x="1315" y="310" width="7.7" height="7.7" fill="#e8401a" fill-opacity="0.137"/><rect x="1322.7" y="310" width="7.7" height="7.7" fill="#e8401a" fill-opacity="0.169"/><rect x="1330.3" y="310" width="7.7" height="7.7" fill="#e8401a" fill-opacity="0.153"/><rect x="1315" y="317.7" width="7.7" height="7.7" fill="#e8401a" fill-opacity="0.157"/><rect x="1330.3" y="317.7" width="7.7" height="7.7" fill="#e8401a" fill-opacity="0.204"/><rect x="1338" y="317.7" width="7.7" height="7.7" fill="#e8401a" fill-opacity="0.172"/><rect x="1345.7" y="317.7" width="7.7" height="7.7" fill="#e8401a" fill-opacity="0.099"/><rect x="1353.3" y="317.7" width="7.7" height="7.7" fill="#e8401a" fill-opacity="0.120"/><rect x="1315" y="325.3" width="7.7" height="7.7" fill="#e8401a" fill-opacity="0.150"/><rect x="1322.7" y="325.3" width="7.7" height="7.7" fill="#e8401a" fill-opacity="0.228"/><rect x="1330.3" y="325.3" width="7.7" height="7.7" fill="#e8401a" fill-opacity="0.221"/><rect x="1338" y="325.3" width="7.7" height="7.7" fill="#e8401a" fill-opacity="0.132"/><rect x="1353.3" y="325.3" width="7.7" height="7.7" fill="#e8401a" fill-opacity="0.143"/><rect x="1315" y="333" width="7.7" height="7.7" fill="#e8401a" fill-opacity="0.152"/><rect x="1322.7" y="333" width="7.7" height="7.7" fill="#e8401a" fill-opacity="0.126"/><rect x="1330.3" y="333" width="7.7" height="7.7" fill="#e8401a" fill-opacity="0.085"/><rect x="1338" y="333" width="7.7" height="7.7" fill="#e8401a" fill-opacity="0.263"/><rect x="1345.7" y="333" width="7.7" height="7.7" fill="#e8401a" fill-opacity="0.168"/><rect x="1315" y="340.7" width="7.7" height="7.7" fill="#e8401a" fill-opacity="0.142"/><rect x="1338" y="340.7" width="7.7" height="7.7" fill="#e8401a" fill-opacity="0.244"/><rect x="1353.3" y="340.7" width="7.7" height="7.7" fill="#e8401a" fill-opacity="0.235"/><rect x="1322.7" y="348.3" width="7.7" height="7.7" fill="#e8401a" fill-opacity="0.103"/><rect x="1330.3" y="348.3" width="7.7" height="7.7" fill="#e8401a" fill-opacity="0.124"/><rect x="1338" y="348.3" width="7.7" height="7.7" fill="#e8401a" fill-opacity="0.162"/><rect x="1411.5" y="405.5" width="53" height="49" fill="#ee4a1c" fill-opacity="0.135"/><rect x="1411.5" y="405.5" width="8.8" height="8.2" fill="#e8401a" fill-opacity="0.207"/><rect x="1420.3" y="405.5" width="8.8" height="8.2" fill="#e8401a" fill-opacity="0.091"/><rect x="1429.2" y="405.5" width="8.8" height="8.2" fill="#e8401a" fill-opacity="0.115"/><rect x="1455.7" y="405.5" width="8.8" height="8.2" fill="#e8401a" fill-opacity="0.153"/><rect x="1420.3" y="413.7" width="8.8" height="8.2" fill="#e8401a" fill-opacity="0.108"/><rect x="1429.2" y="413.7" width="8.8" height="8.2" fill="#e8401a" fill-opacity="0.157"/><rect x="1446.8" y="413.7" width="8.8" height="8.2" fill="#e8401a" fill-opacity="0.218"/><rect x="1455.7" y="413.7" width="8.8" height="8.2" fill="#e8401a" fill-opacity="0.243"/><rect x="1420.3" y="421.8" width="8.8" height="8.2" fill="#e8401a" fill-opacity="0.327"/><rect x="1438" y="421.8" width="8.8" height="8.2" fill="#e8401a" fill-opacity="0.295"/><rect x="1455.7" y="421.8" width="8.8" height="8.2" fill="#e8401a" fill-opacity="0.201"/><rect x="1411.5" y="430" width="8.8" height="8.2" fill="#e8401a" fill-opacity="0.252"/><rect x="1438" y="430" width="8.8" height="8.2" fill="#e8401a" fill-opacity="0.138"/><rect x="1446.8" y="430" width="8.8" height="8.2" fill="#e8401a" fill-opacity="0.348"/><rect x="1455.7" y="430" width="8.8" height="8.2" fill="#e8401a" fill-opacity="0.211"/><rect x="1420.3" y="438.2" width="8.8" height="8.2" fill="#e8401a" fill-opacity="0.243"/><rect x="1429.2" y="438.2" width="8.8" height="8.2" fill="#e8401a" fill-opacity="0.200"/><rect x="1438" y="438.2" width="8.8" height="8.2" fill="#e8401a" fill-opacity="0.388"/><rect x="1446.8" y="438.2" width="8.8" height="8.2" fill="#e8401a" fill-opacity="0.394"/><rect x="1411.5" y="446.3" width="8.8" height="8.2" fill="#e8401a" fill-opacity="0.196"/><rect x="1438" y="446.3" width="8.8" height="8.2" fill="#e8401a" fill-opacity="0.145"/><rect x="1446.8" y="446.3" width="8.8" height="8.2" fill="#e8401a" fill-opacity="0.094"/><rect x="1455.7" y="446.3" width="8.8" height="8.2" fill="#e8401a" fill-opacity="0.088"/><rect x="1523.5" y="510.5" width="41" height="39" fill="#ee4a1c" fill-opacity="0.180"/><rect x="1523.5" y="510.5" width="6.8" height="6.5" fill="#e8401a" fill-opacity="0.193"/><rect x="1530.3" y="510.5" width="6.8" height="6.5" fill="#e8401a" fill-opacity="0.248"/><rect x="1537.2" y="510.5" width="6.8" height="6.5" fill="#e8401a" fill-opacity="0.330"/><rect x="1544" y="510.5" width="6.8" height="6.5" fill="#e8401a" fill-opacity="0.209"/><rect x="1550.8" y="510.5" width="6.8" height="6.5" fill="#e8401a" fill-opacity="0.200"/><rect x="1557.7" y="510.5" width="6.8" height="6.5" fill="#e8401a" fill-opacity="0.259"/><rect x="1523.5" y="517" width="6.8" height="6.5" fill="#e8401a" fill-opacity="0.102"/><rect x="1530.3" y="517" width="6.8" height="6.5" fill="#e8401a" fill-opacity="0.434"/><rect x="1537.2" y="517" width="6.8" height="6.5" fill="#e8401a" fill-opacity="0.412"/><rect x="1544" y="517" width="6.8" height="6.5" fill="#e8401a" fill-opacity="0.293"/><rect x="1550.8" y="517" width="6.8" height="6.5" fill="#e8401a" fill-opacity="0.162"/><rect x="1557.7" y="517" width="6.8" height="6.5" fill="#e8401a" fill-opacity="0.195"/><rect x="1530.3" y="523.5" width="6.8" height="6.5" fill="#e8401a" fill-opacity="0.248"/><rect x="1537.2" y="523.5" width="6.8" height="6.5" fill="#e8401a" fill-opacity="0.348"/><rect x="1544" y="523.5" width="6.8" height="6.5" fill="#e8401a" fill-opacity="0.513"/><rect x="1550.8" y="523.5" width="6.8" height="6.5" fill="#e8401a" fill-opacity="0.323"/><rect x="1557.7" y="523.5" width="6.8" height="6.5" fill="#e8401a" fill-opacity="0.122"/><rect x="1523.5" y="530" width="6.8" height="6.5" fill="#e8401a" fill-opacity="0.272"/><rect x="1530.3" y="530" width="6.8" height="6.5" fill="#e8401a" fill-opacity="0.308"/><rect x="1537.2" y="530" width="6.8" height="6.5" fill="#e8401a" fill-opacity="0.519"/><rect x="1544" y="530" width="6.8" height="6.5" fill="#e8401a" fill-opacity="0.367"/><rect x="1550.8" y="530" width="6.8" height="6.5" fill="#e8401a" fill-opacity="0.178"/><rect x="1557.7" y="530" width="6.8" height="6.5" fill="#e8401a" fill-opacity="0.314"/><rect x="1530.3" y="536.5" width="6.8" height="6.5" fill="#e8401a" fill-opacity="0.204"/><rect x="1537.2" y="536.5" width="6.8" height="6.5" fill="#e8401a" fill-opacity="0.165"/><rect x="1544" y="536.5" width="6.8" height="6.5" fill="#e8401a" fill-opacity="0.477"/><rect x="1550.8" y="536.5" width="6.8" height="6.5" fill="#e8401a" fill-opacity="0.335"/><rect x="1557.7" y="536.5" width="6.8" height="6.5" fill="#e8401a" fill-opacity="0.108"/><rect x="1537.2" y="543" width="6.8" height="6.5" fill="#e8401a" fill-opacity="0.271"/><rect x="1544" y="543" width="6.8" height="6.5" fill="#e8401a" fill-opacity="0.282"/><rect x="1550.8" y="543" width="6.8" height="6.5" fill="#e8401a" fill-opacity="0.202"/><rect x="1557.7" y="543" width="6.8" height="6.5" fill="#e8401a" fill-opacity="0.121"/><rect x="1675.5" y="651" width="61" height="54" fill="#ee4a1c" fill-opacity="0.090"/><rect x="1675.5" y="651" width="10.2" height="9" fill="#e8401a" fill-opacity="0.151"/><rect x="1695.8" y="651" width="10.2" height="9" fill="#e8401a" fill-opacity="0.095"/><rect x="1726.3" y="651" width="10.2" height="9" fill="#e8401a" fill-opacity="0.124"/><rect x="1685.7" y="660" width="10.2" height="9" fill="#e8401a" fill-opacity="0.089"/><rect x="1695.8" y="660" width="10.2" height="9" fill="#e8401a" fill-opacity="0.152"/><rect x="1706" y="660" width="10.2" height="9" fill="#e8401a" fill-opacity="0.170"/><rect x="1685.7" y="669" width="10.2" height="9" fill="#e8401a" fill-opacity="0.085"/><rect x="1695.8" y="669" width="10.2" height="9" fill="#e8401a" fill-opacity="0.132"/><rect x="1706" y="669" width="10.2" height="9" fill="#e8401a" fill-opacity="0.221"/><rect x="1726.3" y="669" width="10.2" height="9" fill="#e8401a" fill-opacity="0.129"/><rect x="1685.7" y="678" width="10.2" height="9" fill="#e8401a" fill-opacity="0.103"/><rect x="1695.8" y="678" width="10.2" height="9" fill="#e8401a" fill-opacity="0.136"/><rect x="1706" y="678" width="10.2" height="9" fill="#e8401a" fill-opacity="0.163"/><rect x="1726.3" y="678" width="10.2" height="9" fill="#e8401a" fill-opacity="0.111"/><rect x="1685.7" y="687" width="10.2" height="9" fill="#e8401a" fill-opacity="0.141"/><rect x="1695.8" y="687" width="10.2" height="9" fill="#e8401a" fill-opacity="0.107"/><rect x="1706" y="687" width="10.2" height="9" fill="#e8401a" fill-opacity="0.110"/><rect x="1716.2" y="687" width="10.2" height="9" fill="#e8401a" fill-opacity="0.267"/><rect x="1695.8" y="696" width="10.2" height="9" fill="#e8401a" fill-opacity="0.124"/><rect x="1716.2" y="696" width="10.2" height="9" fill="#e8401a" fill-opacity="0.199"/><rect x="1807" y="772" width="34" height="34" fill="#ee4a1c" fill-opacity="0.270"/><rect x="1807" y="772" width="5.7" height="5.7" fill="#e8401a" fill-opacity="0.241"/><rect x="1812.7" y="772" width="5.7" height="5.7" fill="#e8401a" fill-opacity="0.504"/><rect x="1824" y="772" width="5.7" height="5.7" fill="#e8401a" fill-opacity="0.234"/><rect x="1829.7" y="772" width="5.7" height="5.7" fill="#e8401a" fill-opacity="0.540"/><rect x="1835.3" y="772" width="5.7" height="5.7" fill="#e8401a" fill-opacity="0.393"/><rect x="1807" y="777.7" width="5.7" height="5.7" fill="#e8401a" fill-opacity="0.315"/><rect x="1812.7" y="777.7" width="5.7" height="5.7" fill="#e8401a" fill-opacity="0.736"/><rect x="1818.3" y="777.7" width="5.7" height="5.7" fill="#e8401a" fill-opacity="0.461"/><rect x="1824" y="777.7" width="5.7" height="5.7" fill="#e8401a" fill-opacity="0.438"/><rect x="1829.7" y="777.7" width="5.7" height="5.7" fill="#e8401a" fill-opacity="0.186"/><rect x="1835.3" y="777.7" width="5.7" height="5.7" fill="#e8401a" fill-opacity="0.206"/><rect x="1807" y="783.3" width="5.7" height="5.7" fill="#e8401a" fill-opacity="0.378"/><rect x="1812.7" y="783.3" width="5.7" height="5.7" fill="#e8401a" fill-opacity="0.616"/><rect x="1818.3" y="783.3" width="5.7" height="5.7" fill="#e8401a" fill-opacity="0.561"/><rect x="1824" y="783.3" width="5.7" height="5.7" fill="#e8401a" fill-opacity="0.122"/><rect x="1829.7" y="783.3" width="5.7" height="5.7" fill="#e8401a" fill-opacity="0.228"/><rect x="1835.3" y="783.3" width="5.7" height="5.7" fill="#e8401a" fill-opacity="0.172"/><rect x="1807" y="789" width="5.7" height="5.7" fill="#e8401a" fill-opacity="0.125"/><rect x="1818.3" y="789" width="5.7" height="5.7" fill="#e8401a" fill-opacity="0.606"/><rect x="1824" y="789" width="5.7" height="5.7" fill="#e8401a" fill-opacity="0.115"/><rect x="1829.7" y="789" width="5.7" height="5.7" fill="#e8401a" fill-opacity="0.287"/><rect x="1807" y="794.7" width="5.7" height="5.7" fill="#e8401a" fill-opacity="0.381"/><rect x="1812.7" y="794.7" width="5.7" height="5.7" fill="#e8401a" fill-opacity="0.338"/><rect x="1824" y="794.7" width="5.7" height="5.7" fill="#e8401a" fill-opacity="0.770"/><rect x="1829.7" y="794.7" width="5.7" height="5.7" fill="#e8401a" fill-opacity="0.800"/><rect x="1835.3" y="794.7" width="5.7" height="5.7" fill="#e8401a" fill-opacity="0.608"/><rect x="1807" y="800.3" width="5.7" height="5.7" fill="#e8401a" fill-opacity="0.435"/><rect x="1812.7" y="800.3" width="5.7" height="5.7" fill="#e8401a" fill-opacity="0.380"/><rect x="1824" y="800.3" width="5.7" height="5.7" fill="#e8401a" fill-opacity="0.147"/><rect x="1829.7" y="800.3" width="5.7" height="5.7" fill="#e8401a" fill-opacity="0.192"/><rect x="1115" y="128" width="60" height="60" fill="#ee4a1c" fill-opacity="0.068"/><rect x="1115" y="128" width="10" height="10" fill="#e8401a" fill-opacity="0.129"/><rect x="1125" y="128" width="10" height="10" fill="#e8401a" fill-opacity="0.120"/><rect x="1145" y="128" width="10" height="10" fill="#e8401a" fill-opacity="0.101"/><rect x="1135" y="138" width="10" height="10" fill="#e8401a" fill-opacity="0.172"/><rect x="1155" y="138" width="10" height="10" fill="#e8401a" fill-opacity="0.099"/><rect x="1165" y="138" width="10" height="10" fill="#e8401a" fill-opacity="0.117"/><rect x="1115" y="148" width="10" height="10" fill="#e8401a" fill-opacity="0.090"/><rect x="1135" y="148" width="10" height="10" fill="#e8401a" fill-opacity="0.196"/><rect x="1165" y="148" width="10" height="10" fill="#e8401a" fill-opacity="0.119"/><rect x="1115" y="158" width="10" height="10" fill="#e8401a" fill-opacity="0.092"/><rect x="1135" y="158" width="10" height="10" fill="#e8401a" fill-opacity="0.168"/><rect x="1145" y="158" width="10" height="10" fill="#e8401a" fill-opacity="0.153"/><rect x="1155" y="158" width="10" height="10" fill="#e8401a" fill-opacity="0.146"/><rect x="1115" y="168" width="10" height="10" fill="#e8401a" fill-opacity="0.092"/><rect x="1125" y="168" width="10" height="10" fill="#e8401a" fill-opacity="0.089"/><rect x="1135" y="168" width="10" height="10" fill="#e8401a" fill-opacity="0.113"/><rect x="1145" y="168" width="10" height="10" fill="#e8401a" fill-opacity="0.104"/><rect x="1155" y="168" width="10" height="10" fill="#e8401a" fill-opacity="0.188"/><rect x="1165" y="168" width="10" height="10" fill="#e8401a" fill-opacity="0.146"/><rect x="1145" y="178" width="10" height="10" fill="#e8401a" fill-opacity="0.083"/><rect x="1165" y="178" width="10" height="10" fill="#e8401a" fill-opacity="0.202"/><rect x="1860" y="819" width="14" height="14" fill="#ee4a1c" fill-opacity="0.135"/><rect x="1860" y="819" width="2.3" height="2.3" fill="#e8401a" fill-opacity="0.139"/><rect x="1862.3" y="819" width="2.3" height="2.3" fill="#e8401a" fill-opacity="0.320"/><rect x="1864.7" y="819" width="2.3" height="2.3" fill="#e8401a" fill-opacity="0.226"/><rect x="1867" y="819" width="2.3" height="2.3" fill="#e8401a" fill-opacity="0.101"/><rect x="1869.3" y="819" width="2.3" height="2.3" fill="#e8401a" fill-opacity="0.159"/><rect x="1860" y="821.3" width="2.3" height="2.3" fill="#e8401a" fill-opacity="0.152"/><rect x="1862.3" y="821.3" width="2.3" height="2.3" fill="#e8401a" fill-opacity="0.178"/><rect x="1864.7" y="821.3" width="2.3" height="2.3" fill="#e8401a" fill-opacity="0.288"/><rect x="1867" y="821.3" width="2.3" height="2.3" fill="#e8401a" fill-opacity="0.137"/><rect x="1871.7" y="821.3" width="2.3" height="2.3" fill="#e8401a" fill-opacity="0.175"/><rect x="1860" y="823.7" width="2.3" height="2.3" fill="#e8401a" fill-opacity="0.139"/><rect x="1862.3" y="823.7" width="2.3" height="2.3" fill="#e8401a" fill-opacity="0.213"/><rect x="1864.7" y="823.7" width="2.3" height="2.3" fill="#e8401a" fill-opacity="0.180"/><rect x="1867" y="823.7" width="2.3" height="2.3" fill="#e8401a" fill-opacity="0.351"/><rect x="1869.3" y="823.7" width="2.3" height="2.3" fill="#e8401a" fill-opacity="0.177"/><rect x="1871.7" y="823.7" width="2.3" height="2.3" fill="#e8401a" fill-opacity="0.179"/><rect x="1860" y="826" width="2.3" height="2.3" fill="#e8401a" fill-opacity="0.135"/><rect x="1862.3" y="826" width="2.3" height="2.3" fill="#e8401a" fill-opacity="0.108"/><rect x="1864.7" y="826" width="2.3" height="2.3" fill="#e8401a" fill-opacity="0.173"/><rect x="1867" y="826" width="2.3" height="2.3" fill="#e8401a" fill-opacity="0.275"/><rect x="1869.3" y="826" width="2.3" height="2.3" fill="#e8401a" fill-opacity="0.177"/><rect x="1867" y="828.3" width="2.3" height="2.3" fill="#e8401a" fill-opacity="0.145"/><rect x="1869.3" y="828.3" width="2.3" height="2.3" fill="#e8401a" fill-opacity="0.153"/><rect x="1871.7" y="828.3" width="2.3" height="2.3" fill="#e8401a" fill-opacity="0.185"/><rect x="1864.7" y="830.7" width="2.3" height="2.3" fill="#e8401a" fill-opacity="0.121"/><rect x="1869.3" y="830.7" width="2.3" height="2.3" fill="#e8401a" fill-opacity="0.106"/><rect x="1871.7" y="830.7" width="2.3" height="2.3" fill="#e8401a" fill-opacity="0.199"/></g>
</g>
<rect x="1856" y="84" width="22" height="3" fill="#e0401a" fill-opacity="0.7"/>
<rect x="1675" y="256" width="60" height="1.5" fill="#e0401a" fill-opacity="0.35"/>
<path d="M1039.6 53.4 L1110.6 121.3 L1210.8 218 L1301.7 300.5 L1388.6 381.3 L1498.9 485.8 L1597.3 572.5 L1672.5 647.7 L1763.6 730 L1858.2 816.9 L1876.8 837.3" stroke="#f25a24" stroke-opacity="0.40" stroke-width="5.5" fill="none"/>
<g><rect x="1093.5" y="105.5" width="2.2" height="2.2" fill="#d8381a" fill-opacity="0.56"/><rect x="1083.8" y="96.7" width="2" height="2" fill="#d8381a" fill-opacity="0.59"/><rect x="1091.4" y="96.2" width="1.6" height="1.6" fill="#d8381a" fill-opacity="0.32"/><rect x="1086.2" y="116.7" width="2.1" height="2.1" fill="#d8381a" fill-opacity="0.57"/><rect x="1050" y="51" width="2.1" height="2.1" fill="#d8381a" fill-opacity="0.54"/><rect x="1073.9" y="92.7" width="2.2" height="2.2" fill="#d8381a" fill-opacity="0.31"/><rect x="1097" y="105.4" width="1.6" height="1.6" fill="#d8381a" fill-opacity="0.26"/><rect x="1142.9" y="145.7" width="1.6" height="1.6" fill="#d8381a" fill-opacity="0.41"/><rect x="1149.9" y="148.2" width="1.9" height="1.9" fill="#d8381a" fill-opacity="0.33"/><rect x="1164.5" y="171.3" width="2" height="2" fill="#d8381a" fill-opacity="0.27"/><rect x="1206.3" y="205.4" width="2.5" height="2.5" fill="#d8381a" fill-opacity="0.45"/><rect x="1133.7" y="144.5" width="2.3" height="2.3" fill="#d8381a" fill-opacity="0.34"/><rect x="1135.8" y="148" width="1.8" height="1.8" fill="#d8381a" fill-opacity="0.59"/><rect x="1187.2" y="193.4" width="2" height="2" fill="#d8381a" fill-opacity="0.60"/><rect x="1144.8" y="148.8" width="2.8" height="2.8" fill="#d8381a" fill-opacity="0.41"/><rect x="1193.6" y="207" width="1.7" height="1.7" fill="#d8381a" fill-opacity="0.39"/><rect x="1146.3" y="151.4" width="1.7" height="1.7" fill="#d8381a" fill-opacity="0.39"/><rect x="1117.3" y="146.3" width="1.6" height="1.6" fill="#d8381a" fill-opacity="0.30"/><rect x="1214.4" y="224.2" width="2.9" height="2.9" fill="#d8381a" fill-opacity="0.48"/><rect x="1284" y="275.2" width="2" height="2" fill="#d8381a" fill-opacity="0.36"/><rect x="1247.4" y="250.9" width="1.9" height="1.9" fill="#d8381a" fill-opacity="0.57"/><rect x="1215.3" y="220.2" width="2.3" height="2.3" fill="#d8381a" fill-opacity="0.33"/><rect x="1284.6" y="274.4" width="2.6" height="2.6" fill="#d8381a" fill-opacity="0.41"/><rect x="1223.8" y="227.1" width="2.8" height="2.8" fill="#d8381a" fill-opacity="0.26"/><rect x="1297.9" y="289.1" width="2.8" height="2.8" fill="#d8381a" fill-opacity="0.38"/><rect x="1257.2" y="277.1" width="2.2" height="2.2" fill="#d8381a" fill-opacity="0.45"/><rect x="1246.8" y="245.8" width="2.3" height="2.3" fill="#d8381a" fill-opacity="0.27"/><rect x="1211.3" y="224.5" width="2.8" height="2.8" fill="#d8381a" fill-opacity="0.37"/><rect x="1341.4" y="322.5" width="1.7" height="1.7" fill="#d8381a" fill-opacity="0.44"/><rect x="1341.8" y="339" width="2.4" height="2.4" fill="#d8381a" fill-opacity="0.35"/><rect x="1330.8" y="315.7" width="2.3" height="2.3" fill="#d8381a" fill-opacity="0.49"/><rect x="1363.9" y="362.5" width="1.8" height="1.8" fill="#d8381a" fill-opacity="0.52"/><rect x="1344.7" y="335.6" width="3" height="3" fill="#d8381a" fill-opacity="0.55"/><rect x="1382.6" y="369.1" width="2.3" height="2.3" fill="#d8381a" fill-opacity="0.47"/><rect x="1334.5" y="332" width="2" height="2" fill="#d8381a" fill-opacity="0.59"/><rect x="1338.3" y="345.9" width="1.6" height="1.6" fill="#d8381a" fill-opacity="0.54"/><rect x="1308.1" y="308.3" width="1.8" height="1.8" fill="#d8381a" fill-opacity="0.41"/><rect x="1441.4" y="421" width="2.3" height="2.3" fill="#d8381a" fill-opacity="0.48"/><rect x="1466.9" y="448.8" width="1.7" height="1.7" fill="#d8381a" fill-opacity="0.37"/><rect x="1438.8" y="426.6" width="2.8" height="2.8" fill="#d8381a" fill-opacity="0.25"/><rect x="1481.2" y="460.2" width="2.8" height="2.8" fill="#d8381a" fill-opacity="0.60"/><rect x="1458.1" y="434.2" width="1.6" height="1.6" fill="#d8381a" fill-opacity="0.35"/><rect x="1429.2" y="431.1" width="2.8" height="2.8" fill="#d8381a" fill-opacity="0.27"/><rect x="1389.8" y="404.6" width="2.5" height="2.5" fill="#d8381a" fill-opacity="0.32"/><rect x="1445.7" y="447.2" width="2" height="2" fill="#d8381a" fill-opacity="0.57"/><rect x="1419.6" y="411.3" width="2" height="2" fill="#d8381a" fill-opacity="0.31"/><rect x="1424.6" y="406.3" width="1.5" height="1.5" fill="#d8381a" fill-opacity="0.33"/><rect x="1481.6" y="459.3" width="2.8" height="2.8" fill="#d8381a" fill-opacity="0.37"/><rect x="1471.1" y="454.3" width="2.4" height="2.4" fill="#d8381a" fill-opacity="0.51"/><rect x="1521.3" y="518.7" width="2" height="2" fill="#d8381a" fill-opacity="0.34"/><rect x="1513.6" y="510.6" width="1.8" height="1.8" fill="#d8381a" fill-opacity="0.28"/><rect x="1499.8" y="487.5" width="1.8" height="1.8" fill="#d8381a" fill-opacity="0.30"/><rect x="1558.6" y="536.3" width="2.5" height="2.5" fill="#d8381a" fill-opacity="0.40"/><rect x="1498.9" y="496.2" width="2.6" height="2.6" fill="#d8381a" fill-opacity="0.52"/><rect x="1508.7" y="499.9" width="2.6" height="2.6" fill="#d8381a" fill-opacity="0.31"/><rect x="1541.4" y="511.9" width="2.1" height="2.1" fill="#d8381a" fill-opacity="0.44"/><rect x="1577.7" y="552.8" width="2.9" height="2.9" fill="#d8381a" fill-opacity="0.31"/><rect x="1518.1" y="496.2" width="2.7" height="2.7" fill="#d8381a" fill-opacity="0.47"/><rect x="1540.8" y="527.4" width="2.5" height="2.5" fill="#d8381a" fill-opacity="0.34"/><rect x="1629.5" y="603.8" width="2.9" height="2.9" fill="#d8381a" fill-opacity="0.42"/><rect x="1623.3" y="603.4" width="2.4" height="2.4" fill="#d8381a" fill-opacity="0.50"/><rect x="1608.5" y="577.1" width="1.5" height="1.5" fill="#d8381a" fill-opacity="0.39"/><rect x="1606.2" y="586.2" width="2.3" height="2.3" fill="#d8381a" fill-opacity="0.42"/><rect x="1667.8" y="646.4" width="2" height="2" fill="#d8381a" fill-opacity="0.34"/><rect x="1619.7" y="599" width="1.9" height="1.9" fill="#d8381a" fill-opacity="0.50"/><rect x="1633.2" y="614.6" width="1.6" height="1.6" fill="#d8381a" fill-opacity="0.55"/><rect x="1603.9" y="582.7" width="2.2" height="2.2" fill="#d8381a" fill-opacity="0.52"/><rect x="1690.8" y="653.2" width="2.5" height="2.5" fill="#d8381a" fill-opacity="0.31"/><rect x="1679.5" y="658.9" width="1.7" height="1.7" fill="#d8381a" fill-opacity="0.26"/><rect x="1681.4" y="670.5" width="2.4" height="2.4" fill="#d8381a" fill-opacity="0.26"/><rect x="1765.9" y="717.2" width="2.7" height="2.7" fill="#d8381a" fill-opacity="0.38"/><rect x="1746.8" y="713" width="1.8" height="1.8" fill="#d8381a" fill-opacity="0.52"/><rect x="1728.8" y="688.9" width="2.7" height="2.7" fill="#d8381a" fill-opacity="0.55"/><rect x="1687.7" y="674.3" width="1.5" height="1.5" fill="#d8381a" fill-opacity="0.31"/><rect x="1733.7" y="713.3" width="2.2" height="2.2" fill="#d8381a" fill-opacity="0.26"/><rect x="1755" y="723.3" width="2.4" height="2.4" fill="#d8381a" fill-opacity="0.45"/><rect x="1720.6" y="683.4" width="2.3" height="2.3" fill="#d8381a" fill-opacity="0.53"/><rect x="1771.6" y="745" width="2.7" height="2.7" fill="#d8381a" fill-opacity="0.47"/><rect x="1795.6" y="754.1" width="1.9" height="1.9" fill="#d8381a" fill-opacity="0.25"/><rect x="1839.9" y="794.8" width="2.6" height="2.6" fill="#d8381a" fill-opacity="0.56"/><rect x="1820.8" y="803.5" width="1.9" height="1.9" fill="#d8381a" fill-opacity="0.34"/><rect x="1809.9" y="763" width="2.5" height="2.5" fill="#d8381a" fill-opacity="0.28"/><rect x="1768.1" y="732.9" width="2.6" height="2.6" fill="#d8381a" fill-opacity="0.41"/><rect x="1846.6" y="811.4" width="2.8" height="2.8" fill="#d8381a" fill-opacity="0.41"/><rect x="1809.8" y="777.4" width="1.5" height="1.5" fill="#d8381a" fill-opacity="0.60"/><rect x="1806.6" y="778.9" width="2.7" height="2.7" fill="#d8381a" fill-opacity="0.44"/></g>
<path d="M1039.6 53.4 L1110.6 121.3 L1210.8 218 L1301.7 300.5 L1388.6 381.3 L1498.9 485.8 L1597.3 572.5 L1672.5 647.7 L1763.6 730 L1858.2 816.9 L1876.8 837.3" stroke="#d3340f" stroke-width="2.3" fill="none"/>
</g>
<rect x="1035.2" y="54.2" width="845" height="786.8" fill="none" stroke="#000" stroke-width="2.4"/>
<rect x="1039.6" y="53.4" width="71" height="70.6" fill="none" stroke="#1a4ea9" stroke-width="5.7"/>
<rect x="1110.6" y="121.3" width="100.2" height="95.4" fill="none" stroke="#1a4ea9" stroke-width="5.7"/>
<rect x="1210.8" y="218" width="90.9" height="82.5" fill="none" stroke="#1a4ea9" stroke-width="5.7"/>
<rect x="1301.7" y="300.5" width="86.9" height="80.8" fill="none" stroke="#1a4ea9" stroke-width="5.7"/>
<rect x="1388.6" y="381.3" width="110.3" height="104.5" fill="none" stroke="#1a4ea9" stroke-width="5.7"/>
<rect x="1498.9" y="485.8" width="94.3" height="86.7" fill="none" stroke="#1a4ea9" stroke-width="5.7"/>
<rect x="1597.3" y="572.5" width="75.2" height="75.2" fill="none" stroke="#1a4ea9" stroke-width="5.7"/>
<rect x="1672.5" y="647.7" width="91.1" height="82.3" fill="none" stroke="#1a4ea9" stroke-width="5.7"/>
<rect x="1763.6" y="730" width="88.3" height="85.9" fill="none" stroke="#1a4ea9" stroke-width="5.7"/>
<rect x="1858.2" y="816.9" width="18.6" height="20.4" fill="none" stroke="#1a4ea9" stroke-width="5.7"/>
<text x="90.9" y="112.1" class="n">1</text>
<text x="203.4" y="192.5" class="n">2</text>
<text x="281.4" y="286.8" class="n">3</text>
<text x="366.6" y="371.9" class="n">4</text>
<text x="494" y="464" class="n">5</text>
<text x="593.1" y="563.7" class="n">6</text>
<text x="663.2" y="645.7" class="n">7</text>
<text x="750.2" y="722.3" class="n">8</text>
<text x="829.5" y="785.3" class="n">9</text>
<text x="860.8" y="836.4" class="h">HSY</text>
<text x="1115.6" y="109" class="n">1</text>
<text x="1218.7" y="193.4" class="n">2</text>
<text x="1305.8" y="280.5" class="n">3</text>
<text x="1391.9" y="360.9" class="n">4</text>
<text x="1514.5" y="454.6" class="n">5</text>
<text x="1599.3" y="550.4" class="n">6</text>
<text x="1687.8" y="630" class="n">7</text>
<text x="1771.2" y="709.2" class="n">8</text>
<text x="1856.8" y="784.8" class="n">9</text>
<text x="1887.3" y="836.4" class="h">HSY</text>
<rect x="904.8" y="250.2" width="19.2" height="395.1" fill="url(#ylorrd)" stroke="#000" stroke-width="2.2"/>
<line x1="924" y1="645" x2="934.8" y2="645" stroke="#000" stroke-width="2"/>
<text x="944.3" y="657.4" class="t">0</text>
<line x1="924" y1="561" x2="934.8" y2="561" stroke="#000" stroke-width="2"/>
<text x="944.3" y="573.4" class="t">5</text>
<line x1="924" y1="477" x2="934.8" y2="477" stroke="#000" stroke-width="2"/>
<text x="944.3" y="489.4" class="t">10</text>
<line x1="924" y1="393" x2="934.8" y2="393" stroke="#000" stroke-width="2"/>
<text x="944.3" y="405.4" class="t">15</text>
<line x1="924" y1="309" x2="934.8" y2="309" stroke="#000" stroke-width="2"/>
<text x="944.3" y="321.4" class="t">20</text>
<rect x="1932.5" y="251.2" width="19.1" height="393.1" fill="url(#ylorrd)" stroke="#000" stroke-width="2.2"/>
<line x1="1951.6" y1="644.2" x2="1962.4" y2="644.2" stroke="#000" stroke-width="2"/>
<text x="1971.6" y="656.6" class="t">0.0</text>
<line x1="1951.6" y1="598.2" x2="1962.4" y2="598.2" stroke="#000" stroke-width="2"/>
<text x="1971.6" y="610.6" class="t">2.5</text>
<line x1="1951.6" y1="552.2" x2="1962.4" y2="552.2" stroke="#000" stroke-width="2"/>
<text x="1971.6" y="564.6" class="t">5.0</text>
<line x1="1951.6" y1="506.2" x2="1962.4" y2="506.2" stroke="#000" stroke-width="2"/>
<text x="1971.6" y="518.6" class="t">7.5</text>
<line x1="1951.6" y1="460.2" x2="1962.4" y2="460.2" stroke="#000" stroke-width="2"/>
<text x="1971.6" y="472.6" class="t">10.0</text>
<line x1="1951.6" y1="414.2" x2="1962.4" y2="414.2" stroke="#000" stroke-width="2"/>
<text x="1971.6" y="426.6" class="t">12.5</text>
<line x1="1951.6" y1="368.2" x2="1962.4" y2="368.2" stroke="#000" stroke-width="2"/>
<text x="1971.6" y="380.6" class="t">15.0</text>
<line x1="1951.6" y1="322.2" x2="1962.4" y2="322.2" stroke="#000" stroke-width="2"/>
<text x="1971.6" y="334.6" class="t">17.5</text>
<line x1="1951.6" y1="276.2" x2="1962.4" y2="276.2" stroke="#000" stroke-width="2"/>
<text x="1971.6" y="288.6" class="t">20.0</text>
<text x="427.5" y="28.4" class="ti" style="font-size:35.6px">Whole_genome_500K</text>
<text x="1458" y="29.5" class="ti" style="font-size:35.4px">Whole_genome_500K</text>
<text x="428" y="873" class="xl" textLength="238" lengthAdjust="spacing">Bins (500kb per bin)</text>
<text x="1457.7" y="870.6" class="xl" textLength="238" lengthAdjust="spacing">Bins (500kb per bin)</text>
<text transform="translate(417.3 941) scale(1 1.035)" class="big" style="font-size:47.2px">SunUp</text>
<text transform="translate(1459.8 945.2) scale(1 1.03)" class="big" style="font-size:46.8px">Sunset</text>
</svg>
</body></html>
